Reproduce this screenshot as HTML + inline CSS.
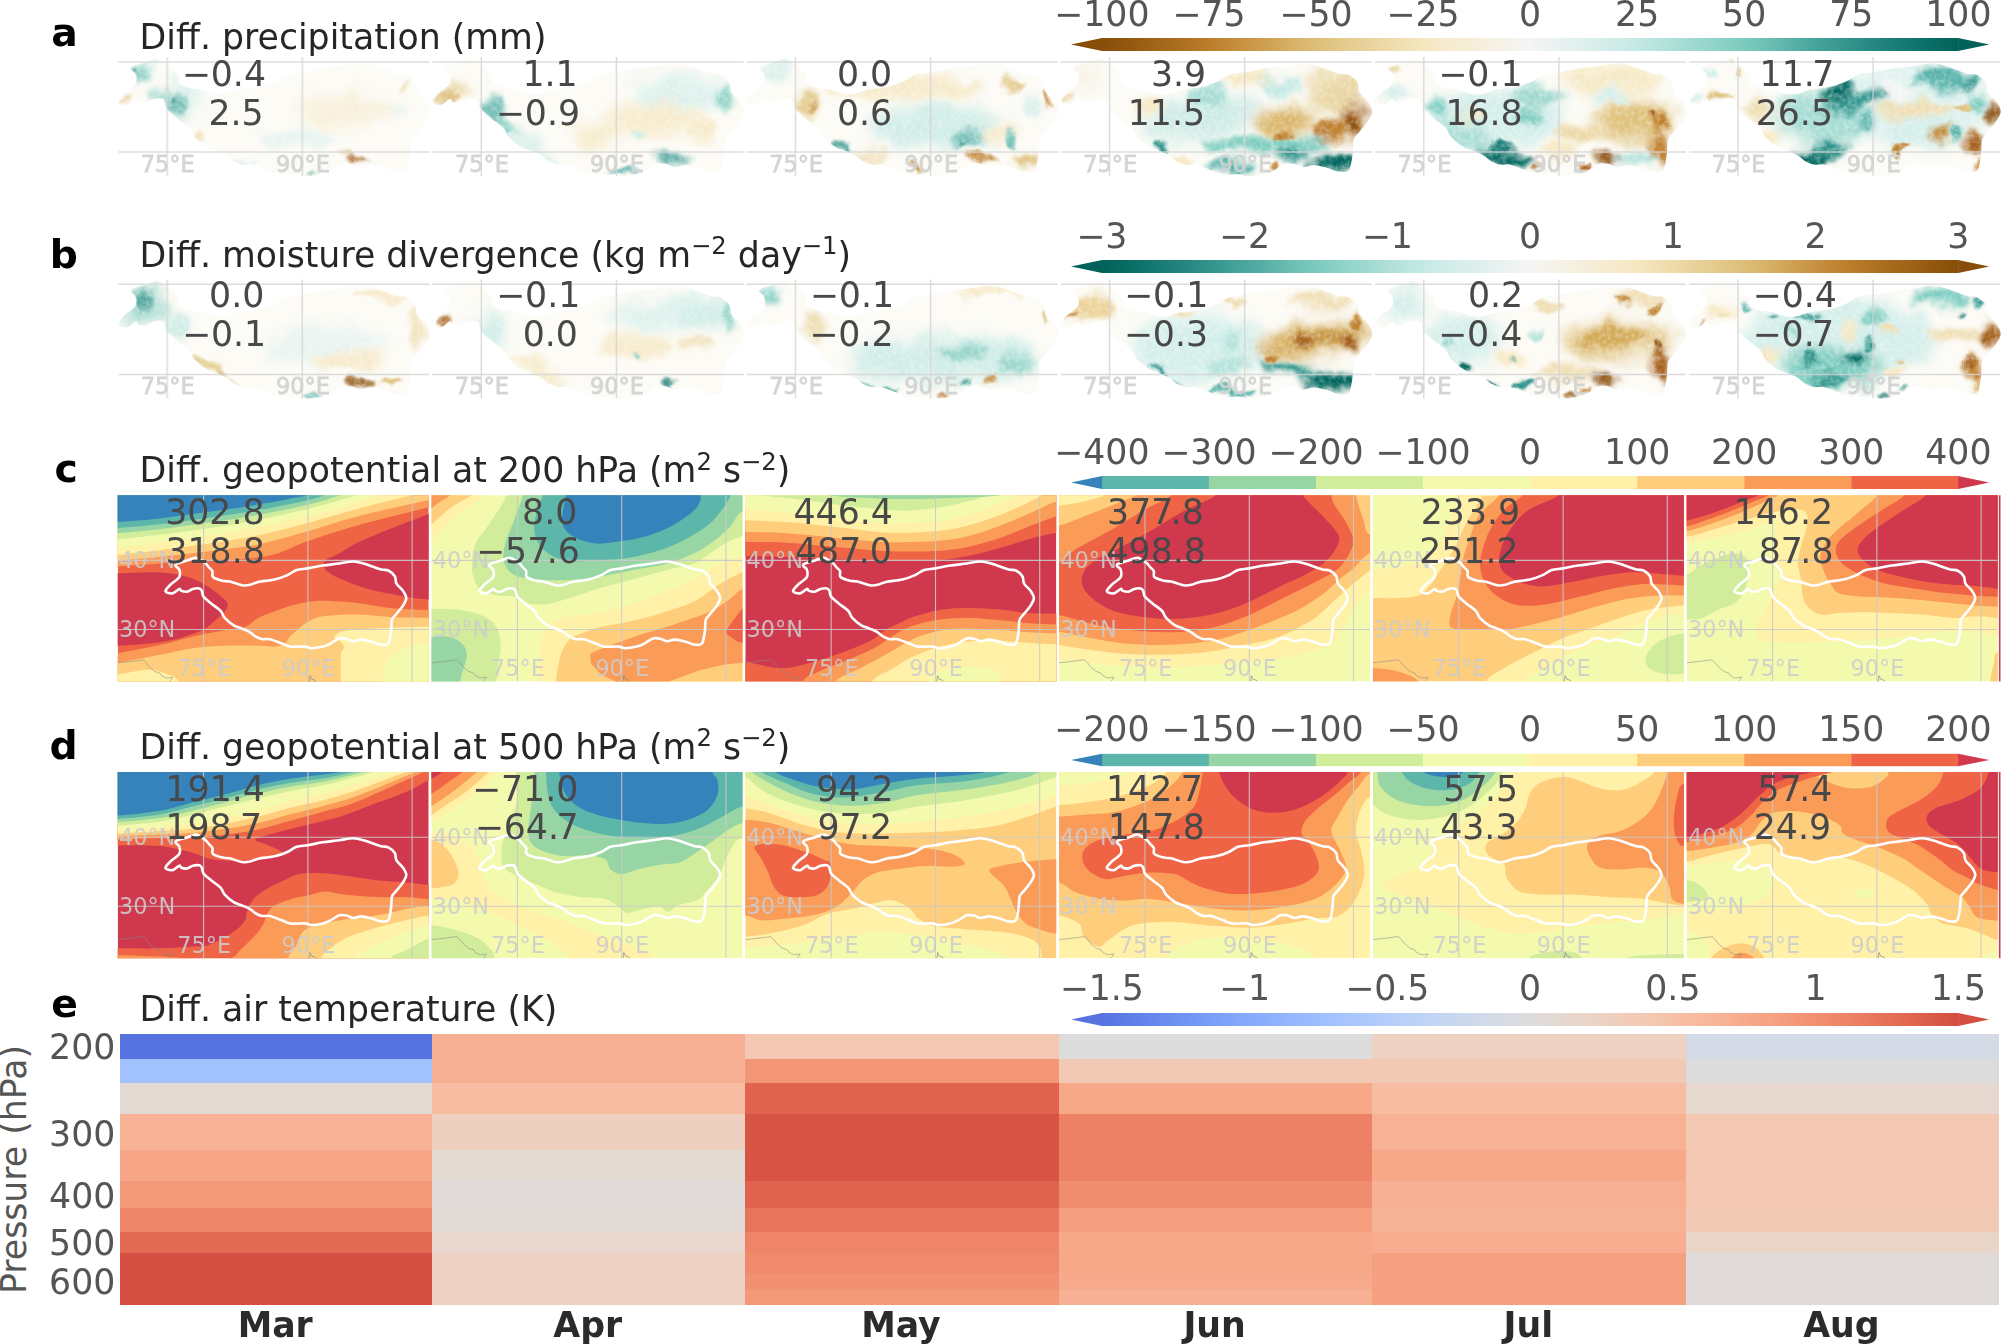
<!DOCTYPE html>
<html lang="en"><head><meta charset="utf-8"><title>Figure</title>
<style>html,body{margin:0;padding:0;background:#fff}svg{display:block}text{font-family:'DejaVu Sans','Liberation Sans',sans-serif}</style>
</head><body>
<svg width="2002" height="1344" viewBox="0 0 2002 1344">
<defs>
<path id="tpab" d="M12.5 10.5C14.2 8.6 23.0 6.7 27.4 5.2C31.8 3.7 35.4 1.1 39.1 1.5C42.8 1.9 46.9 5.2 49.7 7.4C52.5 9.5 54.3 12.3 56.1 14.3C57.8 16.2 59.5 17.1 60.3 19.1C61.1 21.2 58.7 24.5 60.9 26.5C63.0 28.6 69.4 30.4 73.0 31.4C76.7 32.3 78.4 31.4 82.6 32.4C86.9 33.4 94.0 36.5 98.5 37.2C102.9 38.0 105.5 37.4 109.1 36.7C112.6 36.0 114.4 34.1 119.7 32.9C125.0 31.8 134.8 31.2 141.0 29.8C147.2 28.4 152.1 26.5 156.8 24.5C161.5 22.4 164.8 18.9 169.4 17.4C173.9 15.9 178.6 16.3 184.3 15.3C189.9 14.4 196.6 12.6 203.3 11.5C210.1 10.5 218.0 9.8 224.6 8.9C231.1 8.1 237.3 6.3 242.6 6.3C247.9 6.3 250.5 7.3 256.4 8.9C262.2 10.6 272.3 14.9 277.6 16.4C282.9 17.9 285.1 16.5 288.2 18.1C291.4 19.6 294.9 22.7 296.7 25.5C298.4 28.3 297.1 32.0 298.9 35.2C300.6 38.3 305.2 41.5 307.3 44.7C309.4 47.9 311.6 51.1 311.6 54.3C311.6 57.5 309.4 60.5 307.3 63.8C305.2 67.2 301.3 71.5 298.9 74.5C296.5 77.6 294.2 78.7 293.0 82.1C291.9 85.5 292.5 90.8 292.0 94.9C291.6 99.0 291.1 103.4 290.3 106.6C289.5 109.8 289.3 112.7 287.2 114.0C285.1 115.4 281.0 115.1 277.6 114.6C274.2 114.0 271.0 112.0 267.0 110.9C262.9 109.8 257.3 108.3 253.2 108.2C249.2 108.1 245.8 110.4 242.6 110.3C239.4 110.1 237.2 107.7 234.2 107.1C231.2 106.5 228.0 105.6 224.6 106.6C221.2 107.6 217.5 111.2 214.0 113.0C210.4 114.8 207.6 116.2 203.3 117.3C199.1 118.4 192.4 119.4 188.6 119.4C184.7 119.4 184.6 117.6 180.0 117.3C175.4 116.9 166.2 118.0 161.1 117.3C156.0 116.6 153.8 114.6 149.4 113.0C145.0 111.4 138.7 108.5 134.6 107.6C130.6 106.8 128.1 108.2 125.0 107.6C122.0 107.1 119.3 106.0 116.5 104.4C113.6 102.8 111.0 99.8 108.0 98.0C105.0 96.2 101.8 95.2 98.5 93.8C95.1 92.4 91.5 91.8 87.8 89.5C84.1 87.2 79.0 83.0 76.2 79.9C73.3 76.8 74.0 74.1 71.0 70.9C68.0 67.7 61.9 63.8 58.1 60.7C54.4 57.6 50.6 54.8 48.7 52.1C46.7 49.4 47.4 46.4 46.5 44.7C45.6 42.9 45.3 42.0 43.4 41.5C41.4 41.1 37.5 41.4 34.8 42.1C32.1 42.8 29.9 45.3 27.4 45.7C24.9 46.1 21.7 45.3 20.0 44.7C18.3 44.1 19.2 41.5 17.3 42.1C15.4 42.6 11.4 47.4 8.4 47.9C5.3 48.5 -0.4 47.1 -0.7 45.2C-1.1 43.2 3.8 38.7 6.1 36.2C8.5 33.7 11.7 32.1 13.7 30.3C15.6 28.5 17.2 27.7 17.8 25.5C18.4 23.3 18.2 19.4 17.3 16.9C16.4 14.4 10.8 12.5 12.5 10.5Z"/>
<path id="tpcd" d="M57.9 69.5C59.2 68.0 66.0 66.6 69.4 65.4C72.8 64.3 75.5 62.3 78.4 62.6C81.3 62.9 84.4 65.5 86.6 67.1C88.8 68.7 90.1 70.9 91.5 72.4C92.9 73.9 94.2 74.5 94.8 76.1C95.4 77.7 93.6 80.2 95.2 81.8C96.8 83.4 101.8 84.8 104.6 85.5C107.4 86.3 108.7 85.6 112.0 86.3C115.3 87.1 120.8 89.5 124.2 90.0C127.6 90.6 129.7 90.2 132.4 89.6C135.1 89.0 136.5 87.6 140.6 86.7C144.7 85.8 152.2 85.4 157.0 84.3C161.8 83.2 165.6 81.8 169.2 80.2C172.9 78.6 175.4 76.0 178.9 74.8C182.4 73.6 186.0 74.0 190.4 73.2C194.8 72.5 199.9 71.1 205.1 70.3C210.3 69.5 216.4 69.0 221.5 68.3C226.6 67.6 231.3 66.3 235.4 66.3C239.5 66.3 241.5 67.0 246.0 68.3C250.5 69.6 258.3 72.8 262.4 74.0C266.5 75.2 268.2 74.1 270.6 75.3C273.1 76.5 275.7 78.8 277.1 81.0C278.5 83.2 277.4 86.0 278.8 88.4C280.2 90.9 283.7 93.2 285.3 95.7C286.9 98.1 288.6 100.6 288.6 103.1C288.6 105.5 286.9 107.8 285.3 110.4C283.7 113.0 280.6 116.3 278.8 118.6C277.0 120.9 275.2 121.8 274.3 124.4C273.4 127.0 273.9 131.1 273.5 134.2C273.2 137.3 272.8 140.8 272.2 143.2C271.6 145.7 271.4 147.9 269.8 148.9C268.2 149.9 265.0 149.7 262.4 149.3C259.8 148.9 257.3 147.3 254.2 146.5C251.1 145.7 246.7 144.5 243.6 144.4C240.5 144.3 237.8 146.1 235.4 146.0C233.0 145.9 231.2 144.1 228.9 143.6C226.6 143.1 224.1 142.5 221.5 143.2C218.9 144.0 216.0 146.7 213.3 148.1C210.6 149.5 208.4 150.6 205.1 151.4C201.8 152.2 196.7 153.0 193.7 153.0C190.7 153.0 190.6 151.7 187.1 151.4C183.6 151.1 176.4 152.0 172.5 151.4C168.6 150.9 166.9 149.3 163.5 148.1C160.1 146.9 155.2 144.7 152.1 144.0C149.0 143.3 147.0 144.4 144.7 144.0C142.4 143.6 140.3 142.7 138.1 141.5C135.9 140.3 133.9 137.9 131.6 136.6C129.3 135.2 126.8 134.5 124.2 133.4C121.6 132.3 118.9 131.9 116.0 130.1C113.1 128.3 109.2 125.1 107.0 122.7C104.8 120.3 105.3 118.3 103.0 115.8C100.7 113.4 96.0 110.4 93.1 108.0C90.2 105.6 87.3 103.5 85.8 101.4C84.3 99.4 84.8 97.0 84.1 95.7C83.4 94.3 83.2 93.6 81.7 93.3C80.2 93.0 77.2 93.2 75.1 93.7C73.1 94.2 71.3 96.2 69.4 96.5C67.5 96.8 65.0 96.2 63.7 95.7C62.4 95.2 63.1 93.3 61.6 93.7C60.1 94.1 57.0 97.8 54.7 98.2C52.4 98.6 48.0 97.6 47.7 96.1C47.4 94.6 51.2 91.1 53.0 89.2C54.9 87.3 57.3 86.1 58.8 84.7C60.3 83.3 61.5 82.7 62.0 81.0C62.5 79.3 62.3 76.3 61.6 74.4C60.9 72.5 56.6 71.0 57.9 69.5Z"/>
<clipPath id="cliptp"><use href="#tpab"/></clipPath>
<clipPath id="clipcd"><rect x="0" y="0" width="311.0" height="186.2"/></clipPath>
<filter id="bl0" x="-30%" y="-30%" width="160%" height="160%"><feGaussianBlur stdDeviation="1.6"/></filter>
<filter id="bl1" x="-30%" y="-30%" width="160%" height="160%"><feGaussianBlur stdDeviation="3.2"/></filter>
<filter id="bl2" x="-30%" y="-30%" width="160%" height="160%"><feGaussianBlur stdDeviation="6.5"/></filter>
<filter id="warp" x="-5%" y="-10%" width="110%" height="120%" color-interpolation-filters="sRGB"><feTurbulence type="fractalNoise" baseFrequency="0.035" numOctaves="3" seed="7" result="t"/><feDisplacementMap in="SourceGraphic" in2="t" scale="22" xChannelSelector="R" yChannelSelector="G" result="d"/><feTurbulence type="fractalNoise" baseFrequency="0.22" numOctaves="2" seed="3" result="n"/><feColorMatrix in="n" type="matrix" values="0 0 0 0 1  0 0 0 0 1  0 0 0 0 1  0.8 0 0 0 -0.33" result="w"/><feComposite in="w" in2="d" operator="in" result="wm"/><feMerge><feMergeNode in="d"/><feMergeNode in="wm"/></feMerge></filter>
</defs>
<g id="rows_ab">
<g transform="translate(118.4,57.0)"><g clip-path="url(#cliptp)"><rect x="-5" y="-5" width="325" height="135" fill="#fcfbf6"/><g filter="url(#warp)" opacity="0.8"><g filter="url(#bl2)"><ellipse cx="226.3" cy="52.9" rx="49.5" ry="16.5" fill="#f8eed6"/><ellipse cx="65.4" cy="40.7" rx="16.5" ry="19.8" fill="#d5efeb" transform="rotate(30 65.4 40.7)"/></g><g filter="url(#bl1)"><ellipse cx="16.3" cy="16.4" rx="18.1" ry="9.9" fill="#9bd7cd" transform="rotate(-15 16.3 16.4)"/><ellipse cx="46.0" cy="44.5" rx="7.4" ry="18.1" fill="#9bd7cd" transform="rotate(-35 46.0 44.5)"/><ellipse cx="182.6" cy="80.9" rx="41.2" ry="9.9" fill="#e3f3f0"/><ellipse cx="278.7" cy="52.9" rx="9.9" ry="6.6" fill="#e3f3f0"/><ellipse cx="21.8" cy="16.3" rx="7.4" ry="6.6" fill="#80cdc1"/><ellipse cx="58.5" cy="47.7" rx="10.7" ry="8.2" fill="#5ab4ac" transform="rotate(40 58.5 47.7)"/></g><g filter="url(#bl0)"><ellipse cx="121.5" cy="103.6" rx="16.5" ry="3.3" fill="#d5efeb"/><ellipse cx="16.5" cy="11.0" rx="4.1" ry="2.0" fill="#35978f" transform="rotate(-20 16.5 11.0)"/><ellipse cx="51.6" cy="42.5" rx="2.5" ry="2.5" fill="#1b7d76"/><ellipse cx="7.8" cy="43.3" rx="6.6" ry="2.5" fill="#e6cf9a" transform="rotate(-20 7.8 43.3)"/><ellipse cx="240.3" cy="103.6" rx="8.2" ry="3.0" fill="#a6611a"/><ellipse cx="231.6" cy="99.3" rx="4.9" ry="1.6" fill="#d8b365"/><ellipse cx="287.5" cy="30.3" rx="4.9" ry="3.3" fill="#f0dfb5"/><ellipse cx="191.4" cy="117.3" rx="6.6" ry="1.3" fill="#35978f"/><ellipse cx="291.9" cy="100.2" rx="1.0" ry="3.3" fill="#5ab4ac"/><ellipse cx="81.3" cy="77.4" rx="4.9" ry="6.6" fill="#f0dfb5"/></g></g></g><line x1="48.8" y1="0" x2="48.8" y2="119" stroke="#d4d4d4" stroke-width="1.5" opacity="0.8"/><line x1="183.9" y1="0" x2="183.9" y2="119" stroke="#d4d4d4" stroke-width="1.5" opacity="0.8"/><line x1="0" y1="4.9" x2="311" y2="4.9" stroke="#d4d4d4" stroke-width="1.5" opacity="0.8"/><line x1="0" y1="95.0" x2="311" y2="95.0" stroke="#d4d4d4" stroke-width="1.5" opacity="0.8"/><text x="49.4" y="115" font-size="22.4" fill="#d2d2d2" stroke="#d2d2d2" stroke-width="0.8" fill-opacity="0.9" stroke-opacity="0.9" text-anchor="middle">75°E</text><text x="184.5" y="115" font-size="22.4" fill="#d2d2d2" stroke="#d2d2d2" stroke-width="0.8" fill-opacity="0.9" stroke-opacity="0.9" text-anchor="middle">90°E</text></g>
<g transform="translate(432.5,57.0)"><g clip-path="url(#cliptp)"><rect x="-5" y="-5" width="325" height="135" fill="#fcfbf6"/><g filter="url(#warp)" opacity="0.8"><g filter="url(#bl2)"><ellipse cx="247.3" cy="36.5" rx="47.8" ry="16.0" fill="#d5efeb"/><ellipse cx="221.7" cy="62.1" rx="47.8" ry="16.0" fill="#f6e8c3"/><ellipse cx="164.0" cy="78.1" rx="19.1" ry="16.0" fill="#f6e8c3"/></g><g filter="url(#bl1)"><ellipse cx="16.2" cy="38.7" rx="14.0" ry="6.6" fill="#d8b365" transform="rotate(-15 16.2 38.7)"/><ellipse cx="29.4" cy="32.9" rx="9.9" ry="8.2" fill="#ecd9a8"/><ellipse cx="80.5" cy="74.1" rx="26.4" ry="5.8" fill="#80cdc1" transform="rotate(40 80.5 74.1)"/><ellipse cx="269.5" cy="74.9" rx="16.0" ry="9.6" fill="#f6e8c3"/><ellipse cx="96.9" cy="90.9" rx="32.0" ry="9.9" fill="#d5efeb" transform="rotate(30 96.9 90.9)"/><ellipse cx="60.2" cy="52.5" rx="12.9" ry="12.9" fill="#5ab4ac" transform="rotate(40 60.2 52.5)"/><ellipse cx="295.2" cy="43.0" rx="11.5" ry="9.6" fill="#80cdc1"/><ellipse cx="240.8" cy="102.1" rx="12.9" ry="6.4" fill="#35978f"/><ellipse cx="16.2" cy="28.0" rx="6.6" ry="6.6" fill="#f0dfb5"/></g><g filter="url(#bl0)"><ellipse cx="70.6" cy="67.5" rx="9.9" ry="4.9" fill="#80cdc1" transform="rotate(40 70.6 67.5)"/><ellipse cx="189.7" cy="113.4" rx="16.0" ry="3.8" fill="#5ab4ac"/><ellipse cx="208.9" cy="73.3" rx="9.6" ry="4.8" fill="#c7eae5"/><ellipse cx="23.4" cy="41.3" rx="9.6" ry="4.8" fill="#d8b365"/></g></g></g><line x1="48.8" y1="0" x2="48.8" y2="119" stroke="#d4d4d4" stroke-width="1.5" opacity="0.8"/><line x1="183.9" y1="0" x2="183.9" y2="119" stroke="#d4d4d4" stroke-width="1.5" opacity="0.8"/><line x1="0" y1="4.9" x2="311" y2="4.9" stroke="#d4d4d4" stroke-width="1.5" opacity="0.8"/><line x1="0" y1="95.0" x2="311" y2="95.0" stroke="#d4d4d4" stroke-width="1.5" opacity="0.8"/><text x="49.4" y="115" font-size="22.4" fill="#d2d2d2" stroke="#d2d2d2" stroke-width="0.8" fill-opacity="0.9" stroke-opacity="0.9" text-anchor="middle">75°E</text><text x="184.5" y="115" font-size="22.4" fill="#d2d2d2" stroke="#d2d2d2" stroke-width="0.8" fill-opacity="0.9" stroke-opacity="0.9" text-anchor="middle">90°E</text></g>
<g transform="translate(746.7,57.0)"><g clip-path="url(#cliptp)"><rect x="-5" y="-5" width="325" height="135" fill="#fcfbf6"/><g filter="url(#warp)" opacity="0.8"><g filter="url(#bl2)"><ellipse cx="188.8" cy="68.5" rx="64.3" ry="22.4" fill="#c7eae5"/></g><g filter="url(#bl1)"><ellipse cx="156.8" cy="30.1" rx="79.9" ry="12.9" fill="#f6e8c3"/><ellipse cx="60.9" cy="46.1" rx="12.9" ry="12.9" fill="#dfc27d" transform="rotate(45 60.9 46.1)"/><ellipse cx="275.2" cy="103.6" rx="12.9" ry="6.4" fill="#d8b365"/><ellipse cx="124.8" cy="97.4" rx="16.0" ry="6.4" fill="#f0dfb5"/><ellipse cx="252.8" cy="78.1" rx="19.1" ry="6.4" fill="#f6e8c3"/><ellipse cx="220.8" cy="81.4" rx="12.9" ry="11.2" fill="#5ab4ac"/><ellipse cx="284.7" cy="49.4" rx="12.9" ry="12.9" fill="#d5efeb"/><ellipse cx="28.9" cy="14.1" rx="16.0" ry="9.6" fill="#d5efeb"/></g><g filter="url(#bl0)"><ellipse cx="65.7" cy="50.9" rx="4.8" ry="4.8" fill="#c99a4a"/><ellipse cx="265.6" cy="27.0" rx="9.6" ry="4.8" fill="#dfc27d"/><ellipse cx="236.8" cy="102.1" rx="12.9" ry="4.8" fill="#bf812d"/><ellipse cx="169.7" cy="111.7" rx="3.3" ry="3.3" fill="#bf812d"/><ellipse cx="305.5" cy="46.1" rx="2.6" ry="7.9" fill="#bf812d"/><ellipse cx="219.3" cy="89.3" rx="3.3" ry="3.3" fill="#1b7d76"/><ellipse cx="265.6" cy="84.5" rx="4.8" ry="6.4" fill="#5ab4ac"/><ellipse cx="96.2" cy="90.9" rx="12.9" ry="3.8" fill="#35978f" transform="rotate(30 96.2 90.9)"/></g></g></g><line x1="48.8" y1="0" x2="48.8" y2="119" stroke="#d4d4d4" stroke-width="1.5" opacity="0.8"/><line x1="183.9" y1="0" x2="183.9" y2="119" stroke="#d4d4d4" stroke-width="1.5" opacity="0.8"/><line x1="0" y1="4.9" x2="311" y2="4.9" stroke="#d4d4d4" stroke-width="1.5" opacity="0.8"/><line x1="0" y1="95.0" x2="311" y2="95.0" stroke="#d4d4d4" stroke-width="1.5" opacity="0.8"/><text x="49.4" y="115" font-size="22.4" fill="#d2d2d2" stroke="#d2d2d2" stroke-width="0.8" fill-opacity="0.9" stroke-opacity="0.9" text-anchor="middle">75°E</text><text x="184.5" y="115" font-size="22.4" fill="#d2d2d2" stroke="#d2d2d2" stroke-width="0.8" fill-opacity="0.9" stroke-opacity="0.9" text-anchor="middle">90°E</text></g>
<g transform="translate(1060.8,57.0)"><g clip-path="url(#cliptp)"><rect x="-5" y="-5" width="325" height="135" fill="#fcfbf6"/><g filter="url(#warp)"><g filter="url(#bl2)"><ellipse cx="138.5" cy="60.9" rx="57.7" ry="21.4" fill="#d0ece7" transform="rotate(-10 138.5 60.9)"/><ellipse cx="278.6" cy="36.2" rx="29.7" ry="24.7" fill="#ead7a6"/><ellipse cx="224.2" cy="64.2" rx="29.7" ry="13.2" fill="#d8b365"/><ellipse cx="293.4" cy="64.2" rx="14.8" ry="16.5" fill="#a6611a"/><ellipse cx="23.1" cy="19.7" rx="16.5" ry="13.2" fill="#f8f3e6"/></g><g filter="url(#bl1)"><ellipse cx="188.0" cy="21.4" rx="33.0" ry="6.6" fill="#f6e8c3"/><ellipse cx="89.1" cy="49.4" rx="13.2" ry="8.2" fill="#f6e8c3"/><ellipse cx="220.9" cy="29.6" rx="21.4" ry="9.9" fill="#c7eae5"/><ellipse cx="146.7" cy="39.5" rx="19.8" ry="9.9" fill="#a8ddd5"/><ellipse cx="204.4" cy="87.3" rx="65.9" ry="8.2" fill="#80cdc1"/><ellipse cx="171.5" cy="110.4" rx="24.7" ry="6.6" fill="#5ab4ac"/><ellipse cx="270.4" cy="75.8" rx="19.8" ry="8.2" fill="#bf812d"/><ellipse cx="295.1" cy="67.5" rx="8.2" ry="8.2" fill="#8c510a"/><ellipse cx="234.1" cy="100.5" rx="13.2" ry="6.6" fill="#35978f"/><ellipse cx="272.0" cy="105.4" rx="21.4" ry="9.1" fill="#01665e"/></g><g filter="url(#bl0)"><ellipse cx="102.2" cy="92.3" rx="9.9" ry="4.1" fill="#35978f" transform="rotate(30 102.2 92.3)"/><ellipse cx="224.2" cy="77.4" rx="6.6" ry="4.9" fill="#bf812d"/><ellipse cx="122.0" cy="100.5" rx="9.9" ry="4.1" fill="#f6e8c3"/><ellipse cx="214.3" cy="110.4" rx="4.1" ry="4.1" fill="#bf812d"/><ellipse cx="6.6" cy="41.2" rx="6.6" ry="3.3" fill="#f0dfb5"/></g></g></g><line x1="48.8" y1="0" x2="48.8" y2="119" stroke="#d4d4d4" stroke-width="1.5" opacity="0.8"/><line x1="183.9" y1="0" x2="183.9" y2="119" stroke="#d4d4d4" stroke-width="1.5" opacity="0.8"/><line x1="0" y1="4.9" x2="311" y2="4.9" stroke="#d4d4d4" stroke-width="1.5" opacity="0.8"/><line x1="0" y1="95.0" x2="311" y2="95.0" stroke="#d4d4d4" stroke-width="1.5" opacity="0.8"/><text x="49.4" y="115" font-size="22.4" fill="#d2d2d2" stroke="#d2d2d2" stroke-width="0.8" fill-opacity="0.9" stroke-opacity="0.9" text-anchor="middle">75°E</text><text x="184.5" y="115" font-size="22.4" fill="#d2d2d2" stroke="#d2d2d2" stroke-width="0.8" fill-opacity="0.9" stroke-opacity="0.9" text-anchor="middle">90°E</text></g>
<g transform="translate(1375.0,57.0)"><g clip-path="url(#cliptp)"><rect x="-5" y="-5" width="325" height="135" fill="#fcfbf6"/><g filter="url(#warp)"><g filter="url(#bl2)"><ellipse cx="120.9" cy="60.9" rx="65.9" ry="29.7" fill="#d5efeb"/><ellipse cx="236.3" cy="23.0" rx="49.5" ry="13.2" fill="#f6e8c3"/><ellipse cx="261.0" cy="64.2" rx="41.2" ry="21.4" fill="#dfc27d"/><ellipse cx="87.9" cy="80.7" rx="33.0" ry="13.2" fill="#a8ddd5" transform="rotate(30 87.9 80.7)"/></g><g filter="url(#bl1)"><ellipse cx="203.3" cy="74.1" rx="24.7" ry="9.9" fill="#ecd9a8"/><ellipse cx="183.5" cy="93.9" rx="19.8" ry="8.2" fill="#f6e8c3"/><ellipse cx="162.1" cy="39.5" rx="24.7" ry="8.2" fill="#9bd7cd"/><ellipse cx="153.8" cy="56.0" rx="13.2" ry="6.6" fill="#80cdc1"/><ellipse cx="61.5" cy="49.4" rx="11.5" ry="6.6" fill="#80cdc1" transform="rotate(30 61.5 49.4)"/><ellipse cx="261.0" cy="100.5" rx="19.8" ry="6.6" fill="#b5e3dc"/><ellipse cx="236.3" cy="39.5" rx="19.8" ry="6.6" fill="#d5efeb"/><ellipse cx="96.1" cy="60.9" rx="9.9" ry="6.6" fill="#f6e8c3"/><ellipse cx="134.1" cy="100.5" rx="28.0" ry="6.6" fill="#01665e" transform="rotate(15 134.1 100.5)"/><ellipse cx="285.7" cy="65.9" rx="11.5" ry="11.5" fill="#bf812d"/><ellipse cx="284.1" cy="93.9" rx="9.9" ry="14.8" fill="#bf812d"/><ellipse cx="234.6" cy="103.8" rx="11.5" ry="5.8" fill="#8c510a"/><ellipse cx="22.0" cy="36.2" rx="16.5" ry="6.6" fill="#d5efeb"/></g><g filter="url(#bl0)"><ellipse cx="125.8" cy="89.0" rx="9.9" ry="4.9" fill="#1b7d76"/><ellipse cx="274.2" cy="56.0" rx="4.9" ry="4.9" fill="#a6611a"/><ellipse cx="209.9" cy="111.2" rx="6.6" ry="3.3" fill="#a6611a"/><ellipse cx="163.7" cy="114.5" rx="4.9" ry="2.0" fill="#a6611a"/><ellipse cx="20.3" cy="9.0" rx="6.6" ry="1.6" fill="#dfc27d"/></g></g></g><line x1="48.8" y1="0" x2="48.8" y2="119" stroke="#d4d4d4" stroke-width="1.5" opacity="0.8"/><line x1="183.9" y1="0" x2="183.9" y2="119" stroke="#d4d4d4" stroke-width="1.5" opacity="0.8"/><line x1="0" y1="4.9" x2="311" y2="4.9" stroke="#d4d4d4" stroke-width="1.5" opacity="0.8"/><line x1="0" y1="95.0" x2="311" y2="95.0" stroke="#d4d4d4" stroke-width="1.5" opacity="0.8"/><text x="49.4" y="115" font-size="22.4" fill="#d2d2d2" stroke="#d2d2d2" stroke-width="0.8" fill-opacity="0.9" stroke-opacity="0.9" text-anchor="middle">75°E</text><text x="184.5" y="115" font-size="22.4" fill="#d2d2d2" stroke="#d2d2d2" stroke-width="0.8" fill-opacity="0.9" stroke-opacity="0.9" text-anchor="middle">90°E</text></g>
<g transform="translate(1689.2,57.0)"><g clip-path="url(#cliptp)"><rect x="-5" y="-5" width="325" height="135" fill="#fcfbf6"/><g filter="url(#warp)"><g filter="url(#bl2)"><ellipse cx="223.5" cy="48.4" rx="84.2" ry="42.1" fill="#dff2ef"/><ellipse cx="134.5" cy="59.7" rx="48.6" ry="27.5" fill="#a8ddd5"/><ellipse cx="231.6" cy="72.7" rx="32.4" ry="19.4" fill="#d5efeb"/></g><g filter="url(#bl1)"><ellipse cx="163.6" cy="43.6" rx="32.4" ry="7.3" fill="#35978f" transform="rotate(-15 163.6 43.6)"/><ellipse cx="207.3" cy="32.2" rx="16.2" ry="9.7" fill="#f5f5f5"/><ellipse cx="223.5" cy="51.6" rx="40.5" ry="8.1" fill="#f0dfb5"/><ellipse cx="69.8" cy="51.6" rx="14.6" ry="9.7" fill="#f0dfb5"/><ellipse cx="81.1" cy="79.2" rx="9.7" ry="8.1" fill="#f6e8c3"/><ellipse cx="251.0" cy="22.5" rx="24.3" ry="9.7" fill="#5ab4ac"/><ellipse cx="280.2" cy="25.7" rx="9.7" ry="6.5" fill="#35978f"/><ellipse cx="288.3" cy="46.8" rx="11.3" ry="8.1" fill="#80cdc1"/><ellipse cx="175.0" cy="64.6" rx="8.1" ry="6.5" fill="#5ab4ac"/><ellipse cx="142.6" cy="92.1" rx="16.2" ry="9.7" fill="#35978f"/><ellipse cx="147.5" cy="35.5" rx="14.6" ry="6.5" fill="#01665e" transform="rotate(-15 147.5 35.5)"/><ellipse cx="123.2" cy="100.2" rx="17.8" ry="6.5" fill="#01665e"/><ellipse cx="251.0" cy="77.5" rx="12.9" ry="5.7" fill="#bf812d"/><ellipse cx="285.0" cy="87.2" rx="9.7" ry="9.7" fill="#a6611a"/><ellipse cx="306.1" cy="58.1" rx="6.5" ry="8.1" fill="#8c510a"/></g><g filter="url(#bl0)"><ellipse cx="268.8" cy="79.2" rx="4.0" ry="4.0" fill="#5ab4ac"/><ellipse cx="272.1" cy="50.0" rx="9.7" ry="4.9" fill="#dfc27d"/><ellipse cx="213.8" cy="90.5" rx="11.3" ry="4.9" fill="#bf812d"/><ellipse cx="213.8" cy="97.0" rx="3.2" ry="3.2" fill="#a6611a"/><ellipse cx="286.6" cy="108.3" rx="4.9" ry="4.9" fill="#bf812d"/><ellipse cx="30.9" cy="38.7" rx="12.9" ry="4.0" fill="#dfc27d"/><ellipse cx="42.3" cy="4.7" rx="4.9" ry="3.2" fill="#dfc27d"/><ellipse cx="53.6" cy="19.3" rx="3.2" ry="3.2" fill="#dfc27d"/><ellipse cx="18.0" cy="14.4" rx="9.7" ry="4.9" fill="#d5efeb"/><ellipse cx="8.3" cy="41.9" rx="6.5" ry="2.4" fill="#d5efeb"/></g></g></g><line x1="48.8" y1="0" x2="48.8" y2="119" stroke="#d4d4d4" stroke-width="1.5" opacity="0.8"/><line x1="183.9" y1="0" x2="183.9" y2="119" stroke="#d4d4d4" stroke-width="1.5" opacity="0.8"/><line x1="0" y1="4.9" x2="311" y2="4.9" stroke="#d4d4d4" stroke-width="1.5" opacity="0.8"/><line x1="0" y1="95.0" x2="311" y2="95.0" stroke="#d4d4d4" stroke-width="1.5" opacity="0.8"/><text x="49.4" y="115" font-size="22.4" fill="#d2d2d2" stroke="#d2d2d2" stroke-width="0.8" fill-opacity="0.9" stroke-opacity="0.9" text-anchor="middle">75°E</text><text x="184.5" y="115" font-size="22.4" fill="#d2d2d2" stroke="#d2d2d2" stroke-width="0.8" fill-opacity="0.9" stroke-opacity="0.9" text-anchor="middle">90°E</text></g>
<g transform="translate(118.4,279.4)"><g clip-path="url(#cliptp)"><rect x="-5" y="-5" width="325" height="135" fill="#fcfbf6"/><g filter="url(#warp)" opacity="0.8"><g filter="url(#bl2)"><ellipse cx="205.9" cy="66.1" rx="57.7" ry="19.1" fill="#e3f3f0"/><ellipse cx="24.9" cy="27.9" rx="23.9" ry="19.1" fill="#9bd7cd"/></g><g filter="url(#bl1)"><ellipse cx="229.8" cy="80.3" rx="37.9" ry="9.6" fill="#f6e8c3"/><ellipse cx="22.6" cy="20.5" rx="11.9" ry="11.9" fill="#35978f"/><ellipse cx="58.4" cy="46.7" rx="14.3" ry="11.9" fill="#c7eae5"/><ellipse cx="301.3" cy="51.5" rx="7.1" ry="19.1" fill="#f0dfb5"/></g><g filter="url(#bl0)"><ellipse cx="191.7" cy="117.2" rx="11.9" ry="2.8" fill="#5ab4ac"/><ellipse cx="241.8" cy="103.9" rx="11.9" ry="4.8" fill="#8c510a"/><ellipse cx="268.0" cy="101.4" rx="9.6" ry="3.8" fill="#d8b365"/><ellipse cx="96.4" cy="89.5" rx="28.5" ry="3.8" fill="#dfc27d" transform="rotate(30 96.4 89.5)"/><ellipse cx="110.8" cy="96.8" rx="7.1" ry="2.3" fill="#bf812d" transform="rotate(30 110.8 96.8)"/><ellipse cx="268.0" cy="18.2" rx="28.5" ry="4.8" fill="#f6e8c3"/></g></g></g><line x1="48.8" y1="0" x2="48.8" y2="119" stroke="#d4d4d4" stroke-width="1.5" opacity="0.8"/><line x1="183.9" y1="0" x2="183.9" y2="119" stroke="#d4d4d4" stroke-width="1.5" opacity="0.8"/><line x1="0" y1="4.9" x2="311" y2="4.9" stroke="#d4d4d4" stroke-width="1.5" opacity="0.8"/><line x1="0" y1="95.0" x2="311" y2="95.0" stroke="#d4d4d4" stroke-width="1.5" opacity="0.8"/><text x="49.4" y="115" font-size="22.4" fill="#d2d2d2" stroke="#d2d2d2" stroke-width="0.8" fill-opacity="0.9" stroke-opacity="0.9" text-anchor="middle">75°E</text><text x="184.5" y="115" font-size="22.4" fill="#d2d2d2" stroke="#d2d2d2" stroke-width="0.8" fill-opacity="0.9" stroke-opacity="0.9" text-anchor="middle">90°E</text></g>
<g transform="translate(432.5,279.4)"><g clip-path="url(#cliptp)"><rect x="-5" y="-5" width="325" height="135" fill="#fcfbf6"/><g filter="url(#warp)" opacity="0.8"><g filter="url(#bl2)"><ellipse cx="225.4" cy="37.1" rx="47.8" ry="14.3" fill="#d5efeb"/><ellipse cx="273.1" cy="32.3" rx="28.5" ry="14.3" fill="#c7eae5"/><ellipse cx="58.6" cy="51.5" rx="14.3" ry="19.1" fill="#c7eae5"/></g><g filter="url(#bl1)"><ellipse cx="301.8" cy="37.1" rx="7.1" ry="14.3" fill="#80cdc1"/><ellipse cx="201.7" cy="65.8" rx="37.9" ry="11.9" fill="#f6e8c3"/><ellipse cx="263.5" cy="65.8" rx="19.1" ry="7.1" fill="#f0dfb5"/><ellipse cx="106.3" cy="89.5" rx="28.5" ry="7.1" fill="#f6e8c3" transform="rotate(25 106.3 89.5)"/></g><g filter="url(#bl0)"><ellipse cx="239.8" cy="104.9" rx="5.8" ry="4.8" fill="#1b7d76"/><ellipse cx="206.3" cy="72.9" rx="3.8" ry="3.8" fill="#80cdc1"/><ellipse cx="13.5" cy="41.9" rx="7.1" ry="3.8" fill="#a6611a"/></g></g></g><line x1="48.8" y1="0" x2="48.8" y2="119" stroke="#d4d4d4" stroke-width="1.5" opacity="0.8"/><line x1="183.9" y1="0" x2="183.9" y2="119" stroke="#d4d4d4" stroke-width="1.5" opacity="0.8"/><line x1="0" y1="4.9" x2="311" y2="4.9" stroke="#d4d4d4" stroke-width="1.5" opacity="0.8"/><line x1="0" y1="95.0" x2="311" y2="95.0" stroke="#d4d4d4" stroke-width="1.5" opacity="0.8"/><text x="49.4" y="115" font-size="22.4" fill="#d2d2d2" stroke="#d2d2d2" stroke-width="0.8" fill-opacity="0.9" stroke-opacity="0.9" text-anchor="middle">75°E</text><text x="184.5" y="115" font-size="22.4" fill="#d2d2d2" stroke="#d2d2d2" stroke-width="0.8" fill-opacity="0.9" stroke-opacity="0.9" text-anchor="middle">90°E</text></g>
<g transform="translate(746.7,279.4)"><g clip-path="url(#cliptp)"><rect x="-5" y="-5" width="325" height="135" fill="#fcfbf6"/><g filter="url(#warp)" opacity="0.8"><g filter="url(#bl2)"><ellipse cx="197.2" cy="80.0" rx="95.3" ry="23.9" fill="#c7eae5"/></g><g filter="url(#bl1)"><ellipse cx="20.8" cy="15.7" rx="11.9" ry="9.6" fill="#80cdc1"/><ellipse cx="216.3" cy="70.4" rx="23.9" ry="7.1" fill="#80cdc1"/><ellipse cx="268.7" cy="84.8" rx="19.1" ry="5.8" fill="#80cdc1"/><ellipse cx="68.5" cy="46.7" rx="14.3" ry="11.9" fill="#ecd9a8" transform="rotate(45 68.5 46.7)"/></g><g filter="url(#bl0)"><ellipse cx="125.7" cy="106.2" rx="28.5" ry="3.8" fill="#35978f" transform="rotate(15 125.7 106.2)"/><ellipse cx="221.1" cy="106.2" rx="7.1" ry="2.8" fill="#35978f"/><ellipse cx="194.7" cy="117.2" rx="7.1" ry="2.3" fill="#a6611a"/><ellipse cx="244.8" cy="99.1" rx="3.8" ry="7.1" fill="#bf812d"/><ellipse cx="304.3" cy="41.9" rx="2.3" ry="4.8" fill="#d8b365"/><ellipse cx="292.5" cy="96.8" rx="2.3" ry="2.3" fill="#bf812d"/><ellipse cx="244.8" cy="13.4" rx="28.5" ry="4.8" fill="#f6e8c3"/></g></g></g><line x1="48.8" y1="0" x2="48.8" y2="119" stroke="#d4d4d4" stroke-width="1.5" opacity="0.8"/><line x1="183.9" y1="0" x2="183.9" y2="119" stroke="#d4d4d4" stroke-width="1.5" opacity="0.8"/><line x1="0" y1="4.9" x2="311" y2="4.9" stroke="#d4d4d4" stroke-width="1.5" opacity="0.8"/><line x1="0" y1="95.0" x2="311" y2="95.0" stroke="#d4d4d4" stroke-width="1.5" opacity="0.8"/><text x="49.4" y="115" font-size="22.4" fill="#d2d2d2" stroke="#d2d2d2" stroke-width="0.8" fill-opacity="0.9" stroke-opacity="0.9" text-anchor="middle">75°E</text><text x="184.5" y="115" font-size="22.4" fill="#d2d2d2" stroke="#d2d2d2" stroke-width="0.8" fill-opacity="0.9" stroke-opacity="0.9" text-anchor="middle">90°E</text></g>
<g transform="translate(1060.8,279.4)"><g clip-path="url(#cliptp)"><rect x="-5" y="-5" width="325" height="135" fill="#fcfbf6"/><g filter="url(#warp)"><g filter="url(#bl2)"><ellipse cx="138.5" cy="68.8" rx="65.9" ry="33.0" fill="#d5efeb"/><ellipse cx="253.9" cy="60.5" rx="57.7" ry="16.5" fill="#d6b064" transform="rotate(-8 253.9 60.5)"/></g><g filter="url(#bl1)"><ellipse cx="168.2" cy="60.5" rx="8.2" ry="9.9" fill="#b5e3dc"/><ellipse cx="168.2" cy="86.9" rx="19.8" ry="9.9" fill="#b5e3dc"/><ellipse cx="262.1" cy="22.6" rx="33.0" ry="6.6" fill="#f0dfb5"/><ellipse cx="270.4" cy="60.5" rx="24.7" ry="9.9" fill="#c99a4a"/><ellipse cx="242.3" cy="62.2" rx="9.9" ry="7.4" fill="#a6611a"/><ellipse cx="290.2" cy="63.8" rx="11.5" ry="9.9" fill="#a6611a"/><ellipse cx="28.1" cy="27.6" rx="24.7" ry="12.4" fill="#ecd39a"/><ellipse cx="234.1" cy="91.0" rx="36.3" ry="5.8" fill="#35978f" transform="rotate(12 234.1 91.0)"/><ellipse cx="270.4" cy="101.7" rx="24.7" ry="9.9" fill="#01665e"/></g><g filter="url(#bl0)"><ellipse cx="171.5" cy="22.6" rx="16.5" ry="4.1" fill="#f0dfb5"/><ellipse cx="122.0" cy="34.2" rx="13.2" ry="2.5" fill="#f0dfb5"/><ellipse cx="298.4" cy="45.7" rx="8.2" ry="4.9" fill="#bf812d"/><ellipse cx="214.3" cy="76.2" rx="8.2" ry="4.1" fill="#bf812d"/><ellipse cx="9.9" cy="36.6" rx="4.1" ry="2.0" fill="#bf812d"/><ellipse cx="105.5" cy="95.1" rx="19.8" ry="2.5" fill="#35978f" transform="rotate(30 105.5 95.1)"/><ellipse cx="171.5" cy="113.3" rx="24.7" ry="4.1" fill="#5ab4ac"/></g></g></g><line x1="48.8" y1="0" x2="48.8" y2="119" stroke="#d4d4d4" stroke-width="1.5" opacity="0.8"/><line x1="183.9" y1="0" x2="183.9" y2="119" stroke="#d4d4d4" stroke-width="1.5" opacity="0.8"/><line x1="0" y1="4.9" x2="311" y2="4.9" stroke="#d4d4d4" stroke-width="1.5" opacity="0.8"/><line x1="0" y1="95.0" x2="311" y2="95.0" stroke="#d4d4d4" stroke-width="1.5" opacity="0.8"/><text x="49.4" y="115" font-size="22.4" fill="#d2d2d2" stroke="#d2d2d2" stroke-width="0.8" fill-opacity="0.9" stroke-opacity="0.9" text-anchor="middle">75°E</text><text x="184.5" y="115" font-size="22.4" fill="#d2d2d2" stroke="#d2d2d2" stroke-width="0.8" fill-opacity="0.9" stroke-opacity="0.9" text-anchor="middle">90°E</text></g>
<g transform="translate(1375.0,279.4)"><g clip-path="url(#cliptp)"><rect x="-5" y="-5" width="325" height="135" fill="#fcfbf6"/><g filter="url(#warp)"><g filter="url(#bl2)"><ellipse cx="87.9" cy="60.5" rx="41.2" ry="24.7" fill="#d5efeb"/><ellipse cx="26.9" cy="24.3" rx="21.4" ry="16.5" fill="#d5efeb"/><ellipse cx="244.5" cy="60.5" rx="57.7" ry="19.8" fill="#e6cf9a"/></g><g filter="url(#bl1)"><ellipse cx="269.2" cy="19.3" rx="24.7" ry="6.6" fill="#f0dfb5"/><ellipse cx="137.4" cy="80.3" rx="16.5" ry="6.6" fill="#f6e8c3"/><ellipse cx="195.0" cy="93.5" rx="33.0" ry="8.2" fill="#f0dfb5"/><ellipse cx="236.3" cy="57.2" rx="29.7" ry="11.5" fill="#d4ab5a"/><ellipse cx="285.7" cy="86.9" rx="8.2" ry="18.1" fill="#a6611a"/><ellipse cx="233.0" cy="103.4" rx="11.5" ry="5.8" fill="#8c510a"/></g><g filter="url(#bl0)"><ellipse cx="170.3" cy="27.6" rx="19.8" ry="4.9" fill="#f0dfb5"/><ellipse cx="282.4" cy="67.1" rx="4.9" ry="4.9" fill="#8c510a"/><ellipse cx="279.1" cy="29.2" rx="8.2" ry="4.1" fill="#bf812d"/><ellipse cx="251.1" cy="24.3" rx="6.6" ry="2.5" fill="#bf812d"/><ellipse cx="193.4" cy="116.6" rx="8.2" ry="2.5" fill="#8c510a"/><ellipse cx="209.9" cy="111.6" rx="6.6" ry="2.0" fill="#bf812d"/><ellipse cx="91.2" cy="88.6" rx="8.2" ry="3.3" fill="#01665e" transform="rotate(35 91.2 88.6)"/><ellipse cx="117.6" cy="101.7" rx="6.6" ry="2.5" fill="#01665e" transform="rotate(30 117.6 101.7)"/><ellipse cx="150.5" cy="105.0" rx="13.2" ry="4.9" fill="#35978f"/><ellipse cx="139.0" cy="81.1" rx="2.0" ry="2.0" fill="#35978f"/><ellipse cx="162.1" cy="52.3" rx="8.2" ry="3.3" fill="#b5e3dc"/><ellipse cx="74.7" cy="60.5" rx="6.6" ry="3.3" fill="#9bd7cd"/></g></g></g><line x1="48.8" y1="0" x2="48.8" y2="119" stroke="#d4d4d4" stroke-width="1.5" opacity="0.8"/><line x1="183.9" y1="0" x2="183.9" y2="119" stroke="#d4d4d4" stroke-width="1.5" opacity="0.8"/><line x1="0" y1="4.9" x2="311" y2="4.9" stroke="#d4d4d4" stroke-width="1.5" opacity="0.8"/><line x1="0" y1="95.0" x2="311" y2="95.0" stroke="#d4d4d4" stroke-width="1.5" opacity="0.8"/><text x="49.4" y="115" font-size="22.4" fill="#d2d2d2" stroke="#d2d2d2" stroke-width="0.8" fill-opacity="0.9" stroke-opacity="0.9" text-anchor="middle">75°E</text><text x="184.5" y="115" font-size="22.4" fill="#d2d2d2" stroke="#d2d2d2" stroke-width="0.8" fill-opacity="0.9" stroke-opacity="0.9" text-anchor="middle">90°E</text></g>
<g transform="translate(1689.2,279.4)"><g clip-path="url(#cliptp)"><rect x="-5" y="-5" width="325" height="135" fill="#fcfbf6"/><g filter="url(#warp)"><g filter="url(#bl2)"><ellipse cx="150.7" cy="59.3" rx="97.1" ry="40.5" fill="#d5efeb"/><ellipse cx="142.6" cy="88.5" rx="48.6" ry="21.0" fill="#80cdc1"/></g><g filter="url(#bl1)"><ellipse cx="251.0" cy="18.9" rx="25.9" ry="8.1" fill="#80cdc1"/><ellipse cx="183.1" cy="38.3" rx="8.1" ry="9.7" fill="#80cdc1"/><ellipse cx="100.5" cy="54.5" rx="6.5" ry="6.5" fill="#9bd7cd"/><ellipse cx="272.1" cy="56.1" rx="32.4" ry="8.1" fill="#f0dfb5"/><ellipse cx="158.8" cy="48.0" rx="8.1" ry="8.1" fill="#f6e8c3"/><ellipse cx="77.9" cy="75.5" rx="12.9" ry="9.7" fill="#f6e8c3"/><ellipse cx="29.3" cy="31.8" rx="16.2" ry="6.5" fill="#f6e8c3"/><ellipse cx="166.9" cy="77.1" rx="11.3" ry="5.7" fill="#01665e" transform="rotate(20 166.9 77.1)"/><ellipse cx="142.6" cy="99.8" rx="19.4" ry="6.5" fill="#35978f"/><ellipse cx="302.8" cy="57.7" rx="9.7" ry="9.7" fill="#a6611a"/><ellipse cx="283.4" cy="91.7" rx="8.1" ry="12.9" fill="#bf812d"/></g><g filter="url(#bl0)"><ellipse cx="199.2" cy="49.6" rx="12.9" ry="4.0" fill="#f0dfb5"/><ellipse cx="207.3" cy="91.7" rx="16.2" ry="4.9" fill="#f6e8c3"/><ellipse cx="178.2" cy="65.8" rx="6.5" ry="4.9" fill="#35978f"/><ellipse cx="121.6" cy="80.4" rx="9.7" ry="4.9" fill="#35978f"/><ellipse cx="121.6" cy="36.7" rx="12.9" ry="2.4" fill="#35978f"/><ellipse cx="86.0" cy="35.9" rx="4.9" ry="1.9" fill="#35978f"/><ellipse cx="56.8" cy="30.2" rx="6.5" ry="3.2" fill="#5ab4ac"/><ellipse cx="288.3" cy="25.3" rx="9.7" ry="3.2" fill="#35978f" transform="rotate(25 288.3 25.3)"/><ellipse cx="272.1" cy="33.4" rx="4.0" ry="1.9" fill="#01665e"/><ellipse cx="192.8" cy="117.6" rx="8.1" ry="1.9" fill="#01665e"/><ellipse cx="215.4" cy="109.5" rx="4.9" ry="1.6" fill="#35978f"/><ellipse cx="281.8" cy="83.6" rx="6.5" ry="4.0" fill="#a6611a"/><ellipse cx="285.0" cy="107.9" rx="4.9" ry="4.9" fill="#d8b365"/><ellipse cx="215.4" cy="80.4" rx="4.9" ry="3.2" fill="#dfc27d"/><ellipse cx="16.4" cy="43.2" rx="1.6" ry="1.6" fill="#a6611a"/><ellipse cx="37.4" cy="34.3" rx="4.9" ry="1.6" fill="#ecd9a8"/></g></g></g><line x1="48.8" y1="0" x2="48.8" y2="119" stroke="#d4d4d4" stroke-width="1.5" opacity="0.8"/><line x1="183.9" y1="0" x2="183.9" y2="119" stroke="#d4d4d4" stroke-width="1.5" opacity="0.8"/><line x1="0" y1="4.9" x2="311" y2="4.9" stroke="#d4d4d4" stroke-width="1.5" opacity="0.8"/><line x1="0" y1="95.0" x2="311" y2="95.0" stroke="#d4d4d4" stroke-width="1.5" opacity="0.8"/><text x="49.4" y="115" font-size="22.4" fill="#d2d2d2" stroke="#d2d2d2" stroke-width="0.8" fill-opacity="0.9" stroke-opacity="0.9" text-anchor="middle">75°E</text><text x="184.5" y="115" font-size="22.4" fill="#d2d2d2" stroke="#d2d2d2" stroke-width="0.8" fill-opacity="0.9" stroke-opacity="0.9" text-anchor="middle">90°E</text></g>
</g>
<g id="rows_cd">
<g transform="translate(117.7,495.2)" clip-path="url(#clipcd)"><rect width="311.0" height="186.2" fill="#ee6445"/><path d="M-24.2 73.6C-20.2 73.2 -11.3 72.4 -0.3 71.4C10.7 70.5 26.5 69.3 41.8 68.2C57.0 67.1 77.5 65.5 91.2 64.9C104.9 64.2 113.2 65.0 124.2 64.0C135.2 63.1 146.1 62.1 157.1 59.1C168.1 56.1 176.4 50.7 190.1 45.9C203.8 41.1 219.4 35.9 239.6 30.2C259.7 24.6 294.3 16.4 310.8 12.1C327.2 7.8 333.8 5.9 338.5 4.7L371.4 -54.7L-57.2 -54.7Z" fill="#fa9b58"/><path d="M-24.2 68.2C-20.2 67.7 -11.3 66.8 -0.3 65.7C10.7 64.6 26.5 63.2 41.8 61.6C57.0 60.0 74.7 58.2 91.2 56.1C107.7 54.1 124.2 52.5 140.7 49.2C157.1 45.8 173.6 40.7 190.1 36.0C206.6 31.3 219.4 26.4 239.6 21.2C259.7 16.0 294.3 8.5 310.8 4.7C327.2 0.8 333.8 -0.8 338.5 -1.9L371.4 -54.7L-57.2 -54.7Z" fill="#fece7c"/><path d="M-24.2 62.4C-20.2 62.0 -11.3 61.1 -0.3 59.9C10.7 58.7 26.5 56.9 41.8 55.0C57.0 53.0 74.7 50.8 91.2 48.4C107.7 45.9 124.2 43.6 140.7 40.1C157.1 36.7 173.6 32.2 190.1 27.8C206.6 23.4 222.2 18.4 239.6 13.8C256.9 9.1 281.6 3.2 293.9 0.1C306.3 -3.1 310.4 -4.3 313.7 -5.2L371.4 -54.7L-57.2 -54.7Z" fill="#fff1a8"/><path d="M-24.2 55.0C-20.2 54.6 -11.3 53.8 -0.3 52.5C10.7 51.2 26.5 49.2 41.8 47.2C57.0 45.2 74.7 43.2 91.2 40.6C107.7 38.1 124.2 35.2 140.7 31.9C157.1 28.6 173.6 25.0 190.1 20.8C206.6 16.7 227.5 10.6 239.6 7.2C251.6 3.7 255.8 2.1 262.6 0.1C269.5 -2.0 277.7 -4.3 280.8 -5.2L-57.2 -54.7Z" fill="#f4faad"/><path d="M-24.2 46.7C-20.2 46.3 -11.3 45.4 -0.3 44.3C10.7 43.1 26.5 41.5 41.8 39.6C57.0 37.8 74.7 35.6 91.2 33.0C107.7 30.5 124.2 27.7 140.7 24.5C157.1 21.3 173.6 17.8 190.1 13.8C206.6 9.7 228.6 3.2 239.6 0.1C250.5 -3.1 253.3 -4.3 256.0 -5.2L-57.2 -54.7Z" fill="#d1ed9c"/><path d="M-24.2 40.5C-20.2 40.0 -11.3 39.1 -0.3 38.0C10.7 36.9 26.5 35.8 41.8 34.0C57.0 32.3 74.7 29.9 91.2 27.4C107.7 25.0 124.2 22.5 140.7 19.5C157.1 16.6 176.4 12.9 190.1 9.6C203.8 6.4 214.8 2.5 223.1 0.1C231.3 -2.4 236.8 -4.3 239.6 -5.2L-57.2 -54.7Z" fill="#97d5a4"/><path d="M-24.2 35.5C-20.2 35.1 -11.3 34.1 -0.3 33.0C10.7 32.0 26.5 30.8 41.8 29.1C57.0 27.3 74.7 24.9 91.2 22.5C107.7 20.1 124.2 17.8 140.7 14.9C157.1 12.0 179.1 7.5 190.1 5.0C201.1 2.5 201.1 1.8 206.6 0.1C212.1 -1.6 220.3 -4.3 223.1 -5.2L-57.2 -54.7Z" fill="#5cb7aa"/><path d="M-24.2 29.4C-20.2 29.0 -11.3 28.0 -0.3 26.9C10.7 25.9 26.5 24.9 41.8 23.2C57.0 21.4 74.7 18.9 91.2 16.6C107.7 14.3 124.2 12.1 140.7 9.3C157.1 6.6 179.1 2.2 190.1 0.1C201.1 -2.1 203.8 -2.9 206.6 -3.6L-57.2 -54.7Z" fill="#3682ba"/><path d="M-24.2 78.0C-20.2 78.0 -11.3 78.2 -0.3 78.0C10.7 77.9 29.8 76.5 41.8 77.2C53.7 77.9 63.2 79.7 71.4 82.2C79.7 84.6 85.2 88.2 91.2 92.1C97.2 95.9 104.6 102.1 107.7 105.2C110.8 108.4 109.9 108.9 109.7 111.0C109.4 113.1 108.0 115.3 106.0 117.6C104.1 119.9 101.4 122.1 97.8 125.0C94.2 127.9 91.2 131.8 84.6 134.9C78.0 138.1 68.1 141.6 58.2 144.0C48.3 146.3 35.0 147.8 25.3 148.9C15.5 150.0 8.0 150.2 -0.3 150.6C-8.5 151.0 -20.2 151.3 -24.2 151.4L-24.2 78.0Z" fill="#d0384e"/><path d="M338.5 6.3C333.8 8.4 321.8 14.2 310.8 18.7C299.8 23.2 284.4 28.7 272.5 33.5C260.7 38.3 248.3 43.3 239.6 47.5C230.8 51.8 225.0 56.2 219.8 59.1C214.6 62.0 210.4 62.7 208.2 64.9C206.0 67.1 205.8 69.9 206.6 72.3C207.4 74.6 210.4 76.9 213.2 78.9C215.9 80.8 218.7 81.9 223.1 83.8C227.5 85.7 234.1 88.5 239.6 90.4C245.0 92.3 250.5 94.0 256.0 95.3C261.5 96.7 267.0 97.5 272.5 98.6C278.0 99.7 282.6 101.0 289.0 101.9C295.4 102.9 302.5 103.9 310.8 104.4C319.0 105.0 333.8 105.1 338.5 105.2L338.5 6.3Z" fill="#d0384e"/><path d="M-24.2 162.1C-20.2 161.4 -11.3 160.0 -0.3 158.0C10.7 155.9 29.3 152.5 41.8 149.7C54.3 147.0 63.7 144.0 74.7 141.5C85.7 139.0 98.9 136.6 107.7 134.9C116.5 133.3 122.0 133.7 127.5 131.6C133.0 129.6 135.7 125.2 140.7 122.5C145.6 119.9 151.6 118.0 157.1 116.0C162.6 113.9 168.1 111.7 173.6 110.2C179.1 108.7 184.6 107.7 190.1 106.9C195.6 106.1 198.3 105.4 206.6 105.6C214.8 105.7 228.6 106.5 239.6 107.7C250.5 108.9 260.7 111.5 272.5 112.7C284.4 113.8 299.8 114.4 310.8 114.8C321.8 115.2 333.8 115.1 338.5 115.1L371.4 242.1L-57.2 242.1Z" fill="#fa9b58"/><path d="M-24.2 172.8C-20.2 172.0 -11.3 170.1 -0.3 167.9C10.7 165.7 29.3 162.1 41.8 159.6C54.3 157.2 63.7 154.6 74.7 153.0C85.7 151.5 96.7 151.0 107.7 150.6C118.7 150.2 132.4 150.4 140.7 150.6C148.9 150.7 152.7 151.8 157.1 151.4C161.5 151.0 164.3 150.0 167.0 148.1C169.8 146.2 169.8 143.4 173.6 139.9C177.5 136.3 184.6 129.8 190.1 126.7C195.6 123.5 198.3 122.1 206.6 120.9C214.8 119.7 228.6 119.1 239.6 119.3C250.5 119.4 260.7 121.2 272.5 121.7C284.4 122.3 299.8 122.4 310.8 122.5C321.8 122.7 333.8 122.7 338.5 122.7L371.4 242.1L-57.2 242.1Z" fill="#fece7c"/><path d="M223.1 209.1C223.1 205.3 223.1 194.6 223.1 186.3C223.1 178.1 222.5 165.2 223.1 159.6C223.6 154.1 226.4 155.2 226.4 153.0C226.4 150.8 224.7 148.2 223.1 146.4C221.4 144.7 216.5 144.0 216.5 142.3C216.5 140.7 219.2 137.9 223.1 136.6C226.9 135.2 234.1 134.6 239.6 134.1C245.0 133.6 247.8 133.9 256.0 133.6C264.3 133.2 279.9 132.3 289.0 131.9C298.1 131.6 302.5 131.7 310.8 131.6C319.0 131.6 333.8 131.6 338.5 131.6L371.4 242.1Z" fill="#fff1a8"/><path d="M-24.2 181.1C-20.2 180.7 -9.3 180.2 -0.3 179.1C8.8 178.0 22.4 174.7 30.2 174.5C38.0 174.3 41.5 175.8 46.7 177.8C51.9 179.7 58.2 181.1 61.5 186.3C64.8 191.6 65.7 205.3 66.5 209.1L-57.2 242.1Z" fill="#fff1a8"/><path d="M264.3 209.1C264.3 205.3 263.5 193.2 264.3 186.3C265.1 179.5 266.5 172.9 269.2 167.9C272.0 162.9 276.1 159.4 280.8 156.3C285.4 153.3 292.2 151.3 297.2 149.7C302.2 148.2 303.9 147.8 310.8 147.3C317.6 146.7 333.8 146.6 338.5 146.4L371.4 242.1Z" fill="#f4faad"/><line x1="85.9" y1="0" x2="85.9" y2="186.2" stroke="#c9c9c9" stroke-width="1.1" opacity="0.9"/><line x1="190.2" y1="0" x2="190.2" y2="186.2" stroke="#c9c9c9" stroke-width="1.1" opacity="0.9"/><line x1="294.4" y1="0" x2="294.4" y2="186.2" stroke="#c9c9c9" stroke-width="1.1" opacity="0.9"/><line x1="0" y1="65.2" x2="311.0" y2="65.2" stroke="#c9c9c9" stroke-width="1.1" opacity="0.9"/><line x1="0" y1="134.3" x2="311.0" y2="134.3" stroke="#c9c9c9" stroke-width="1.1" opacity="0.9"/><use href="#tpcd" fill="none" stroke="#fff" stroke-width="2.6" stroke-linejoin="round"/><path d="M0 167.6L12 166.3L25.4 164.6L28 167L32 172L37 176.2L42 177.8L43.5 180.3L48.5 182.8L55 182L52 186.2" fill="none" stroke="#8a8a8a" stroke-width="0.7" opacity="0.8"/><path d="M191.5 186.2L192.3 180.5L194 184L197 185L198.5 186.2" fill="none" stroke="#8a8a8a" stroke-width="0.9" opacity="0.8"/><text x="86.5" y="181.2" font-size="22.4" fill="#cccccc" fill-opacity="0.88" text-anchor="middle">75°E</text><text x="190.8" y="181.2" font-size="22.4" fill="#cccccc" fill-opacity="0.88" text-anchor="middle">90°E</text><text x="1.2" y="72.8" font-size="22.4" fill="#cccccc" fill-opacity="0.88">40°N</text><text x="1.2" y="141.9" font-size="22.4" fill="#cccccc" fill-opacity="0.88">30°N</text></g>
<g transform="translate(431.5,495.2)" clip-path="url(#clipcd)"><rect width="311.0" height="186.2" fill="#f4faad"/><path d="M-24.0 69.0C-19.9 65.1 -6.6 52.8 0.2 45.9C7.1 39.0 10.8 33.5 17.2 27.8C23.6 22.0 32.3 15.9 38.7 11.3C45.0 6.7 51.0 3.1 55.1 0.1C59.3 -2.9 62.0 -5.7 63.4 -6.8L-57.0 -54.7Z" fill="#fff1a8"/><path d="M-24.0 49.2C-19.9 45.9 -6.9 35.5 0.2 29.4C7.4 23.4 12.2 17.8 18.9 12.9C25.5 8.0 35.4 3.4 40.3 0.1C45.2 -3.2 47.2 -5.7 48.5 -6.8L-57.0 -54.7Z" fill="#fece7c"/><path d="M-24.0 31.1C-19.9 28.0 -5.2 17.1 0.2 12.9C5.7 8.8 5.9 8.5 9.0 6.3C12.1 4.2 16.1 2.3 18.9 0.1C21.6 -2.1 24.4 -5.7 25.5 -6.8L-57.0 -54.7Z" fill="#fa9b58"/><path d="M71.6 -13.4C72.2 -11.2 77.1 -6.8 74.9 0.1C72.7 6.9 63.7 19.6 58.4 27.8C53.2 36.0 46.6 42.3 43.6 49.2C40.6 56.1 40.6 63.5 40.3 69.0C40.0 74.5 40.6 78.0 42.0 82.2C43.3 86.3 44.4 90.7 48.5 93.7C52.7 96.7 60.6 98.9 66.7 100.3C72.7 101.7 79.6 100.6 84.8 101.9C90.0 103.3 92.5 107.4 98.0 108.5C103.5 109.6 110.6 109.6 117.8 108.5C124.9 107.4 132.9 104.4 140.9 101.9C148.8 99.5 157.3 96.2 165.6 93.7C173.8 91.2 182.1 89.3 190.3 87.1C198.5 84.9 206.8 82.7 215.0 80.5C223.3 78.3 231.5 76.1 239.8 73.9C248.0 71.7 256.2 71.2 264.5 67.3C272.7 63.5 281.5 55.2 289.2 50.8C296.9 46.4 302.4 43.4 310.6 41.0C318.9 38.5 334.0 36.8 338.7 36.0L371.6 -54.7Z" fill="#d1ed9c"/><path d="M91.4 -13.4C91.4 -11.2 93.0 -6.8 91.4 0.1C89.8 6.9 84.3 20.4 81.5 27.8C78.8 35.1 76.6 38.8 74.9 44.3C73.3 49.7 71.6 56.1 71.6 60.7C71.6 65.4 72.7 69.0 74.9 72.3C77.1 75.6 79.3 78.5 84.8 80.5C90.3 82.6 98.5 83.9 107.9 84.6C117.2 85.3 129.9 85.3 140.9 84.6C151.8 83.9 162.8 82.3 173.8 80.5C184.8 78.7 195.8 76.1 206.8 73.9C217.8 71.7 228.8 70.9 239.8 67.3C250.7 63.8 263.1 58.3 272.7 52.5C282.3 46.7 291.1 38.8 297.4 32.7C303.8 26.7 303.8 20.3 310.6 16.2C317.5 12.1 334.0 9.4 338.7 8.0L371.6 -54.7Z" fill="#97d5a4"/><path d="M111.2 -13.4C111.2 -11.2 112.3 -5.4 111.2 0.1C110.1 5.6 106.0 13.5 104.6 19.5C103.2 25.5 102.4 31.1 102.9 36.0C103.5 41.0 104.9 45.1 107.9 49.2C110.9 53.3 115.6 58.0 121.1 60.7C126.6 63.5 132.1 65.0 140.9 65.7C149.6 66.4 162.8 65.7 173.8 64.9C184.8 64.0 195.8 63.1 206.8 60.7C217.8 58.4 228.8 55.5 239.8 50.8C250.7 46.2 264.5 38.5 272.7 32.7C281.0 26.9 284.8 21.7 289.2 16.2C293.6 10.8 297.2 5.0 299.1 0.1C301.0 -4.9 300.5 -11.2 300.7 -13.4Z" fill="#5cb7aa"/><path d="M134.3 -13.4C134.3 -11.2 134.8 -5.4 134.3 0.1C133.7 5.6 131.2 14.1 131.0 19.5C130.7 25.0 130.1 28.7 132.6 32.7C135.1 36.7 140.3 40.8 145.8 43.4C151.3 46.0 158.2 48.0 165.6 48.4C173.0 48.8 182.1 47.1 190.3 45.9C198.5 44.7 206.8 43.4 215.0 41.0C223.3 38.5 232.3 34.9 239.8 31.1C247.2 27.2 254.9 21.7 259.5 17.9C264.2 14.0 266.1 11.0 267.8 8.0C269.4 5.0 269.1 3.6 269.4 0.1C269.7 -3.5 269.4 -11.2 269.4 -13.4Z" fill="#3682ba"/><path d="M-24.0 113.5C-19.9 113.5 -8.0 113.3 0.2 113.5C8.5 113.6 17.1 113.2 25.5 114.3C33.8 115.4 43.6 117.2 50.2 120.1C56.8 123.0 61.9 126.4 65.0 131.6C68.2 136.8 68.9 145.1 69.1 151.4C69.4 157.7 67.4 163.7 66.7 169.5C66.0 175.3 65.3 179.7 65.0 186.3C64.8 192.9 65.0 205.3 65.0 209.1L-57.0 242.1Z" fill="#d1ed9c"/><path d="M-24.0 141.5C-19.9 141.5 -6.6 141.5 0.2 141.5C7.1 141.5 12.2 140.4 17.2 141.5C22.3 142.6 27.4 145.1 30.4 148.1C33.4 151.1 35.1 155.5 35.4 159.6C35.6 163.8 33.2 168.4 32.1 172.8C31.0 177.3 29.3 180.3 28.8 186.3C28.2 192.4 28.8 205.3 28.8 209.1L-57.0 242.1Z" fill="#97d5a4"/><path d="M106.2 209.1C106.2 205.3 106.0 194.6 106.2 186.3C106.5 178.1 107.1 167.4 107.9 159.6C108.7 151.9 108.4 145.6 111.2 139.9C113.9 134.1 118.2 128.3 124.4 125.0C130.6 121.7 140.2 121.6 148.4 120.1C156.7 118.5 165.5 117.6 174.0 115.8C182.5 113.9 191.3 111.6 199.5 109.0C207.7 106.4 213.8 103.9 223.3 100.3C232.7 96.6 246.6 91.8 256.2 87.1C265.9 82.4 271.9 76.7 281.0 72.3C290.0 67.9 301.0 63.2 310.6 60.7C320.2 58.3 334.0 58.0 338.7 57.4L371.6 242.1Z" fill="#fff1a8"/><path d="M124.4 209.1C124.4 205.3 123.5 194.6 124.4 186.3C125.2 178.1 127.1 166.6 129.3 159.6C131.5 152.7 134.4 148.3 137.6 144.8C140.7 141.3 143.2 141.0 148.4 138.9C153.7 136.7 161.8 133.8 168.9 131.9C176.0 130.1 183.0 129.4 191.0 127.7C198.9 126.0 207.9 124.0 216.3 121.7C224.8 119.5 233.7 117.0 241.9 114.1C250.1 111.3 258.3 108.7 265.6 104.7C273.0 100.8 278.4 95.0 285.9 90.4C293.4 85.8 301.8 80.5 310.6 77.2C319.4 73.9 334.0 71.7 338.7 70.6L371.6 242.1Z" fill="#fece7c"/><path d="M158.7 160.0C159.1 159.5 157.2 159.2 161.1 157.3C165.1 155.5 174.6 151.9 182.4 148.9C190.2 146.0 198.0 142.9 207.9 139.7C217.9 136.4 230.6 133.2 241.9 129.5C253.2 125.8 266.6 121.7 275.9 117.6C285.1 113.5 291.3 108.7 297.1 104.7C302.9 100.8 303.7 97.7 310.6 93.7C317.6 89.7 334.0 82.7 338.7 80.5L338.7 166.2L310.6 167.5L292.8 169.4L267.4 175.3L237.6 186.3L237.6 209.1L184.2 209.1L184.2 186.3L169.7 179.4L159.5 168.5Z" fill="#fa9b58"/><path d="M310.6 113.5C308.2 116.7 299.0 128.7 296.3 132.8C293.6 136.8 293.8 136.2 294.6 137.9C295.5 139.6 298.7 141.4 301.4 143.0C304.1 144.6 304.4 146.6 310.6 147.3C316.8 148.0 334.0 147.3 338.7 147.3L338.7 113.5Z" fill="#ee6445"/><line x1="85.9" y1="0" x2="85.9" y2="186.2" stroke="#c9c9c9" stroke-width="1.1" opacity="0.9"/><line x1="190.2" y1="0" x2="190.2" y2="186.2" stroke="#c9c9c9" stroke-width="1.1" opacity="0.9"/><line x1="294.4" y1="0" x2="294.4" y2="186.2" stroke="#c9c9c9" stroke-width="1.1" opacity="0.9"/><line x1="0" y1="65.2" x2="311.0" y2="65.2" stroke="#c9c9c9" stroke-width="1.1" opacity="0.9"/><line x1="0" y1="134.3" x2="311.0" y2="134.3" stroke="#c9c9c9" stroke-width="1.1" opacity="0.9"/><use href="#tpcd" fill="none" stroke="#fff" stroke-width="2.6" stroke-linejoin="round"/><path d="M0 167.6L12 166.3L25.4 164.6L28 167L32 172L37 176.2L42 177.8L43.5 180.3L48.5 182.8L55 182L52 186.2" fill="none" stroke="#8a8a8a" stroke-width="0.7" opacity="0.8"/><path d="M191.5 186.2L192.3 180.5L194 184L197 185L198.5 186.2" fill="none" stroke="#8a8a8a" stroke-width="0.9" opacity="0.8"/><text x="86.5" y="181.2" font-size="22.4" fill="#cccccc" fill-opacity="0.88" text-anchor="middle">75°E</text><text x="190.8" y="181.2" font-size="22.4" fill="#cccccc" fill-opacity="0.88" text-anchor="middle">90°E</text><text x="1.2" y="72.8" font-size="22.4" fill="#cccccc" fill-opacity="0.88">40°N</text><text x="1.2" y="141.9" font-size="22.4" fill="#cccccc" fill-opacity="0.88">30°N</text></g>
<g transform="translate(745.3,495.2)" clip-path="url(#clipcd)"><rect width="311.0" height="186.2" fill="#d0384e"/><path d="M-24.8 60.7C-20.7 60.7 -11.0 60.6 -0.1 60.7C10.9 60.9 26.0 61.0 41.2 61.6C56.3 62.1 74.1 63.5 90.6 64.0C107.1 64.6 123.6 64.7 140.1 64.9C156.5 65.0 175.8 65.5 189.5 64.9C203.2 64.2 211.5 62.8 222.5 60.7C233.5 58.7 244.4 55.5 255.4 52.5C266.4 49.5 279.2 45.1 288.4 42.6C297.6 40.1 302.4 39.3 310.7 37.7C318.9 36.0 333.3 33.5 337.9 32.7L370.8 -54.7L-57.8 -54.7Z" fill="#ee6445"/><path d="M-24.8 46.7C-20.7 46.7 -11.0 46.6 -0.1 46.7C10.9 46.9 26.0 46.7 41.2 47.5C56.3 48.4 74.1 50.3 90.6 51.7C107.1 53.0 123.6 55.1 140.1 55.8C156.5 56.5 175.8 56.5 189.5 55.8C203.2 55.1 211.5 53.9 222.5 51.7C233.5 49.5 244.4 46.3 255.4 42.6C266.4 38.9 279.2 33.0 288.4 29.4C297.6 25.8 302.4 23.9 310.7 21.2C318.9 18.4 333.3 14.3 337.9 12.9L370.8 -54.7L-57.8 -54.7Z" fill="#fa9b58"/><path d="M-24.8 36.8C-20.7 36.8 -11.0 36.6 -0.1 36.8C10.9 37.0 26.0 37.0 41.2 38.0C56.3 38.9 74.1 41.1 90.6 42.6C107.1 44.1 123.6 46.2 140.1 46.7C156.5 47.3 175.8 46.9 189.5 45.9C203.2 44.9 211.5 43.6 222.5 41.0C233.5 38.3 244.4 34.4 255.4 30.2C266.4 26.1 279.2 20.2 288.4 16.2C297.6 12.2 302.4 9.6 310.7 6.3C318.9 3.0 333.3 -1.9 337.9 -3.6L370.8 -54.7L-57.8 -54.7Z" fill="#fece7c"/><path d="M-24.8 25.3C-20.7 25.3 -11.0 25.0 -0.1 25.3C10.9 25.6 26.0 25.8 41.2 26.9C56.3 28.0 74.1 30.2 90.6 31.9C107.1 33.6 123.6 36.6 140.1 37.3C156.5 38.0 175.8 37.2 189.5 36.0C203.2 34.8 211.5 33.0 222.5 30.2C233.5 27.5 244.4 23.8 255.4 19.5C266.4 15.3 281.5 7.9 288.4 4.7C295.3 1.4 293.3 2.3 296.6 0.1C299.9 -2.1 306.3 -7.1 308.2 -8.5L-57.8 -54.7Z" fill="#fff1a8"/><path d="M-24.8 14.6C-20.7 14.6 -11.0 14.2 -0.1 14.6C10.9 15.0 26.0 15.8 41.2 17.1C56.3 18.3 74.1 20.2 90.6 22.0C107.1 23.8 123.6 27.1 140.1 27.8C156.5 28.5 175.8 27.5 189.5 26.1C203.2 24.7 211.5 22.5 222.5 19.5C233.5 16.5 247.2 11.2 255.4 8.0C263.7 4.7 267.0 2.8 271.9 0.1C276.9 -2.7 282.9 -7.1 285.1 -8.5L-57.8 -54.7Z" fill="#f4faad"/><path d="M1.6 -8.5C4.1 -7.1 7.1 -2.1 16.4 0.1C25.8 2.3 42.5 2.8 57.6 4.7C72.7 6.6 90.6 9.5 107.1 11.3C123.6 13.1 142.8 15.1 156.5 15.4C170.3 15.7 178.5 14.4 189.5 12.9C200.5 11.4 213.7 8.5 222.5 6.3C231.3 4.2 236.8 2.5 242.2 0.1C247.7 -2.4 253.2 -7.1 255.4 -8.5Z" fill="#d1ed9c"/><path d="M67.5 -8.5C70.3 -7.1 74.7 -1.8 84.0 0.1C93.3 1.9 111.5 2.1 123.6 2.7C135.7 3.3 142.8 3.9 156.5 3.9C170.3 3.9 189.5 3.3 206.0 2.7C222.5 2.1 244.4 1.9 255.4 0.1C266.4 -1.8 269.2 -7.1 271.9 -8.5Z" fill="#97d5a4"/><path d="M-24.8 162.9C-20.7 163.5 -9.7 164.6 -0.1 166.2C9.6 167.9 23.3 172.3 32.9 172.8C42.5 173.4 48.0 171.7 57.6 169.5C67.2 167.3 79.6 163.5 90.6 159.6C101.6 155.8 115.3 150.6 123.6 146.4C131.8 142.3 134.6 138.2 140.1 134.9C145.5 131.6 151.0 129.1 156.5 126.7C162.0 124.2 166.2 122.1 173.0 120.1C179.9 118.0 189.5 115.5 197.7 114.3C206.0 113.1 212.9 112.7 222.5 112.7C232.1 112.7 245.8 113.5 255.4 114.3C265.1 115.1 271.0 116.9 280.2 117.6C289.4 118.3 301.0 118.3 310.7 118.4C320.3 118.6 333.3 118.4 337.9 118.4L370.8 242.1L-57.8 242.1Z" fill="#ee6445"/><path d="M57.6 209.1C57.6 205.3 54.9 191.8 57.6 186.3C60.4 180.8 65.9 180.0 74.1 176.1C82.4 172.2 97.5 167.1 107.1 162.9C116.7 158.8 124.9 155.2 131.8 151.4C138.7 147.5 142.8 143.2 148.3 139.9C153.8 136.6 157.9 134.1 164.8 131.6C171.6 129.1 179.9 126.5 189.5 125.0C199.1 123.5 211.5 122.5 222.5 122.5C233.5 122.5 244.4 124.1 255.4 125.0C266.4 126.0 279.2 127.6 288.4 128.3C297.6 129.0 302.4 129.0 310.7 129.1C318.9 129.3 333.3 129.1 337.9 129.1L370.8 242.1Z" fill="#fa9b58"/><path d="M90.6 209.1C90.6 205.3 86.5 192.4 90.6 186.3C94.7 180.3 107.1 177.3 115.3 172.8C123.6 168.4 133.2 163.5 140.1 159.6C146.9 155.8 151.0 152.8 156.5 149.7C162.0 146.7 166.2 144.0 173.0 141.5C179.9 139.0 189.5 136.3 197.7 134.9C206.0 133.5 212.9 133.3 222.5 133.3C232.1 133.3 244.4 134.2 255.4 134.9C266.4 135.6 279.2 136.8 288.4 137.4C297.6 137.9 302.4 138.1 310.7 138.2C318.9 138.3 333.3 138.2 337.9 138.2L370.8 242.1Z" fill="#fece7c"/><path d="M126.9 209.1C126.9 205.3 123.3 192.4 126.9 186.3C130.4 180.3 142.0 176.7 148.3 172.8C154.6 168.9 157.9 166.2 164.8 162.9C171.6 159.6 179.9 155.8 189.5 153.0C199.1 150.3 211.5 147.7 222.5 146.4C233.5 145.2 244.4 145.3 255.4 145.6C266.4 145.9 279.2 147.5 288.4 148.1C297.6 148.6 302.4 148.8 310.7 148.9C318.9 149.1 333.3 148.9 337.9 148.9L370.8 242.1Z" fill="#fff1a8"/><path d="M181.3 209.1C181.3 205.3 178.5 192.1 181.3 186.3C184.0 180.6 190.9 177.0 197.7 174.5C204.6 171.9 214.2 171.2 222.5 171.2C230.7 171.2 241.7 171.9 247.2 174.5C252.7 177.0 253.5 180.6 255.4 186.3C257.4 192.1 258.2 205.3 258.7 209.1Z" fill="#f4faad"/><line x1="85.9" y1="0" x2="85.9" y2="186.2" stroke="#c9c9c9" stroke-width="1.1" opacity="0.9"/><line x1="190.2" y1="0" x2="190.2" y2="186.2" stroke="#c9c9c9" stroke-width="1.1" opacity="0.9"/><line x1="294.4" y1="0" x2="294.4" y2="186.2" stroke="#c9c9c9" stroke-width="1.1" opacity="0.9"/><line x1="0" y1="65.2" x2="311.0" y2="65.2" stroke="#c9c9c9" stroke-width="1.1" opacity="0.9"/><line x1="0" y1="134.3" x2="311.0" y2="134.3" stroke="#c9c9c9" stroke-width="1.1" opacity="0.9"/><use href="#tpcd" fill="none" stroke="#fff" stroke-width="2.6" stroke-linejoin="round"/><path d="M0 167.6L12 166.3L25.4 164.6L28 167L32 172L37 176.2L42 177.8L43.5 180.3L48.5 182.8L55 182L52 186.2" fill="none" stroke="#8a8a8a" stroke-width="0.7" opacity="0.8"/><path d="M191.5 186.2L192.3 180.5L194 184L197 185L198.5 186.2" fill="none" stroke="#8a8a8a" stroke-width="0.9" opacity="0.8"/><text x="86.5" y="181.2" font-size="22.4" fill="#cccccc" fill-opacity="0.88" text-anchor="middle">75°E</text><text x="190.8" y="181.2" font-size="22.4" fill="#cccccc" fill-opacity="0.88" text-anchor="middle">90°E</text><text x="1.2" y="72.8" font-size="22.4" fill="#cccccc" fill-opacity="0.88">40°N</text><text x="1.2" y="141.9" font-size="22.4" fill="#cccccc" fill-opacity="0.88">30°N</text></g>
<g transform="translate(1059.1,495.2)" clip-path="url(#clipcd)"><rect width="311.0" height="186.2" fill="#f4faad"/><path d="M-24.6 162.9C-20.5 163.2 -8.1 163.9 0.1 164.6C8.4 165.3 15.3 166.1 24.9 167.1C34.5 168.0 46.8 169.5 57.8 170.3C68.8 171.2 79.8 171.7 90.8 172.0C101.8 172.3 112.8 172.4 123.8 172.0C134.8 171.6 145.7 170.5 156.7 169.5C167.7 168.6 179.0 167.3 189.7 166.2C200.4 165.2 211.9 164.4 220.9 163.1C229.8 161.8 235.8 160.2 243.3 158.5C250.7 156.7 259.8 155.0 265.5 152.5C271.2 150.1 273.2 149.4 277.4 143.6C281.6 137.9 287.3 124.5 290.7 118.3C294.2 112.1 295.0 110.3 298.3 106.4C301.7 102.4 304.2 99.9 310.9 94.5C317.5 89.1 333.5 77.4 338.1 73.9L371.0 -54.7L-57.6 -54.7Z" fill="#fff1a8"/><path d="M-24.6 148.1C-20.5 148.4 -8.1 148.8 0.1 149.7C8.4 150.7 15.3 152.5 24.9 153.9C34.5 155.2 46.8 157.0 57.8 158.0C68.8 158.9 79.8 159.5 90.8 159.6C101.8 159.8 112.8 159.5 123.8 158.8C134.8 158.1 145.7 157.2 156.7 155.5C167.7 153.9 179.0 151.3 189.7 148.9C200.4 146.6 211.9 144.5 220.9 141.3C229.8 138.2 237.1 133.5 243.3 130.1C249.5 126.8 252.4 125.7 258.1 121.2C263.8 116.8 271.7 108.6 277.4 103.4C283.1 98.2 286.7 94.8 292.2 90.1C297.8 85.4 303.2 80.7 310.9 75.2C318.5 69.8 333.5 60.4 338.1 57.4L371.0 -54.7L-57.6 -54.7Z" fill="#fece7c"/><path d="M-24.6 134.9C-20.5 135.2 -8.1 135.5 0.1 136.6C8.4 137.7 15.3 139.7 24.9 141.5C34.5 143.3 46.8 145.9 57.8 147.3C68.8 148.6 79.8 149.5 90.8 149.7C101.8 150.0 112.8 149.7 123.8 148.9C134.8 148.1 145.7 147.1 156.7 144.8C167.7 142.5 179.0 138.6 189.7 134.9C200.4 131.3 211.9 126.6 220.9 122.9C229.8 119.1 235.8 116.6 243.3 112.3C250.7 108.1 259.3 102.2 265.5 97.5C271.7 92.8 275.4 88.3 280.4 84.1C285.3 79.9 290.3 76.6 295.4 72.3C300.4 67.9 303.7 61.8 310.9 57.9C318.0 54.1 333.5 50.7 338.1 49.2L338.1 39.5C333.5 39.5 316.5 41.9 310.9 39.5C305.2 37.0 306.6 31.2 304.3 24.6C301.9 18.1 298.4 6.4 296.8 0.1C295.3 -6.3 295.5 -11.2 295.2 -13.4L-57.6 -54.7Z" fill="#fa9b58"/><path d="M-24.6 34.4C-20.5 33.7 -6.7 31.9 0.1 30.2C7.0 28.6 8.9 27.4 16.6 24.5C24.3 21.6 36.1 17.0 46.3 12.9C56.5 8.9 70.2 3.4 77.6 0.1C85.0 -3.2 88.6 -5.7 90.8 -6.8L-57.6 -54.7Z" fill="#fece7c"/><path d="M-24.6 12.9C-20.5 12.5 -8.1 11.6 0.1 10.5C8.4 9.4 17.2 8.1 24.9 6.3C32.6 4.6 40.3 2.3 46.3 0.1C52.3 -2.1 58.7 -5.7 61.1 -6.8L-57.6 -54.7Z" fill="#fff1a8"/><path d="M120.5 -13.4C94.1 -11.2 118.5 -4.9 112.2 0.1C105.9 5.0 93.0 10.2 82.6 16.2C72.1 22.2 60.6 29.7 49.6 36.0C38.6 42.3 24.9 48.9 16.6 54.1C8.4 59.4 7.0 63.5 0.1 67.3C-6.7 71.2 -20.5 68.4 -24.6 77.2C-28.7 86.0 -28.7 112.9 -24.6 120.1C-20.5 127.2 -8.1 119.0 0.1 120.1C8.4 121.2 15.3 124.5 24.9 126.7C34.5 128.9 46.8 131.6 57.8 133.3C68.8 134.9 79.8 136.0 90.8 136.6C101.8 137.1 112.8 137.4 123.8 136.6C134.8 135.7 145.7 134.4 156.7 131.6C167.7 128.9 178.7 124.7 189.7 120.1C200.7 115.4 211.7 109.1 222.7 103.6C233.7 98.1 246.0 92.3 255.6 87.1C265.3 81.9 274.1 78.2 280.4 72.3C286.7 66.3 291.2 56.6 293.4 51.3C295.6 46.1 294.9 45.4 293.5 41.0C292.2 36.5 288.3 29.7 285.3 24.5C282.3 19.3 277.6 13.7 275.4 9.6C273.2 5.6 272.9 3.9 272.1 0.1C271.3 -3.8 295.7 -11.2 270.5 -13.4C245.2 -15.7 146.8 -15.7 120.5 -13.4Z" fill="#ee6445"/><path d="M156.7 -13.4C142.4 -11.2 162.2 -4.9 156.7 0.1C151.2 5.0 134.8 10.2 123.8 16.2C112.8 22.2 101.8 29.7 90.8 36.0C79.8 42.3 67.4 48.9 57.8 54.1C48.2 59.4 38.9 62.9 33.1 67.3C27.3 71.7 24.6 76.1 23.2 80.5C21.8 84.9 22.4 89.3 24.9 93.7C27.3 98.1 32.6 103.0 38.1 106.9C43.5 110.7 49.0 114.2 57.8 116.8C66.6 119.4 79.8 121.4 90.8 122.5C101.8 123.6 112.8 124.1 123.8 123.4C134.8 122.7 145.7 121.2 156.7 118.4C167.7 115.7 178.7 111.6 189.7 106.9C200.7 102.2 213.1 95.1 222.7 90.4C232.3 85.7 239.7 83.3 247.4 78.9C255.1 74.5 263.4 69.4 268.8 64.0C274.2 58.7 278.3 51.4 279.7 46.7C281.1 42.1 279.7 40.3 277.1 36.0C274.4 31.8 268.3 25.8 263.9 21.2C259.5 16.5 254.0 11.5 250.7 8.0C247.4 4.5 245.5 3.6 244.1 0.1C242.7 -3.5 257.0 -11.2 242.4 -13.4C227.9 -15.7 171.0 -15.7 156.7 -13.4Z" fill="#d0384e"/><line x1="85.9" y1="0" x2="85.9" y2="186.2" stroke="#c9c9c9" stroke-width="1.1" opacity="0.9"/><line x1="190.2" y1="0" x2="190.2" y2="186.2" stroke="#c9c9c9" stroke-width="1.1" opacity="0.9"/><line x1="294.4" y1="0" x2="294.4" y2="186.2" stroke="#c9c9c9" stroke-width="1.1" opacity="0.9"/><line x1="0" y1="65.2" x2="311.0" y2="65.2" stroke="#c9c9c9" stroke-width="1.1" opacity="0.9"/><line x1="0" y1="134.3" x2="311.0" y2="134.3" stroke="#c9c9c9" stroke-width="1.1" opacity="0.9"/><use href="#tpcd" fill="none" stroke="#fff" stroke-width="2.6" stroke-linejoin="round"/><path d="M0 167.6L12 166.3L25.4 164.6L28 167L32 172L37 176.2L42 177.8L43.5 180.3L48.5 182.8L55 182L52 186.2" fill="none" stroke="#8a8a8a" stroke-width="0.7" opacity="0.8"/><path d="M191.5 186.2L192.3 180.5L194 184L197 185L198.5 186.2" fill="none" stroke="#8a8a8a" stroke-width="0.9" opacity="0.8"/><text x="86.5" y="181.2" font-size="22.4" fill="#cccccc" fill-opacity="0.88" text-anchor="middle">75°E</text><text x="190.8" y="181.2" font-size="22.4" fill="#cccccc" fill-opacity="0.88" text-anchor="middle">90°E</text><text x="1.2" y="72.8" font-size="22.4" fill="#cccccc" fill-opacity="0.88">40°N</text><text x="1.2" y="141.9" font-size="22.4" fill="#cccccc" fill-opacity="0.88">30°N</text></g>
<g transform="translate(1372.9,495.2)" clip-path="url(#clipcd)"><rect width="311.0" height="186.2" fill="#fece7c"/><path d="M109.8 -13.4C109.8 -11.2 112.5 -6.8 109.8 0.1C107.0 6.9 97.7 19.6 93.3 27.8C88.9 36.0 86.7 42.9 83.4 49.2C80.1 55.5 76.8 60.5 73.5 65.7C70.2 70.9 66.4 76.4 63.6 80.5C60.9 84.6 60.1 87.1 57.0 90.4C54.0 93.7 51.0 98.2 45.5 100.3C40.0 102.4 31.7 102.4 24.1 102.8C16.4 103.2 7.9 102.8 -0.3 102.8C-8.6 102.8 -21.2 102.8 -25.4 102.8L-58.4 -54.7Z" fill="#fff1a8"/><path d="M83.4 -13.4C83.4 -11.2 84.2 -5.4 83.4 0.1C82.6 5.6 80.7 12.7 78.5 19.5C76.3 26.3 73.2 34.6 70.2 41.0C67.2 47.3 64.5 53.0 60.3 57.4C56.2 61.8 51.5 64.9 45.5 67.3C39.5 69.8 31.7 71.2 24.1 72.3C16.4 73.4 7.9 73.5 -0.3 73.9C-8.6 74.3 -21.2 74.6 -25.4 74.7L-58.4 -54.7Z" fill="#f4faad"/><path d="M113.1 209.1C113.1 205.3 110.1 192.4 113.1 186.3C116.1 180.3 124.1 177.3 131.2 172.8C138.4 168.4 149.3 163.1 155.9 159.6C162.5 156.2 165.3 155.0 170.8 152.2C176.3 149.5 180.4 146.6 188.9 143.2C197.4 139.7 210.9 135.5 221.9 131.6C232.9 127.8 245.2 123.1 254.8 120.1C264.5 117.1 270.2 115.1 279.6 113.5C288.9 111.8 301.3 110.9 310.9 110.2C320.5 109.5 332.9 109.5 337.3 109.4L370.2 242.1Z" fill="#fff1a8"/><path d="M152.6 209.1C152.6 205.3 149.3 192.7 152.6 186.3C155.9 180.0 165.0 175.9 172.4 171.2C179.8 166.4 188.9 161.8 197.1 158.0C205.4 154.1 213.6 151.1 221.9 148.1C230.1 145.1 238.4 143.2 246.6 139.9C254.8 136.6 264.5 131.3 271.3 128.3C278.2 125.3 281.2 123.4 287.8 121.7C294.4 120.1 302.6 119.1 310.9 118.4C319.1 117.7 332.9 117.7 337.3 117.6L370.2 242.1Z" fill="#f4faad"/><path d="M337.3 138.2C332.9 131.5 317.7 137.7 310.9 138.2C304.0 138.8 301.0 139.6 296.0 141.5C291.1 143.4 285.1 146.4 281.2 149.7C277.4 153.0 274.1 157.7 273.0 161.3C271.9 164.9 272.4 168.4 274.6 171.2C276.8 173.9 281.8 176.4 286.2 177.8C290.6 179.1 296.9 179.3 301.0 179.4C305.1 179.6 304.8 178.7 310.9 178.6C316.9 178.5 332.9 185.3 337.3 178.6C341.6 171.9 341.6 144.9 337.3 138.2Z" fill="#d1ed9c"/><path d="M126.3 -13.4C126.3 -11.2 129.6 -5.4 126.3 0.1C123.0 5.6 111.4 12.2 106.5 19.5C101.5 26.9 99.3 36.8 96.6 44.3C93.8 51.7 91.6 56.9 90.0 64.0C88.4 71.2 87.8 80.8 86.7 87.1C85.6 93.4 85.1 95.9 83.4 101.9C81.8 108.0 77.4 118.2 76.8 123.4C76.3 128.6 75.2 131.5 80.1 133.3C85.1 135.0 97.1 133.9 106.5 134.1C115.8 134.2 127.9 134.8 136.2 134.1C144.4 133.4 147.1 132.0 155.9 130.0C164.7 127.9 177.9 124.7 188.9 121.7C199.9 118.7 210.9 114.9 221.9 111.8C232.9 108.8 243.8 105.5 254.8 103.6C265.8 101.7 278.5 100.8 287.8 100.3C297.1 99.7 302.6 100.3 310.9 100.3C319.1 100.3 332.9 100.3 337.3 100.3L370.2 -54.7Z" fill="#fa9b58"/><path d="M149.3 -13.4C149.3 -11.2 152.4 -4.6 149.3 0.1C146.3 4.7 136.7 8.6 131.2 14.6C125.7 20.6 120.2 28.3 116.4 36.0C112.5 43.7 109.5 53.9 108.1 60.7C106.8 67.6 106.8 71.7 108.1 77.2C109.5 82.7 112.5 89.0 116.4 93.7C120.2 98.4 126.0 102.5 131.2 105.2C136.4 108.0 140.8 109.5 147.7 110.2C154.6 110.9 162.8 110.7 172.4 109.4C182.0 108.0 194.4 104.6 205.4 101.9C216.4 99.3 227.4 95.9 238.4 93.7C249.3 91.5 261.7 89.4 271.3 88.8C280.9 88.1 289.5 89.3 296.0 89.6C302.6 89.9 304.0 90.3 310.9 90.4C317.7 90.5 332.9 90.4 337.3 90.4L370.2 -54.7Z" fill="#ee6445"/><path d="M185.6 -13.4C185.6 -11.2 190.6 -4.6 185.6 0.1C180.7 4.7 163.6 9.4 155.9 14.6C148.2 19.7 143.8 25.3 139.5 31.1C135.1 36.8 131.8 43.4 129.6 49.2C127.4 55.0 126.0 61.0 126.3 65.7C126.5 70.3 127.6 73.6 131.2 77.2C134.8 80.8 141.4 84.8 147.7 87.1C154.0 89.4 160.9 91.2 169.1 91.2C177.4 91.2 187.0 88.9 197.1 87.1C207.3 85.3 220.5 82.2 230.1 80.5C239.7 78.9 246.6 77.6 254.8 77.2C263.1 76.8 270.2 77.5 279.6 78.0C288.9 78.6 301.3 80.1 310.9 80.5C320.5 80.9 332.9 80.5 337.3 80.5L370.2 -54.7Z" fill="#d0384e"/><path d="M-25.4 171.2C-21.2 171.4 -8.6 172.0 -0.3 172.8C7.9 173.6 16.4 173.9 24.1 176.1C31.7 178.4 41.1 180.8 45.5 186.3C49.9 191.8 49.6 205.3 50.4 209.1L-58.4 242.1Z" fill="#fa9b58"/><line x1="85.9" y1="0" x2="85.9" y2="186.2" stroke="#c9c9c9" stroke-width="1.1" opacity="0.9"/><line x1="190.2" y1="0" x2="190.2" y2="186.2" stroke="#c9c9c9" stroke-width="1.1" opacity="0.9"/><line x1="294.4" y1="0" x2="294.4" y2="186.2" stroke="#c9c9c9" stroke-width="1.1" opacity="0.9"/><line x1="0" y1="65.2" x2="311.0" y2="65.2" stroke="#c9c9c9" stroke-width="1.1" opacity="0.9"/><line x1="0" y1="134.3" x2="311.0" y2="134.3" stroke="#c9c9c9" stroke-width="1.1" opacity="0.9"/><use href="#tpcd" fill="none" stroke="#fff" stroke-width="2.6" stroke-linejoin="round"/><path d="M0 167.6L12 166.3L25.4 164.6L28 167L32 172L37 176.2L42 177.8L43.5 180.3L48.5 182.8L55 182L52 186.2" fill="none" stroke="#8a8a8a" stroke-width="0.7" opacity="0.8"/><path d="M191.5 186.2L192.3 180.5L194 184L197 185L198.5 186.2" fill="none" stroke="#8a8a8a" stroke-width="0.9" opacity="0.8"/><text x="86.5" y="181.2" font-size="22.4" fill="#cccccc" fill-opacity="0.88" text-anchor="middle">75°E</text><text x="190.8" y="181.2" font-size="22.4" fill="#cccccc" fill-opacity="0.88" text-anchor="middle">90°E</text><text x="1.2" y="72.8" font-size="22.4" fill="#cccccc" fill-opacity="0.88">40°N</text><text x="1.2" y="141.9" font-size="22.4" fill="#cccccc" fill-opacity="0.88">30°N</text></g>
<g transform="translate(1686.7,495.2)" clip-path="url(#clipcd)"><rect width="311.0" height="186.2" fill="#f4faad"/><path d="M-24.9 50.6C-20.8 50.2 -9.7 49.7 -0.3 48.2C9.2 46.7 22.4 43.8 31.8 41.7C41.1 39.7 48.8 38.1 56.0 36.1C63.3 34.0 70.1 31.1 75.5 29.6C80.9 28.1 86.5 24.9 88.4 27.2C90.3 29.5 87.1 37.4 86.8 43.4C86.5 49.3 86.5 58.7 86.8 62.8C87.1 66.8 87.1 64.7 88.4 67.6C89.8 70.6 94.9 76.5 94.9 80.6C94.9 84.6 90.6 87.3 88.4 91.9C86.2 96.5 84.6 102.7 81.9 108.1C79.2 113.5 74.4 119.4 72.2 124.3C70.1 129.1 68.4 133.7 69.0 137.2C69.5 140.7 69.5 143.6 75.5 145.3C81.4 147.1 94.3 147.5 104.6 147.7C114.8 148.0 126.2 147.3 137.0 146.9C147.7 146.5 158.5 146.0 169.3 145.3C180.1 144.6 190.9 144.0 201.7 142.9C212.5 141.8 223.3 140.0 234.1 138.8C244.8 137.6 257.0 135.9 266.4 135.6C275.9 135.3 283.3 136.4 290.7 137.2C298.1 138.0 304.2 139.6 310.9 140.5C317.7 141.3 327.8 141.8 331.2 142.1L363.5 -53.8L-57.3 -53.8Z" fill="#fff1a8"/><path d="M-24.9 44.2C-20.8 43.8 -8.4 43.2 -0.3 41.7C7.8 40.2 14.3 38.0 23.7 35.3C33.1 32.6 45.2 28.7 56.0 25.5C66.8 22.4 79.0 18.5 88.4 16.6C97.8 14.8 107.3 13.5 112.7 14.2C118.1 14.9 119.7 17.2 120.8 20.7C121.8 24.2 120.2 30.1 119.2 35.3C118.1 40.4 115.6 46.0 114.3 51.4C112.9 56.8 111.1 62.2 111.1 67.6C111.1 73.0 113.5 78.4 114.3 83.8C115.1 89.2 114.8 95.4 115.9 100.0C117.0 104.6 117.8 108.1 120.8 111.3C123.7 114.6 128.3 118.3 133.7 119.4C139.1 120.5 145.9 118.2 153.1 117.8C160.4 117.4 169.3 117.0 177.4 117.0C185.5 117.0 192.2 117.4 201.7 117.8C211.1 118.2 223.3 118.6 234.1 119.4C244.8 120.2 257.0 122.4 266.4 122.7C275.9 122.9 283.3 121.0 290.7 121.0C298.1 121.0 304.2 122.1 310.9 122.7C317.7 123.2 327.8 124.0 331.2 124.3L363.5 -53.8L-57.3 -53.8Z" fill="#fece7c"/><path d="M190.4 -13.3C190.4 -11.1 193.9 -5.4 190.4 -0.0C186.9 5.4 176.9 12.4 169.3 19.1C161.8 25.8 151.0 33.4 145.0 40.1C139.1 46.9 135.1 53.6 133.7 59.5C132.4 65.5 135.1 70.6 137.0 75.7C138.8 80.8 142.3 86.5 145.0 90.3C147.7 94.1 147.7 96.5 153.1 98.4C158.5 100.3 169.3 100.9 177.4 101.6C185.5 102.3 192.2 101.9 201.7 102.4C211.1 103.0 223.3 103.9 234.1 104.8C244.8 105.8 257.0 107.1 266.4 108.1C275.9 109.0 283.3 110.0 290.7 110.5C298.1 111.1 304.2 111.1 310.9 111.3C317.7 111.6 327.8 112.0 331.2 112.1L363.5 -53.8Z" fill="#fa9b58"/><path d="M217.9 -13.3C217.9 -11.1 221.9 -4.9 217.9 -0.0C213.8 4.8 201.7 10.5 193.6 15.8C185.5 21.2 176.1 27.2 169.3 32.0C162.6 36.9 156.5 40.9 153.1 45.0C149.8 49.0 148.8 52.5 149.1 56.3C149.4 60.1 151.4 64.1 154.8 67.6C158.1 71.1 162.8 74.1 169.3 77.3C175.8 80.6 185.5 84.6 193.6 87.0C201.7 89.5 208.4 90.3 217.9 91.9C227.3 93.5 239.5 95.4 250.2 96.8C261.0 98.1 272.5 99.2 282.6 100.0C292.7 100.8 302.8 101.2 310.9 101.6C319.0 102.0 327.8 102.3 331.2 102.4L363.5 -53.8Z" fill="#ee6445"/><path d="M238.9 -13.3C238.9 -11.1 242.4 -4.6 238.9 -0.0C235.4 4.6 225.4 9.1 217.9 14.2C210.3 19.3 200.3 25.5 193.6 30.4C186.9 35.3 181.2 39.3 177.4 43.4C173.6 47.4 170.9 50.9 170.9 54.7C170.9 58.5 173.6 62.5 177.4 66.0C181.2 69.5 186.9 73.0 193.6 75.7C200.3 78.4 209.8 80.3 217.9 82.2C226.0 84.1 234.1 85.8 242.1 87.0C250.2 88.3 259.7 88.9 266.4 89.5C273.2 90.0 277.2 89.9 282.6 90.3C288.0 90.7 294.1 91.4 298.8 91.9C303.5 92.4 305.5 93.1 310.9 93.5C316.3 93.9 327.8 94.2 331.2 94.3L363.5 -53.8Z" fill="#d0384e"/><path d="M-24.9 38.5C-20.8 38.1 -11.1 38.6 -0.3 36.1C10.5 33.5 27.8 27.6 39.9 23.1C51.9 18.7 63.6 13.2 72.2 9.4C80.9 5.5 86.8 2.4 91.6 -0.0C96.5 -2.4 99.7 -4.3 101.3 -5.2L-57.3 -53.8Z" fill="#fa9b58"/><path d="M-24.9 33.6C-20.8 33.2 -11.1 33.9 -0.3 31.2C10.5 28.5 28.6 21.6 39.9 17.5C51.1 13.3 60.4 9.0 67.4 6.1C74.4 3.2 78.2 1.9 81.9 -0.0C85.7 -1.9 88.7 -4.3 90.0 -5.2L-57.3 -53.8Z" fill="#ee6445"/><path d="M-24.9 28.0C-20.8 27.6 -9.7 27.6 -0.3 25.5C9.2 23.5 22.4 19.1 31.8 15.8C41.1 12.6 49.3 8.8 56.0 6.1C62.8 3.5 68.2 1.9 72.2 -0.0C76.3 -1.9 79.0 -4.3 80.3 -5.2L-57.3 -53.8Z" fill="#d0384e"/><path d="M-24.9 79.0C-20.8 71.4 -7.0 80.6 -0.3 79.0C6.5 77.3 8.9 72.5 15.6 69.2C22.3 66.0 33.1 61.2 39.9 59.5C46.6 57.9 52.3 57.6 56.0 59.5C59.8 61.4 61.7 66.5 62.5 70.9C63.3 75.2 62.0 80.8 60.9 85.4C59.8 90.0 58.2 94.6 56.0 98.4C53.9 102.2 52.0 105.4 47.9 108.1C43.9 110.8 37.2 112.1 31.8 114.6C26.4 117.0 20.9 121.0 15.6 122.7C10.2 124.3 6.5 124.0 -0.3 124.3C-7.0 124.5 -20.8 131.8 -24.9 124.3C-29.0 116.7 -29.0 86.5 -24.9 79.0Z" fill="#d1ed9c"/><path d="M331.2 156.6C327.8 156.6 315.0 154.5 310.9 156.6C306.9 158.8 308.1 164.7 306.9 169.6C305.7 174.4 304.2 179.8 303.6 185.8C303.1 191.7 299.1 202.0 303.6 205.2C308.2 208.4 326.6 205.2 331.2 205.2Z" fill="#fece7c"/><line x1="85.9" y1="0" x2="85.9" y2="186.2" stroke="#c9c9c9" stroke-width="1.1" opacity="0.9"/><line x1="190.2" y1="0" x2="190.2" y2="186.2" stroke="#c9c9c9" stroke-width="1.1" opacity="0.9"/><line x1="294.4" y1="0" x2="294.4" y2="186.2" stroke="#c9c9c9" stroke-width="1.1" opacity="0.9"/><line x1="0" y1="65.2" x2="311.0" y2="65.2" stroke="#c9c9c9" stroke-width="1.1" opacity="0.9"/><line x1="0" y1="134.3" x2="311.0" y2="134.3" stroke="#c9c9c9" stroke-width="1.1" opacity="0.9"/><use href="#tpcd" fill="none" stroke="#fff" stroke-width="2.6" stroke-linejoin="round"/><path d="M0 167.6L12 166.3L25.4 164.6L28 167L32 172L37 176.2L42 177.8L43.5 180.3L48.5 182.8L55 182L52 186.2" fill="none" stroke="#8a8a8a" stroke-width="0.7" opacity="0.8"/><path d="M191.5 186.2L192.3 180.5L194 184L197 185L198.5 186.2" fill="none" stroke="#8a8a8a" stroke-width="0.9" opacity="0.8"/><text x="86.5" y="181.2" font-size="22.4" fill="#cccccc" fill-opacity="0.88" text-anchor="middle">75°E</text><text x="190.8" y="181.2" font-size="22.4" fill="#cccccc" fill-opacity="0.88" text-anchor="middle">90°E</text><text x="1.2" y="72.8" font-size="22.4" fill="#cccccc" fill-opacity="0.88">40°N</text><text x="1.2" y="141.9" font-size="22.4" fill="#cccccc" fill-opacity="0.88">30°N</text></g>
<rect x="1998.9" y="495.2" width="1.6" height="186.2" fill="#d0384e"/>
<g transform="translate(117.7,772.0)" clip-path="url(#clipcd)"><rect width="311.0" height="186.2" fill="#d0384e"/><path d="M-24.2 73.3C-20.2 73.3 -11.3 73.2 -0.3 73.3C10.7 73.4 29.3 72.9 41.8 74.1C54.3 75.4 65.9 78.5 74.7 80.7C83.5 82.9 86.3 85.9 94.5 87.3C102.7 88.7 115.1 89.2 124.2 89.0C133.2 88.7 142.0 86.9 148.9 85.7C155.8 84.4 165.4 83.7 165.4 81.5C165.4 79.3 153.6 74.8 148.9 72.5C144.2 70.1 136.0 69.5 137.4 67.5C138.7 65.6 148.3 63.4 157.1 60.9C165.9 58.5 179.1 55.4 190.1 52.7C201.1 49.9 212.1 47.9 223.1 44.5C234.1 41.0 245.0 36.2 256.0 32.1C267.0 28.0 279.9 23.7 289.0 19.7C298.1 15.7 302.5 12.3 310.8 8.2C319.0 4.1 333.8 -2.8 338.5 -5.0L371.4 -54.5L-57.2 -54.5Z" fill="#ee6445"/><path d="M-24.2 68.4C-20.2 68.2 -11.3 67.9 -0.3 67.5C10.7 67.1 29.3 66.2 41.8 65.9C54.3 65.5 63.7 66.1 74.7 65.5C85.7 65.0 96.7 63.9 107.7 62.6C118.7 61.3 129.7 60.0 140.7 57.6C151.6 55.3 162.6 51.6 173.6 48.6C184.6 45.5 195.6 42.7 206.6 39.5C217.6 36.3 223.1 36.2 239.6 29.6C256.0 23.1 291.8 6.3 305.5 0.3C319.2 -5.8 319.2 -5.5 322.0 -6.6L-57.2 -54.5Z" fill="#fa9b58"/><path d="M-24.2 65.1C-20.2 64.9 -11.3 64.7 -0.3 64.2C10.7 63.8 29.3 62.8 41.8 62.3C54.3 61.7 63.7 61.8 74.7 60.9C85.7 60.0 96.7 58.5 107.7 56.8C118.7 55.2 129.7 53.5 140.7 51.0C151.6 48.6 162.6 44.9 173.6 42.0C184.6 39.1 195.6 36.8 206.6 33.7C217.6 30.7 224.4 29.4 239.6 23.8C254.7 18.3 284.9 5.4 297.2 0.3C309.6 -4.8 311.0 -5.5 313.7 -6.6L-57.2 -54.5Z" fill="#fece7c"/><path d="M-24.2 62.6C-20.2 62.4 -11.3 62.4 -0.3 61.8C10.7 61.2 29.3 59.8 41.8 59.0C54.3 58.1 63.7 58.0 74.7 56.8C85.7 55.6 96.7 53.9 107.7 51.9C118.7 49.8 129.7 47.2 140.7 44.5C151.6 41.7 162.6 38.1 173.6 35.4C184.6 32.6 195.6 30.9 206.6 28.0C217.6 25.1 226.1 22.7 239.6 18.1C253.0 13.5 276.6 4.4 287.4 0.3C298.1 -3.8 301.1 -5.5 303.8 -6.6L-57.2 -54.5Z" fill="#fff1a8"/><path d="M-24.2 59.3C-20.2 59.1 -11.3 59.1 -0.3 58.5C10.7 57.8 29.3 56.3 41.8 55.2C54.3 54.1 63.7 53.4 74.7 51.9C85.7 50.4 96.7 48.4 107.7 46.1C118.7 43.8 129.7 40.7 140.7 37.9C151.6 35.0 162.6 31.5 173.6 28.8C184.6 26.0 195.6 24.3 206.6 21.4C217.6 18.5 228.0 15.0 239.6 11.5C251.1 8.0 267.0 3.3 275.8 0.3C284.6 -2.7 289.6 -5.5 292.3 -6.6L-57.2 -54.5Z" fill="#f4faad"/><path d="M-24.2 54.0C-20.2 53.9 -11.3 54.2 -0.3 53.5C10.7 52.8 29.3 51.5 41.8 49.7C54.3 47.9 63.7 45.3 74.7 42.8C85.7 40.3 96.7 37.3 107.7 34.6C118.7 31.8 129.7 28.9 140.7 26.3C151.6 23.7 162.6 21.1 173.6 18.9C184.6 16.7 192.8 16.2 206.6 13.1C220.3 10.0 245.0 3.3 256.0 0.3C267.0 -2.7 269.8 -4.1 272.5 -5.0L-57.2 -54.5Z" fill="#d1ed9c"/><path d="M-24.2 50.7C-20.2 50.6 -11.3 51.0 -0.3 50.2C10.7 49.5 29.3 48.0 41.8 46.1C54.3 44.2 63.7 41.3 74.7 38.7C85.7 36.1 96.7 33.3 107.7 30.4C118.7 27.6 129.7 24.0 140.7 21.4C151.6 18.7 162.6 16.4 173.6 14.5C184.6 12.5 194.5 11.9 206.6 9.5C218.7 7.1 236.8 2.7 246.1 0.3C255.5 -2.1 259.9 -4.1 262.6 -5.0L-57.2 -54.5Z" fill="#97d5a4"/><path d="M-24.2 47.4C-20.2 47.3 -11.3 47.7 -0.3 46.9C10.7 46.1 29.3 44.5 41.8 42.5C54.3 40.4 63.7 37.3 74.7 34.6C85.7 31.9 96.7 29.2 107.7 26.3C118.7 23.4 129.7 19.9 140.7 17.3C151.6 14.6 162.6 12.5 173.6 10.7C184.6 8.8 196.4 7.9 206.6 6.2C216.8 4.5 227.2 2.1 234.6 0.3C242.0 -1.6 248.3 -4.1 251.1 -5.0L-57.2 -54.5Z" fill="#5cb7aa"/><path d="M-24.2 44.1C-20.2 44.0 -11.3 44.5 -0.3 43.6C10.7 42.7 29.3 40.9 41.8 38.7C54.3 36.5 63.7 33.2 74.7 30.4C85.7 27.7 96.7 25.1 107.7 22.2C118.7 19.3 129.7 15.7 140.7 13.1C151.6 10.5 162.6 8.3 173.6 6.5C184.6 4.8 198.3 3.5 206.6 2.4C214.8 1.4 217.6 1.2 223.1 0.3C228.6 -0.7 236.8 -2.7 239.6 -3.4L-57.2 -54.5Z" fill="#3682ba"/><path d="M-24.2 176.3C-20.2 176.3 -11.3 176.3 -0.3 176.3C10.7 176.3 29.8 176.6 41.8 176.3C53.7 176.0 63.2 175.2 71.4 174.7C79.7 174.1 83.8 175.5 91.2 173.0C98.6 170.5 109.9 164.0 115.9 159.8C122.0 155.7 125.3 151.6 127.5 148.3C129.7 145.0 127.7 143.6 129.1 140.1C130.5 136.5 132.4 130.7 135.7 126.9C139.0 123.0 143.9 120.0 148.9 117.0C153.8 114.0 159.9 111.2 165.4 108.7C170.9 106.3 175.0 103.4 181.9 102.1C188.7 100.9 197.0 100.8 206.6 101.3C216.2 101.9 229.9 104.2 239.6 105.4C249.2 106.7 256.0 107.9 264.3 108.7C272.5 109.6 281.3 109.7 289.0 110.4C296.8 111.1 302.5 112.3 310.8 112.9C319.0 113.4 333.8 113.5 338.5 113.7L371.4 242.3L-57.2 242.3Z" fill="#ee6445"/><path d="M-24.2 182.9C-20.2 182.9 -11.3 182.6 -0.3 182.9C10.7 183.2 29.3 184.0 41.8 184.6C54.3 185.2 63.2 186.2 74.7 186.5C86.3 186.9 102.7 188.2 111.0 186.5C119.2 184.8 119.2 180.8 124.2 176.3C129.1 171.9 136.8 164.5 140.7 159.8C144.5 155.2 145.6 151.6 147.2 148.3C148.9 145.0 148.9 142.5 150.5 140.1C152.2 137.6 153.3 135.7 157.1 133.5C161.0 131.3 168.1 128.5 173.6 126.9C179.1 125.2 184.6 124.8 190.1 123.6C195.6 122.3 201.1 119.7 206.6 119.5C212.1 119.2 216.2 121.1 223.1 121.9C229.9 122.7 239.6 123.8 247.8 124.4C256.0 124.9 265.7 125.1 272.5 125.2C279.4 125.4 282.6 124.9 289.0 125.2C295.4 125.5 302.5 126.5 310.8 126.9C319.0 127.3 333.8 127.6 338.5 127.7L371.4 242.3L-57.2 242.3Z" fill="#fa9b58"/><path d="M170.3 209.3C170.3 205.5 168.9 192.6 170.3 186.5C171.7 180.5 176.1 177.5 178.6 173.0C181.0 168.6 181.9 163.1 185.2 159.8C188.5 156.5 192.0 155.2 198.3 153.2C204.7 151.3 214.8 149.7 223.1 148.3C231.3 146.9 239.6 146.2 247.8 145.0C256.0 143.8 265.7 142.3 272.5 140.9C279.4 139.5 282.6 137.9 289.0 136.8C295.4 135.7 302.5 134.8 310.8 134.3C319.0 133.7 333.8 133.6 338.5 133.5L371.4 242.3Z" fill="#fece7c"/><path d="M203.3 209.3C203.3 205.5 201.4 192.3 203.3 186.5C205.2 180.8 210.2 178.3 214.8 174.7C219.5 171.0 224.4 167.8 231.3 164.8C238.2 161.8 247.8 159.0 256.0 156.5C264.3 154.1 271.6 152.1 280.8 149.9C289.9 147.7 301.1 144.7 310.8 143.4C320.4 142.0 333.8 142.0 338.5 141.7L371.4 242.3Z" fill="#fff1a8"/><path d="M236.3 209.3C236.3 205.5 234.3 191.8 236.3 186.5C238.2 181.3 243.1 180.8 247.8 178.0C252.5 175.2 257.4 172.7 264.3 169.7C271.1 166.7 281.3 162.6 289.0 159.8C296.8 157.1 302.5 154.9 310.8 153.2C319.0 151.6 333.8 150.5 338.5 149.9L371.4 242.3Z" fill="#f4faad"/><path d="M272.5 209.3C272.5 205.5 269.8 191.8 272.5 186.5C275.3 181.3 282.6 181.3 289.0 178.0C295.4 174.6 302.5 169.5 310.8 166.4C319.0 163.4 333.8 160.9 338.5 159.8L371.4 242.3Z" fill="#d1ed9c"/><line x1="85.9" y1="0" x2="85.9" y2="186.2" stroke="#c9c9c9" stroke-width="1.1" opacity="0.9"/><line x1="190.2" y1="0" x2="190.2" y2="186.2" stroke="#c9c9c9" stroke-width="1.1" opacity="0.9"/><line x1="294.4" y1="0" x2="294.4" y2="186.2" stroke="#c9c9c9" stroke-width="1.1" opacity="0.9"/><line x1="0" y1="65.2" x2="311.0" y2="65.2" stroke="#c9c9c9" stroke-width="1.1" opacity="0.9"/><line x1="0" y1="134.3" x2="311.0" y2="134.3" stroke="#c9c9c9" stroke-width="1.1" opacity="0.9"/><use href="#tpcd" fill="none" stroke="#fff" stroke-width="2.6" stroke-linejoin="round"/><path d="M0 167.6L12 166.3L25.4 164.6L28 167L32 172L37 176.2L42 177.8L43.5 180.3L48.5 182.8L55 182L52 186.2" fill="none" stroke="#8a8a8a" stroke-width="0.7" opacity="0.8"/><path d="M191.5 186.2L192.3 180.5L194 184L197 185L198.5 186.2" fill="none" stroke="#8a8a8a" stroke-width="0.9" opacity="0.8"/><text x="86.5" y="181.2" font-size="22.4" fill="#cccccc" fill-opacity="0.88" text-anchor="middle">75°E</text><text x="190.8" y="181.2" font-size="22.4" fill="#cccccc" fill-opacity="0.88" text-anchor="middle">90°E</text><text x="1.2" y="72.8" font-size="22.4" fill="#cccccc" fill-opacity="0.88">40°N</text><text x="1.2" y="141.9" font-size="22.4" fill="#cccccc" fill-opacity="0.88">30°N</text></g>
<g transform="translate(431.5,772.0)" clip-path="url(#clipcd)"><rect width="311.0" height="186.2" fill="#f4faad"/><path d="M-24.0 64.2C-19.9 61.9 -6.6 54.3 0.2 50.2C7.1 46.1 10.3 44.0 17.2 39.5C24.2 35.0 35.1 28.2 42.0 23.0C48.8 17.8 54.6 12.0 58.4 8.2C62.3 4.4 63.1 2.7 65.0 0.3C67.0 -2.2 69.1 -5.5 70.0 -6.6L-57.0 -54.5Z" fill="#fff1a8"/><path d="M-24.0 56.0C-19.9 53.8 -6.6 46.9 0.2 42.8C7.1 38.7 10.8 35.7 17.2 31.3C23.6 26.9 32.1 21.6 38.7 16.4C45.2 11.3 52.9 4.1 56.8 0.3C60.6 -3.6 60.9 -5.5 61.7 -6.6L-57.0 -54.5Z" fill="#fece7c"/><path d="M-24.0 46.1C-19.9 44.0 -8.0 38.7 0.2 33.7C8.5 28.8 18.0 22.0 25.5 16.4C33.0 10.9 40.9 4.1 45.2 0.3C49.6 -3.6 50.7 -5.5 51.8 -6.6L-57.0 -54.5Z" fill="#fa9b58"/><path d="M-24.0 32.9C-19.9 31.0 -6.6 25.2 0.2 21.4C7.1 17.5 12.2 13.4 17.2 9.8C22.3 6.3 27.1 3.0 30.4 0.3C33.7 -2.5 35.9 -5.5 37.0 -6.6L-57.0 -54.5Z" fill="#ee6445"/><path d="M-24.0 14.8C-19.9 13.4 -5.5 9.0 0.2 6.5C6.0 4.1 7.8 2.5 10.6 0.3C13.5 -1.9 16.1 -5.5 17.2 -6.6L-57.0 -54.5Z" fill="#d0384e"/><path d="M-24.0 60.9C-19.9 49.9 -6.6 60.9 0.2 60.9C7.1 60.9 11.6 59.6 17.2 60.9C22.8 62.3 28.8 65.1 33.7 69.2C38.7 73.3 44.1 80.2 46.9 85.7C49.6 91.2 48.3 96.9 50.2 102.1C52.1 107.4 54.3 112.6 58.4 117.0C62.6 121.4 68.0 124.9 74.9 128.5C81.8 132.1 91.4 135.4 99.6 138.4C107.9 141.4 116.1 143.9 124.4 146.6C132.6 149.4 140.9 151.9 149.1 154.9C157.3 157.9 165.6 161.8 173.8 164.8C182.1 167.8 191.1 170.3 198.5 173.0C206.0 175.8 214.5 179.0 218.3 181.3C222.2 183.5 221.1 183.2 221.6 186.5C222.2 189.8 235.6 198.6 221.6 201.0C207.6 203.5 151.6 203.5 137.6 201.0C123.5 198.6 139.8 191.2 137.6 186.5C135.4 181.9 130.7 177.5 124.4 173.0C118.0 168.6 107.9 164.0 99.6 159.8C91.4 155.7 83.2 152.1 74.9 148.3C66.7 144.5 58.4 140.1 50.2 136.8C42.0 133.5 33.8 130.2 25.5 128.5C17.1 126.9 8.5 127.1 0.2 126.9C-8.0 126.6 -19.9 137.9 -24.0 126.9C-28.0 115.9 -28.0 71.9 -24.0 60.9Z" fill="#fff1a8"/><path d="M-24.0 67.5C-19.9 59.4 -5.8 66.4 0.2 67.5C6.3 68.6 8.6 70.8 12.3 74.1C15.9 77.4 19.7 82.6 22.2 87.3C24.6 92.0 27.1 98.0 27.1 102.1C27.1 106.3 25.2 109.8 22.2 112.0C19.1 114.2 12.6 114.6 9.0 115.3C5.3 116.0 5.7 116.0 0.2 116.2C-5.2 116.3 -19.9 124.3 -24.0 116.2C-28.0 108.0 -28.0 75.6 -24.0 67.5Z" fill="#fece7c"/><path d="M86.5 -13.2C86.5 -11.0 86.5 -5.2 86.5 0.3C86.5 5.8 87.1 12.9 86.5 19.7C85.8 26.5 84.8 32.9 82.3 41.2C79.9 49.4 73.7 62.6 71.6 69.2C69.6 75.8 70.0 76.6 70.0 80.7C70.0 84.8 69.1 90.1 71.6 93.9C74.1 97.7 78.8 100.5 84.8 103.8C90.9 107.1 101.3 110.9 107.9 113.7C114.5 116.4 117.5 118.4 124.4 120.3C131.2 122.2 140.9 124.1 149.1 125.2C157.3 126.3 167.5 125.2 173.8 126.9C180.1 128.5 183.4 132.8 187.0 135.1C190.6 137.4 192.0 140.3 195.2 140.9C198.5 141.4 201.6 139.5 206.8 138.4C212.0 137.3 221.6 134.0 226.6 134.3C231.5 134.6 233.2 140.2 236.5 140.1C239.8 139.9 241.7 135.4 246.3 133.5C251.0 131.5 260.1 130.4 264.5 128.5C268.9 126.6 268.9 126.0 272.7 121.9C276.6 117.8 284.0 109.6 287.6 103.8C291.1 98.0 291.7 92.5 294.1 87.3C296.6 82.1 299.6 76.0 302.4 72.5C305.1 68.9 304.6 67.8 310.6 65.9C316.7 64.0 334.0 61.8 338.7 60.9L371.6 -54.5Z" fill="#d1ed9c"/><path d="M103.3 -13.2C103.3 -11.0 103.7 -6.6 103.3 0.3C102.8 7.1 101.5 19.2 100.5 28.0C99.5 36.7 97.6 46.1 97.2 52.7C96.8 59.3 96.2 63.4 98.0 67.5C99.8 71.6 102.1 74.7 107.9 77.4C113.7 80.2 124.4 83.0 132.6 84.0C140.9 85.0 150.5 82.6 157.3 83.2C164.2 83.7 170.2 85.0 173.8 87.3C177.4 89.6 176.0 94.7 178.8 97.2C181.5 99.7 185.6 102.1 190.3 102.1C195.0 102.1 199.9 98.8 206.8 97.2C213.7 95.5 224.6 93.4 231.5 92.3C238.4 91.2 242.5 92.5 248.0 90.6C253.5 88.7 259.0 84.3 264.5 80.7C270.0 77.1 275.5 73.0 281.0 69.2C286.5 65.3 292.5 60.7 297.4 57.6C302.4 54.6 303.8 53.2 310.6 51.0C317.5 48.8 334.0 45.5 338.7 44.5L371.6 -54.5Z" fill="#97d5a4"/><path d="M114.5 -13.2C114.5 -11.0 113.9 -6.6 114.5 0.3C115.0 7.1 115.3 20.6 117.8 28.0C120.2 35.3 124.1 39.8 129.3 44.5C134.5 49.1 140.3 52.7 149.1 56.0C157.9 59.3 169.7 62.6 182.1 64.2C194.4 65.9 212.3 66.2 223.3 65.9C234.3 65.6 239.8 64.5 248.0 62.6C256.2 60.7 265.0 57.6 272.7 54.3C280.4 51.0 287.8 46.1 294.1 42.8C300.5 39.5 303.2 37.0 310.6 34.6C318.0 32.1 334.0 29.1 338.7 28.0L371.6 -54.5Z" fill="#5cb7aa"/><path d="M127.7 -13.2C127.7 -11.0 126.8 -5.2 127.7 0.3C128.5 5.8 129.9 14.3 132.6 19.7C135.4 25.2 138.7 29.1 144.1 32.9C149.6 36.8 156.5 40.1 165.6 42.8C174.6 45.5 187.6 47.9 198.5 49.4C209.5 50.9 221.9 52.1 231.5 51.9C241.1 51.6 248.8 50.1 256.2 47.7C263.7 45.4 271.1 42.0 276.0 37.9C281.0 33.7 284.3 28.0 285.9 23.0C287.6 18.1 286.7 12.0 285.9 8.2C285.1 4.4 282.1 3.8 281.0 0.3C279.9 -3.3 279.6 -11.0 279.3 -13.2Z" fill="#3682ba"/><path d="M-24.0 153.2C-19.9 153.2 -8.0 152.4 0.2 153.2C8.5 154.1 17.7 156.0 25.5 158.2C33.2 160.4 41.4 163.4 46.9 166.4C52.4 169.5 55.7 173.0 58.4 176.3C61.2 179.7 62.3 181.0 63.4 186.5C64.5 192.0 64.8 205.5 65.0 209.3L-57.0 242.3Z" fill="#d1ed9c"/><line x1="85.9" y1="0" x2="85.9" y2="186.2" stroke="#c9c9c9" stroke-width="1.1" opacity="0.9"/><line x1="190.2" y1="0" x2="190.2" y2="186.2" stroke="#c9c9c9" stroke-width="1.1" opacity="0.9"/><line x1="294.4" y1="0" x2="294.4" y2="186.2" stroke="#c9c9c9" stroke-width="1.1" opacity="0.9"/><line x1="0" y1="65.2" x2="311.0" y2="65.2" stroke="#c9c9c9" stroke-width="1.1" opacity="0.9"/><line x1="0" y1="134.3" x2="311.0" y2="134.3" stroke="#c9c9c9" stroke-width="1.1" opacity="0.9"/><use href="#tpcd" fill="none" stroke="#fff" stroke-width="2.6" stroke-linejoin="round"/><path d="M0 167.6L12 166.3L25.4 164.6L28 167L32 172L37 176.2L42 177.8L43.5 180.3L48.5 182.8L55 182L52 186.2" fill="none" stroke="#8a8a8a" stroke-width="0.7" opacity="0.8"/><path d="M191.5 186.2L192.3 180.5L194 184L197 185L198.5 186.2" fill="none" stroke="#8a8a8a" stroke-width="0.9" opacity="0.8"/><text x="86.5" y="181.2" font-size="22.4" fill="#cccccc" fill-opacity="0.88" text-anchor="middle">75°E</text><text x="190.8" y="181.2" font-size="22.4" fill="#cccccc" fill-opacity="0.88" text-anchor="middle">90°E</text><text x="1.2" y="72.8" font-size="22.4" fill="#cccccc" fill-opacity="0.88">40°N</text><text x="1.2" y="141.9" font-size="22.4" fill="#cccccc" fill-opacity="0.88">30°N</text></g>
<g transform="translate(745.3,772.0)" clip-path="url(#clipcd)"><rect width="311.0" height="186.2" fill="#fece7c"/><path d="M-24.8 34.6C-20.7 34.8 -8.3 35.1 -0.1 36.2C8.2 37.3 15.1 38.4 24.7 41.2C34.3 43.9 46.6 49.5 57.6 52.7C68.6 55.9 79.6 58.6 90.6 60.1C101.6 61.6 112.6 61.6 123.6 61.8C134.6 61.9 145.5 61.2 156.5 60.9C167.5 60.7 178.5 60.7 189.5 60.1C200.5 59.6 211.5 58.9 222.5 57.6C233.5 56.4 244.4 55.2 255.4 52.7C266.4 50.2 279.2 45.8 288.4 42.8C297.6 39.8 302.4 37.6 310.7 34.6C318.9 31.5 333.3 26.3 337.9 24.7L370.8 -54.5L-57.8 -54.5Z" fill="#fff1a8"/><path d="M-24.8 19.7C-20.7 20.3 -6.9 21.4 -0.1 23.0C6.8 24.7 9.6 27.0 16.4 29.6C23.3 32.2 31.5 35.7 41.2 38.7C50.8 41.7 63.1 45.5 74.1 47.7C85.1 49.9 96.1 51.2 107.1 51.9C118.1 52.6 129.1 52.3 140.1 51.9C151.0 51.5 159.3 50.6 173.0 49.4C186.8 48.2 206.0 46.9 222.5 44.5C239.0 42.0 257.2 38.1 271.9 34.6C286.6 31.0 299.7 26.3 310.7 23.0C321.6 19.7 333.3 16.2 337.9 14.8L370.8 -54.5L-57.8 -54.5Z" fill="#f4faad"/><path d="M-24.8 -5.0C-20.7 -3.4 -6.9 1.0 -0.1 4.9C6.8 8.7 9.6 14.0 16.4 18.1C23.3 22.2 31.5 26.2 41.2 29.6C50.8 33.0 63.1 36.6 74.1 38.7C85.1 40.7 96.1 41.7 107.1 42.0C118.1 42.3 129.1 41.6 140.1 40.3C151.0 39.1 159.3 36.6 173.0 34.6C186.8 32.5 206.0 30.7 222.5 28.0C239.0 25.2 257.2 21.9 271.9 18.1C286.6 14.2 299.7 8.7 310.7 4.9C321.6 1.0 333.3 -3.4 337.9 -5.0L370.8 -54.5L-57.8 -54.5Z" fill="#d1ed9c"/><path d="M-1.7 -8.3C-0.3 -6.9 2.1 -3.0 6.5 0.3C10.9 3.6 17.5 7.7 24.7 11.5C31.8 15.3 41.2 19.9 49.4 23.0C57.6 26.2 64.5 28.7 74.1 30.4C83.7 32.2 96.1 33.7 107.1 33.7C118.1 33.7 129.1 32.2 140.1 30.4C151.0 28.7 159.3 25.2 173.0 23.0C186.8 20.8 206.0 19.7 222.5 17.3C239.0 14.8 260.1 11.0 271.9 8.2C283.7 5.4 287.9 3.0 293.3 0.3C298.8 -2.5 303.0 -6.9 304.9 -8.3Z" fill="#97d5a4"/><path d="M8.2 -8.3C9.6 -6.9 10.9 -3.0 16.4 0.3C21.9 3.6 32.9 8.0 41.2 11.5C49.4 15.0 56.3 19.0 65.9 21.4C75.5 23.7 86.5 25.8 98.8 25.5C111.2 25.2 127.7 21.8 140.1 19.7C152.4 17.7 159.3 14.9 173.0 13.1C186.8 11.3 207.4 11.2 222.5 9.0C237.6 6.9 254.9 3.2 263.7 0.3C272.5 -2.6 273.3 -6.9 275.2 -8.3Z" fill="#5cb7aa"/><path d="M19.7 -8.3C21.4 -6.9 24.7 -2.5 29.6 0.3C34.6 3.0 42.0 5.8 49.4 8.2C56.8 10.6 64.5 13.3 74.1 14.8C83.7 16.3 96.1 17.8 107.1 17.3C118.1 16.7 129.1 13.3 140.1 11.5C151.0 9.7 162.0 7.8 173.0 6.5C184.0 5.3 195.0 5.1 206.0 4.1C217.0 3.0 230.7 2.3 239.0 0.3C247.2 -1.8 252.7 -6.9 255.4 -8.3Z" fill="#3682ba"/><path d="M-24.8 47.7C-20.7 31.8 -8.3 47.2 -0.1 47.7C8.2 48.3 15.1 48.8 24.7 51.0C34.3 53.2 48.0 58.2 57.6 60.9C67.2 63.7 74.1 65.6 82.4 67.5C90.6 69.5 97.5 71.4 107.1 72.5C116.7 73.6 129.1 73.6 140.1 74.1C151.0 74.7 163.4 74.9 173.0 75.8C182.6 76.6 190.9 77.4 197.7 79.1C204.6 80.7 210.7 83.5 214.2 85.7C217.8 87.9 220.5 90.7 219.2 92.3C217.8 93.8 212.3 94.5 206.0 94.7C199.7 95.0 189.5 93.6 181.3 93.9C173.0 94.2 164.8 95.3 156.5 96.4C148.3 97.5 138.4 98.4 131.8 100.5C125.2 102.6 121.1 105.4 117.0 108.7C112.9 112.0 110.4 116.7 107.1 120.3C103.8 123.8 101.0 127.1 97.2 130.2C93.3 133.2 89.2 136.2 84.0 138.4C78.8 140.6 73.0 142.0 65.9 143.4C58.7 144.7 49.4 145.8 41.2 146.6C32.9 147.5 23.3 148.8 16.4 148.3C9.6 147.7 6.8 144.2 -0.1 143.4C-6.9 142.5 -20.7 159.3 -24.8 143.4C-28.9 127.4 -28.9 63.7 -24.8 47.7Z" fill="#fa9b58"/><path d="M337.9 87.3C333.3 74.7 320.3 86.9 310.7 87.3C301.0 87.7 289.4 88.7 280.2 89.8C271.0 90.9 261.5 92.4 255.4 93.9C249.4 95.4 243.3 95.5 243.9 98.8C244.4 102.1 255.2 109.0 258.7 113.7C262.3 118.4 263.4 122.7 265.3 126.9C267.2 131.0 267.8 134.3 270.3 138.4C272.7 142.5 275.8 148.3 280.2 151.6C284.6 154.9 291.6 156.5 296.6 158.2C301.7 159.8 303.8 160.7 310.7 161.5C317.5 162.3 333.3 175.5 337.9 163.1C342.4 150.8 342.4 99.9 337.9 87.3Z" fill="#fa9b58"/><path d="M9.8 74.1C12.6 71.6 24.9 71.6 32.9 72.5C40.9 73.3 50.2 76.6 57.6 79.1C65.1 81.5 72.7 85.1 77.4 87.3C82.1 89.5 84.6 88.4 85.7 92.3C86.8 96.1 85.9 105.4 84.0 110.4C82.1 115.3 78.5 119.5 74.1 121.9C69.7 124.4 63.7 124.9 57.6 125.2C51.6 125.5 42.8 125.5 37.9 123.6C32.9 121.6 30.4 117.5 28.0 113.7C25.5 109.8 24.9 104.9 23.0 100.5C21.1 96.1 18.6 91.7 16.4 87.3C14.2 82.9 7.1 76.6 9.8 74.1Z" fill="#ee6445"/><path d="M-24.8 166.4C-20.7 166.2 -8.3 165.6 -0.1 164.8C8.2 164.0 15.1 163.4 24.7 161.5C34.3 159.6 48.0 156.5 57.6 153.2C67.2 149.9 74.1 144.5 82.4 141.7C90.6 139.0 98.6 138.7 107.1 136.8C115.6 134.8 126.6 131.5 133.5 130.2C140.3 128.8 143.1 127.4 148.3 128.5C153.5 129.6 160.7 133.7 164.8 136.8C168.9 139.8 168.9 143.8 173.0 146.6C177.1 149.5 181.3 152.3 189.5 154.1C197.7 155.9 211.5 156.4 222.5 157.4C233.5 158.3 245.8 158.6 255.4 159.8C265.1 161.1 273.8 162.6 280.2 164.8C286.5 167.0 290.6 169.4 293.3 173.0C296.1 176.6 295.8 180.5 296.6 186.5C297.5 192.6 298.0 205.5 298.3 209.3L-57.8 242.3Z" fill="#fff1a8"/><path d="M-24.8 178.0C-20.7 177.7 -11.0 177.3 -0.1 176.3C10.9 175.4 28.8 173.6 41.2 172.2C53.5 170.8 63.1 169.6 74.1 168.1C85.1 166.6 96.1 164.5 107.1 163.1C118.1 161.8 129.1 159.8 140.1 159.8C151.0 159.8 162.0 161.5 173.0 163.1C184.0 164.8 195.0 167.5 206.0 169.7C217.0 171.9 229.3 173.5 239.0 176.3C248.6 179.1 258.2 181.0 263.7 186.5C269.2 192.0 270.5 205.5 271.9 209.3L-57.8 242.3Z" fill="#f4faad"/><line x1="85.9" y1="0" x2="85.9" y2="186.2" stroke="#c9c9c9" stroke-width="1.1" opacity="0.9"/><line x1="190.2" y1="0" x2="190.2" y2="186.2" stroke="#c9c9c9" stroke-width="1.1" opacity="0.9"/><line x1="294.4" y1="0" x2="294.4" y2="186.2" stroke="#c9c9c9" stroke-width="1.1" opacity="0.9"/><line x1="0" y1="65.2" x2="311.0" y2="65.2" stroke="#c9c9c9" stroke-width="1.1" opacity="0.9"/><line x1="0" y1="134.3" x2="311.0" y2="134.3" stroke="#c9c9c9" stroke-width="1.1" opacity="0.9"/><use href="#tpcd" fill="none" stroke="#fff" stroke-width="2.6" stroke-linejoin="round"/><path d="M0 167.6L12 166.3L25.4 164.6L28 167L32 172L37 176.2L42 177.8L43.5 180.3L48.5 182.8L55 182L52 186.2" fill="none" stroke="#8a8a8a" stroke-width="0.7" opacity="0.8"/><path d="M191.5 186.2L192.3 180.5L194 184L197 185L198.5 186.2" fill="none" stroke="#8a8a8a" stroke-width="0.9" opacity="0.8"/><text x="86.5" y="181.2" font-size="22.4" fill="#cccccc" fill-opacity="0.88" text-anchor="middle">75°E</text><text x="190.8" y="181.2" font-size="22.4" fill="#cccccc" fill-opacity="0.88" text-anchor="middle">90°E</text><text x="1.2" y="72.8" font-size="22.4" fill="#cccccc" fill-opacity="0.88">40°N</text><text x="1.2" y="141.9" font-size="22.4" fill="#cccccc" fill-opacity="0.88">30°N</text></g>
<g transform="translate(1059.1,772.0)" clip-path="url(#clipcd)"><rect width="311.0" height="186.2" fill="#fff1a8"/><path d="M-24.6 14.0C-20.5 13.8 -8.1 13.5 0.1 13.1C8.4 12.7 15.3 12.9 24.9 11.5C34.5 10.1 50.1 6.8 57.8 4.9C65.5 3.0 67.2 1.9 71.0 0.3C74.9 -1.4 79.3 -4.1 80.9 -5.0L-57.6 -54.5Z" fill="#f4faad"/><path d="M107.3 209.3C107.3 205.5 104.5 192.6 107.3 186.5C110.0 180.5 116.9 176.4 123.8 173.0C130.6 169.7 138.9 167.5 148.5 166.4C158.1 165.3 170.5 165.9 181.5 166.4C192.4 167.0 204.8 168.1 214.4 169.7C224.0 171.4 232.3 173.5 239.2 176.3C246.0 179.1 252.3 181.0 255.6 186.5C258.9 192.0 258.4 205.5 258.9 209.3Z" fill="#f4faad"/><path d="M-24.6 32.9C-20.5 32.9 -8.1 33.3 0.1 32.9C8.4 32.5 15.3 31.8 24.9 30.4C34.5 29.1 46.8 27.6 57.8 24.7C68.8 21.8 82.6 17.2 90.8 13.1C99.0 9.1 103.4 4.7 107.3 0.3C111.1 -4.1 112.8 -11.0 113.9 -13.2L338.1 -13.2L338.1 19.7C333.5 20.5 317.2 21.1 310.9 24.7C304.5 28.2 302.5 35.1 300.1 41.2C297.8 47.2 296.6 54.9 296.8 60.9C297.1 67.0 300.4 70.5 301.8 77.4C303.2 84.3 305.9 93.9 305.1 102.1C304.3 110.4 301.0 120.0 296.8 126.9C292.7 133.7 287.2 140.1 280.4 143.4C273.5 146.6 265.3 145.1 255.6 146.6C246.0 148.2 233.7 150.9 222.7 152.4C211.7 153.9 200.7 155.4 189.7 155.7C178.7 156.0 169.1 155.0 156.7 154.1C144.4 153.1 127.9 150.4 115.5 149.9C103.2 149.5 90.8 150.5 82.6 151.6C74.3 152.7 71.6 153.8 66.1 156.5C60.6 159.3 54.0 165.1 49.6 168.1C45.2 171.1 43.8 175.2 39.7 174.7C35.6 174.1 28.2 168.6 24.9 164.8C21.6 160.9 24.0 155.2 19.9 151.6C15.8 148.0 7.6 145.0 0.1 143.4C-7.3 141.7 -20.5 142.0 -24.6 141.7Z" fill="#fece7c"/><path d="M-24.6 44.5C-20.5 44.5 -8.1 44.7 0.1 44.5C8.4 44.2 15.3 43.6 24.9 42.8C34.5 42.0 46.8 42.0 57.8 39.5C68.8 37.0 82.0 32.1 90.8 28.0C99.6 23.8 105.1 19.4 110.6 14.8C116.1 10.2 120.7 4.9 123.8 0.3C126.8 -4.4 127.9 -11.0 128.7 -13.2L338.1 -13.2L338.1 -8.3C333.5 -6.6 316.9 -1.7 310.9 1.6C304.8 4.9 305.5 7.1 301.8 11.5C298.1 15.9 292.4 22.5 288.6 28.0C284.8 33.5 281.5 39.5 278.7 44.5C276.0 49.4 272.7 53.8 272.1 57.6C271.6 61.5 273.8 63.7 275.4 67.5C277.1 71.4 280.1 75.8 282.0 80.7C283.9 85.7 288.1 91.7 287.0 97.2C285.9 102.7 280.6 108.7 275.4 113.7C270.2 118.6 264.4 123.3 255.6 126.9C246.8 130.4 233.7 133.2 222.7 135.1C211.7 137.0 200.7 138.1 189.7 138.4C178.7 138.7 167.7 137.9 156.7 136.8C145.7 135.7 134.8 133.5 123.8 131.8C112.8 130.2 100.4 127.4 90.8 126.9C81.2 126.3 74.3 128.5 66.1 128.5C57.8 128.5 49.6 128.2 41.4 126.9C33.1 125.5 23.5 123.0 16.6 120.3C9.8 117.5 7.0 112.6 0.1 110.4C-6.7 108.2 -20.5 107.6 -24.6 107.1Z" fill="#fa9b58"/><path d="M143.5 -13.2C116.6 -11.0 144.1 -5.2 143.5 0.3C143.0 5.8 141.9 13.7 140.3 19.7C138.6 25.7 137.8 31.3 133.7 36.2C129.5 41.2 122.7 45.5 115.5 49.4C108.4 53.2 99.0 57.1 90.8 59.3C82.6 61.5 74.3 61.2 66.1 62.6C57.8 64.0 47.9 65.3 41.4 67.5C34.8 69.7 29.5 72.5 26.5 75.8C23.5 79.1 22.7 83.5 23.2 87.3C23.8 91.2 26.0 95.5 29.8 98.8C33.7 102.1 40.3 106.3 46.3 107.1C52.3 107.9 58.7 104.9 66.1 103.8C73.5 102.7 82.6 100.8 90.8 100.5C99.0 100.2 108.7 100.5 115.5 102.1C122.4 103.8 126.5 107.9 132.0 110.4C137.5 112.9 141.6 115.1 148.5 117.0C155.4 118.9 163.6 121.4 173.2 121.9C182.8 122.5 195.2 121.6 206.2 120.3C217.2 118.9 230.9 116.4 239.2 113.7C247.4 110.9 252.2 107.1 255.6 103.8C259.1 100.5 259.8 97.7 259.8 93.9C259.8 90.1 257.4 84.8 255.6 80.7C253.9 76.6 251.2 72.5 249.0 69.2C246.8 65.9 243.0 64.2 242.4 60.9C241.9 57.6 243.0 53.5 245.7 49.4C248.5 45.3 254.0 40.6 258.9 36.2C263.9 31.8 270.5 27.1 275.4 23.0C280.4 18.9 284.2 15.3 288.6 11.5C293.0 7.7 299.0 4.4 301.8 0.3C304.5 -3.8 331.5 -11.0 305.1 -13.2C278.7 -15.5 170.5 -15.5 143.5 -13.2Z" fill="#ee6445"/><path d="M158.4 -13.2C136.7 -11.0 158.7 -4.4 160.0 0.3C161.4 4.9 163.6 10.2 166.6 14.8C169.6 19.4 172.9 24.0 178.2 28.0C183.4 32.0 190.5 36.6 197.9 38.7C205.4 40.7 214.4 41.3 222.7 40.3C230.9 39.4 239.7 36.3 247.4 32.9C255.1 29.5 262.8 24.1 268.8 19.7C274.9 15.3 280.4 9.8 283.7 6.5C287.0 3.3 287.5 3.6 288.6 0.3C289.7 -3.0 312.0 -11.0 290.3 -13.2C268.5 -15.5 180.1 -15.5 158.4 -13.2Z" fill="#d0384e"/><line x1="85.9" y1="0" x2="85.9" y2="186.2" stroke="#c9c9c9" stroke-width="1.1" opacity="0.9"/><line x1="190.2" y1="0" x2="190.2" y2="186.2" stroke="#c9c9c9" stroke-width="1.1" opacity="0.9"/><line x1="294.4" y1="0" x2="294.4" y2="186.2" stroke="#c9c9c9" stroke-width="1.1" opacity="0.9"/><line x1="0" y1="65.2" x2="311.0" y2="65.2" stroke="#c9c9c9" stroke-width="1.1" opacity="0.9"/><line x1="0" y1="134.3" x2="311.0" y2="134.3" stroke="#c9c9c9" stroke-width="1.1" opacity="0.9"/><use href="#tpcd" fill="none" stroke="#fff" stroke-width="2.6" stroke-linejoin="round"/><path d="M0 167.6L12 166.3L25.4 164.6L28 167L32 172L37 176.2L42 177.8L43.5 180.3L48.5 182.8L55 182L52 186.2" fill="none" stroke="#8a8a8a" stroke-width="0.7" opacity="0.8"/><path d="M191.5 186.2L192.3 180.5L194 184L197 185L198.5 186.2" fill="none" stroke="#8a8a8a" stroke-width="0.9" opacity="0.8"/><text x="86.5" y="181.2" font-size="22.4" fill="#cccccc" fill-opacity="0.88" text-anchor="middle">75°E</text><text x="190.8" y="181.2" font-size="22.4" fill="#cccccc" fill-opacity="0.88" text-anchor="middle">90°E</text><text x="1.2" y="72.8" font-size="22.4" fill="#cccccc" fill-opacity="0.88">40°N</text><text x="1.2" y="141.9" font-size="22.4" fill="#cccccc" fill-opacity="0.88">30°N</text></g>
<g transform="translate(1372.9,772.0)" clip-path="url(#clipcd)"><rect width="311.0" height="186.2" fill="#f4faad"/><path d="M-25.4 16.4C-21.2 19.2 -7.2 28.5 -0.3 32.9C6.5 37.3 9.0 40.3 15.8 42.8C22.6 45.3 32.3 47.2 40.6 47.7C48.8 48.3 57.0 47.7 65.3 46.1C73.5 44.5 82.6 41.4 90.0 37.9C97.4 34.3 104.3 29.1 109.8 24.7C115.3 20.3 119.7 15.5 123.0 11.5C126.3 7.4 127.9 3.6 129.6 0.3C131.2 -3.0 132.3 -6.9 132.9 -8.3L-58.4 -54.5Z" fill="#d1ed9c"/><path d="M2.6 -8.3C2.9 -6.9 3.5 -3.6 4.3 0.3C5.1 4.1 4.3 10.2 7.6 14.8C10.9 19.4 17.2 24.8 24.1 28.0C30.9 31.1 40.6 32.9 48.8 33.7C57.0 34.6 66.1 34.1 73.5 32.9C80.9 31.7 87.0 29.6 93.3 26.3C99.6 23.0 106.5 17.5 111.4 13.1C116.4 8.8 120.5 3.8 123.0 0.3C125.4 -3.3 125.7 -6.9 126.3 -8.3Z" fill="#97d5a4"/><path d="M25.7 -8.3C26.3 -6.9 27.1 -2.7 29.0 0.3C30.9 3.3 33.1 7.1 37.3 9.8C41.4 12.5 47.1 15.1 53.7 16.4C60.3 17.8 69.7 18.9 76.8 18.1C84.0 17.3 91.6 14.5 96.6 11.5C101.5 8.5 104.3 3.6 106.5 0.3C108.7 -3.0 109.2 -6.9 109.8 -8.3Z" fill="#5cb7aa"/><path d="M45.5 -8.3C46.3 -6.9 47.1 -1.9 50.4 0.3C53.7 2.4 60.3 3.8 65.3 4.6C70.2 5.3 76.0 5.3 80.1 4.6C84.2 3.8 87.8 2.4 90.0 0.3C92.2 -1.9 92.7 -6.9 93.3 -8.3Z" fill="#3682ba"/><path d="M139.5 -13.2C139.5 -11.0 140.8 -4.4 139.5 0.3C138.1 4.9 134.5 10.2 131.2 14.8C127.9 19.4 123.8 23.6 119.7 28.0C115.6 32.4 111.4 37.3 106.5 41.2C101.5 45.0 95.5 47.7 90.0 51.0C84.5 54.3 78.5 58.2 73.5 60.9C68.6 63.7 63.1 64.2 60.3 67.5C57.6 70.8 59.0 76.3 57.0 80.7C55.1 85.1 54.3 90.1 48.8 93.9C43.3 97.7 30.7 101.0 24.1 103.8C17.5 106.5 10.6 107.9 9.2 110.4C7.9 112.9 10.6 115.9 15.8 118.6C21.0 121.4 30.9 123.3 40.6 126.9C50.2 130.4 62.5 135.7 73.5 140.1C84.5 144.5 95.5 149.7 106.5 153.2C117.5 156.8 128.5 160.4 139.5 161.5C150.4 162.6 161.4 161.1 172.4 159.8C183.4 158.6 194.4 155.6 205.4 154.1C216.4 152.6 227.4 151.7 238.4 150.8C249.3 149.8 261.7 149.5 271.3 148.3C280.9 147.1 289.5 144.7 296.0 143.4C302.6 142.0 304.0 140.9 310.9 140.1C317.7 139.2 332.9 138.7 337.3 138.4L370.2 -54.5Z" fill="#fff1a8"/><path d="M281.2 -13.2C281.2 -11.0 282.9 -3.3 281.2 0.3C279.6 3.8 275.7 5.5 271.3 8.2C266.9 10.9 260.3 14.8 254.8 16.4C249.3 18.1 243.8 18.4 238.4 18.1C232.9 17.8 227.4 16.4 221.9 14.8C216.4 13.1 210.9 9.8 205.4 8.2C199.9 6.5 194.9 4.6 188.9 4.9C182.9 5.2 174.3 7.4 169.1 9.8C163.9 12.3 160.3 15.3 157.6 19.7C154.8 24.1 154.8 31.3 152.6 36.2C150.4 41.2 148.0 45.3 144.4 49.4C140.8 53.5 135.9 57.6 131.2 60.9C126.5 64.2 119.5 66.7 116.4 69.2C113.2 71.6 112.3 73.3 112.3 75.8C112.3 78.2 113.2 81.3 116.4 84.0C119.5 86.8 128.5 89.0 131.2 92.3C134.0 95.5 131.5 100.2 132.9 103.8C134.2 107.4 136.7 110.9 139.5 113.7C142.2 116.4 143.8 118.8 149.3 120.3C154.8 121.8 163.1 122.3 172.4 122.7C181.8 123.2 194.4 122.3 205.4 122.7C216.4 123.2 227.4 124.5 238.4 125.2C249.3 125.9 261.7 125.8 271.3 126.9C280.9 128.0 289.5 130.7 296.0 131.8C302.6 132.9 304.0 133.0 310.9 133.5C317.7 133.9 332.9 134.1 337.3 134.3L370.2 -54.5Z" fill="#fece7c"/><path d="M294.4 -13.2C294.4 -11.0 295.5 -5.2 294.4 0.3C293.3 5.8 290.6 13.5 287.8 19.7C285.1 26.0 282.0 32.6 277.9 37.9C273.8 43.1 268.3 47.5 263.1 51.0C257.9 54.6 252.9 57.1 246.6 59.3C240.3 61.5 230.5 62.0 225.2 64.2C219.8 66.4 215.8 69.2 214.5 72.5C213.1 75.8 214.9 80.2 216.9 84.0C219.0 87.9 221.9 93.3 226.8 95.5C231.8 97.8 239.2 97.5 246.6 97.5C254.0 97.5 264.5 95.1 271.3 95.5C278.2 96.0 283.7 97.5 287.8 100.5C291.9 103.5 294.1 109.3 296.0 113.7C298.0 118.1 296.9 123.8 299.3 126.9C301.8 129.9 304.6 130.7 310.9 131.8C317.2 132.9 332.9 133.2 337.3 133.5L370.2 -54.5Z" fill="#fa9b58"/><path d="M337.3 11.5C332.9 1.0 316.4 9.3 310.9 11.5C305.4 13.7 305.9 19.2 304.3 24.7C302.6 30.2 301.4 38.4 301.0 44.5C300.6 50.5 301.0 56.5 301.8 60.9C302.6 65.3 304.4 68.6 305.9 70.8C307.4 73.0 305.7 73.6 310.9 74.1C316.1 74.7 332.9 84.6 337.3 74.1C341.6 63.7 341.6 21.9 337.3 11.5Z" fill="#ee6445"/><path d="M155.9 209.3C155.9 205.5 153.2 191.3 155.9 186.5C158.7 181.7 165.6 181.6 172.4 180.4C179.3 179.3 191.1 178.6 197.1 179.6C203.2 180.6 206.5 181.6 208.7 186.5C210.9 191.5 210.1 205.5 210.3 209.3Z" fill="#d1ed9c"/><path d="M254.8 209.3C254.8 205.5 250.7 190.9 254.8 186.5C259.0 182.1 270.2 183.7 279.6 182.9C288.9 182.2 301.3 182.2 310.9 182.1C320.5 182.0 332.9 182.1 337.3 182.1L370.2 242.3Z" fill="#d1ed9c"/><line x1="85.9" y1="0" x2="85.9" y2="186.2" stroke="#c9c9c9" stroke-width="1.1" opacity="0.9"/><line x1="190.2" y1="0" x2="190.2" y2="186.2" stroke="#c9c9c9" stroke-width="1.1" opacity="0.9"/><line x1="294.4" y1="0" x2="294.4" y2="186.2" stroke="#c9c9c9" stroke-width="1.1" opacity="0.9"/><line x1="0" y1="65.2" x2="311.0" y2="65.2" stroke="#c9c9c9" stroke-width="1.1" opacity="0.9"/><line x1="0" y1="134.3" x2="311.0" y2="134.3" stroke="#c9c9c9" stroke-width="1.1" opacity="0.9"/><use href="#tpcd" fill="none" stroke="#fff" stroke-width="2.6" stroke-linejoin="round"/><path d="M0 167.6L12 166.3L25.4 164.6L28 167L32 172L37 176.2L42 177.8L43.5 180.3L48.5 182.8L55 182L52 186.2" fill="none" stroke="#8a8a8a" stroke-width="0.7" opacity="0.8"/><path d="M191.5 186.2L192.3 180.5L194 184L197 185L198.5 186.2" fill="none" stroke="#8a8a8a" stroke-width="0.9" opacity="0.8"/><text x="86.5" y="181.2" font-size="22.4" fill="#cccccc" fill-opacity="0.88" text-anchor="middle">75°E</text><text x="190.8" y="181.2" font-size="22.4" fill="#cccccc" fill-opacity="0.88" text-anchor="middle">90°E</text><text x="1.2" y="72.8" font-size="22.4" fill="#cccccc" fill-opacity="0.88">40°N</text><text x="1.2" y="141.9" font-size="22.4" fill="#cccccc" fill-opacity="0.88">30°N</text></g>
<g transform="translate(1686.7,772.0)" clip-path="url(#clipcd)"><rect width="311.0" height="186.2" fill="#fff1a8"/><path d="M-24.9 96.1C-20.8 88.9 -8.4 96.1 -0.3 95.3C7.8 94.5 15.6 92.4 23.7 91.3C31.7 90.2 41.7 88.7 47.9 88.9C54.1 89.0 56.8 91.0 60.9 92.1C64.9 93.2 68.2 94.3 72.2 95.3C76.3 96.4 82.7 95.9 85.2 98.6C87.6 101.3 87.9 107.2 86.8 111.5C85.7 115.8 83.3 121.0 78.7 124.5C74.1 128.0 67.1 130.4 59.3 132.6C51.4 134.7 41.7 136.3 31.8 137.4C21.8 138.5 9.2 138.8 -0.3 139.0C-9.7 139.3 -20.8 146.2 -24.9 139.0C-29.0 131.9 -29.0 103.4 -24.9 96.1Z" fill="#f4faad"/><path d="M-24.9 108.3C-20.8 104.6 -6.2 107.7 -0.3 108.3C5.6 108.8 7.4 109.6 10.7 111.5C14.0 113.4 18.3 116.9 19.6 119.6C21.0 122.3 20.8 126.1 18.8 127.7C16.8 129.3 10.7 128.9 7.5 129.3C4.3 129.7 5.1 130.0 -0.3 130.1C-5.7 130.3 -20.8 133.8 -24.9 130.1C-29.0 126.5 -29.0 111.9 -24.9 108.3Z" fill="#d1ed9c"/><path d="M-24.9 158.5C-20.8 158.5 -7.0 157.4 -0.3 158.5C6.5 159.5 11.6 162.0 15.6 164.9C19.6 167.9 22.6 172.5 23.7 176.3C24.7 180.0 22.3 182.7 22.0 187.6C21.8 192.4 22.0 202.4 22.0 205.4L-57.3 237.8Z" fill="#f4faad"/><path d="M166.9 121.2C167.2 119.8 170.0 117.9 172.6 117.2C175.1 116.5 179.8 116.4 182.3 117.2C184.7 118.0 187.4 120.6 187.1 122.0C186.9 123.5 183.3 125.5 180.7 126.1C178.0 126.7 173.2 126.6 170.9 125.8C168.6 125.0 166.6 122.7 166.9 121.2Z" fill="#f4faad"/><path d="M331.2 177.9C327.8 178.1 316.3 178.7 310.9 179.5C305.5 180.3 301.4 181.4 298.8 182.7C296.2 184.1 296.1 183.8 295.6 187.6C295.0 191.4 295.6 202.4 295.6 205.4L363.5 237.8Z" fill="#f4faad"/><path d="M-24.9 91.3C-20.8 91.0 -8.4 91.0 -0.3 89.7C7.8 88.3 14.3 85.5 23.7 83.2C33.1 80.9 46.3 77.8 56.0 75.9C65.7 74.0 75.5 70.8 81.9 71.9C88.4 73.0 89.8 80.1 94.9 82.4C100.0 84.7 107.0 84.3 112.7 85.6C118.3 87.0 122.1 90.5 128.9 90.5C135.6 90.5 145.0 85.4 153.1 85.6C161.2 85.9 169.3 89.1 177.4 92.1C185.5 95.1 193.6 99.1 201.7 103.4C209.8 107.7 219.5 113.1 226.0 118.0C232.4 122.9 237.6 128.8 240.5 132.6C243.5 136.3 241.6 137.7 243.8 140.7C245.9 143.6 249.7 148.2 253.5 150.4C257.3 152.5 261.6 152.5 266.4 153.6C271.3 154.7 277.2 155.2 282.6 156.8C288.0 158.5 294.1 161.4 298.8 163.3C303.5 165.2 305.5 166.8 310.9 168.2C316.3 169.5 327.8 170.9 331.2 171.4L363.5 -53.6L-57.3 -53.6Z" fill="#fece7c"/><path d="M-24.9 80.8C-20.8 80.5 -8.4 80.0 -0.3 79.2C7.8 78.3 15.6 77.3 23.7 75.9C31.7 74.6 41.2 73.2 47.9 71.1C54.7 68.9 59.5 66.7 64.1 63.0C68.7 59.2 71.4 52.2 75.5 48.4C79.5 44.6 82.2 41.8 88.4 40.3C94.6 38.8 104.6 38.7 112.7 39.5C120.8 40.3 130.2 42.9 137.0 45.2C143.7 47.5 149.9 50.6 153.1 53.3C156.4 56.0 153.7 58.9 156.4 61.4C159.1 63.8 163.1 65.4 169.3 67.8C175.5 70.3 185.5 72.7 193.6 75.9C201.7 79.2 211.1 83.5 217.9 87.2C224.6 91.0 227.3 94.0 234.1 98.6C240.8 103.2 251.6 110.4 258.3 114.8C265.1 119.1 270.5 121.2 274.5 124.5C278.6 127.7 279.9 130.7 282.6 134.2C285.3 137.7 286.0 143.1 290.7 145.5C295.4 147.9 304.2 147.9 310.9 148.7C317.7 149.6 327.8 150.1 331.2 150.4L363.5 -53.6L-57.3 -53.6Z" fill="#fa9b58"/><path d="M120.8 -13.1C121.6 -10.9 122.9 -3.3 125.6 0.2C128.3 3.7 131.0 5.3 137.0 7.9C142.9 10.6 153.1 15.0 161.2 16.0C169.3 17.1 179.0 16.3 185.5 14.4C192.0 12.5 197.4 7.1 200.1 4.7C202.8 2.3 201.2 3.1 201.7 0.2C202.2 -2.8 203.0 -10.9 203.3 -13.1Z" fill="#fece7c"/><path d="M-24.9 71.9C-20.8 71.6 -8.4 71.5 -0.3 70.3C7.8 69.0 15.6 66.9 23.7 64.6C31.7 62.3 41.2 60.0 47.9 56.5C54.7 53.0 59.5 47.9 64.1 43.6C68.7 39.2 70.9 34.9 75.5 30.6C80.0 26.3 84.6 21.4 91.6 17.7C98.7 13.9 108.6 10.9 117.5 7.9C126.4 5.0 137.8 2.3 145.0 0.2C152.3 -2.0 158.5 -4.1 161.2 -5.0L-57.3 -53.6Z" fill="#ee6445"/><path d="M-24.9 67.0C-20.8 66.7 -7.0 66.3 -0.3 65.4C6.5 64.5 10.2 62.8 15.6 61.4C20.9 59.9 26.4 58.9 31.8 56.5C37.2 54.1 43.1 50.3 47.9 46.8C52.8 43.3 56.8 39.2 60.9 35.5C64.9 31.7 67.6 28.2 72.2 24.1C76.8 20.1 81.7 14.7 88.4 11.2C95.1 7.7 106.5 4.9 112.7 3.1C118.9 1.3 121.6 1.3 125.6 0.2C129.7 -0.9 135.1 -2.8 137.0 -3.4L-57.3 -53.6Z" fill="#d0384e"/><path d="M256.7 -13.1C256.7 -10.9 257.8 -4.4 256.7 0.2C255.6 4.8 254.0 9.9 250.2 14.4C246.5 19.0 240.8 23.1 234.1 27.4C227.3 31.7 215.4 36.8 209.8 40.3C204.1 43.8 201.4 45.2 200.1 48.4C198.7 51.6 199.3 56.8 201.7 59.7C204.1 62.7 209.8 64.1 214.6 66.2C219.5 68.4 224.9 69.4 230.8 72.7C236.8 75.9 244.3 81.3 250.2 85.6C256.2 89.9 261.0 95.1 266.4 98.6C271.8 102.1 278.6 104.5 282.6 106.7C286.7 108.8 286.0 109.6 290.7 111.5C295.4 113.4 304.2 116.4 310.9 118.0C317.7 119.6 327.8 120.7 331.2 121.2L363.5 -53.6Z" fill="#ee6445"/><path d="M331.2 -13.1C326.6 -32.1 308.5 -15.3 303.6 -13.1C298.8 -10.9 303.6 -4.7 302.0 0.2C300.4 5.0 298.5 11.5 293.9 16.0C289.4 20.6 281.8 24.1 274.5 27.4C267.2 30.6 255.9 32.8 250.2 35.5C244.6 38.2 241.9 40.6 240.5 43.6C239.2 46.5 240.0 50.3 242.1 53.3C244.3 56.2 248.9 58.4 253.5 61.4C258.1 64.3 265.1 67.6 269.7 71.1C274.2 74.6 277.5 78.6 281.0 82.4C284.5 86.2 287.7 91.0 290.7 93.7C293.7 96.4 295.4 97.5 298.8 98.6C302.2 99.7 305.5 99.8 310.9 100.2C316.3 100.6 327.8 119.9 331.2 101.0C334.5 82.1 335.7 5.9 331.2 -13.1Z" fill="#d0384e"/><path d="M23.7 205.4C23.7 202.4 21.5 192.4 23.7 187.6C25.8 182.7 31.8 179.0 36.6 176.3C41.5 173.6 47.7 171.7 52.8 171.4C57.9 171.1 63.6 172.8 67.4 174.6C71.1 176.5 73.8 180.6 75.5 182.7C77.1 184.9 76.8 183.8 77.1 187.6C77.3 191.4 77.1 202.4 77.1 205.4Z" fill="#fece7c"/><path d="M44.7 205.4C44.7 202.4 43.4 191.6 44.7 187.6C46.1 183.5 49.8 181.9 52.8 181.1C55.8 180.3 60.1 181.7 62.5 182.7C64.9 183.8 66.6 183.8 67.4 187.6C68.2 191.4 67.4 202.4 67.4 205.4Z" fill="#fa9b58"/><line x1="85.9" y1="0" x2="85.9" y2="186.2" stroke="#c9c9c9" stroke-width="1.1" opacity="0.9"/><line x1="190.2" y1="0" x2="190.2" y2="186.2" stroke="#c9c9c9" stroke-width="1.1" opacity="0.9"/><line x1="294.4" y1="0" x2="294.4" y2="186.2" stroke="#c9c9c9" stroke-width="1.1" opacity="0.9"/><line x1="0" y1="65.2" x2="311.0" y2="65.2" stroke="#c9c9c9" stroke-width="1.1" opacity="0.9"/><line x1="0" y1="134.3" x2="311.0" y2="134.3" stroke="#c9c9c9" stroke-width="1.1" opacity="0.9"/><use href="#tpcd" fill="none" stroke="#fff" stroke-width="2.6" stroke-linejoin="round"/><path d="M0 167.6L12 166.3L25.4 164.6L28 167L32 172L37 176.2L42 177.8L43.5 180.3L48.5 182.8L55 182L52 186.2" fill="none" stroke="#8a8a8a" stroke-width="0.7" opacity="0.8"/><path d="M191.5 186.2L192.3 180.5L194 184L197 185L198.5 186.2" fill="none" stroke="#8a8a8a" stroke-width="0.9" opacity="0.8"/><text x="86.5" y="181.2" font-size="22.4" fill="#cccccc" fill-opacity="0.88" text-anchor="middle">75°E</text><text x="190.8" y="181.2" font-size="22.4" fill="#cccccc" fill-opacity="0.88" text-anchor="middle">90°E</text><text x="1.2" y="72.8" font-size="22.4" fill="#cccccc" fill-opacity="0.88">40°N</text><text x="1.2" y="141.9" font-size="22.4" fill="#cccccc" fill-opacity="0.88">30°N</text></g>
<rect x="1998.9" y="772.0" width="1.6" height="186.2" fill="#d0384e"/>
</g>
<g id="heat" shape-rendering="crispEdges">
<rect x="120.1" y="1033.7" width="312.6" height="25.5" fill="#5673e0"/>
<rect x="120.1" y="1058.7" width="312.6" height="24.7" fill="#a2c1ff"/>
<rect x="120.1" y="1082.9" width="312.6" height="31.8" fill="#e3d9d3"/>
<rect x="120.1" y="1114.2" width="312.6" height="36.2" fill="#f7b194"/>
<rect x="120.1" y="1149.9" width="312.6" height="31.7" fill="#f7a688"/>
<rect x="120.1" y="1181.1" width="312.6" height="27.2" fill="#f4987a"/>
<rect x="120.1" y="1207.8" width="312.6" height="24.5" fill="#ee8669"/>
<rect x="120.1" y="1231.8" width="312.6" height="21.5" fill="#e36b54"/>
<rect x="120.1" y="1252.8" width="312.6" height="20.2" fill="#d44e41"/>
<rect x="120.1" y="1272.5" width="312.6" height="18.0" fill="#d44e41"/>
<rect x="120.1" y="1290.0" width="312.6" height="15.2" fill="#d44e41"/>
<rect x="432.2" y="1033.7" width="313.3" height="25.5" fill="#f7b093"/>
<rect x="432.2" y="1058.7" width="313.3" height="24.7" fill="#f7b093"/>
<rect x="432.2" y="1082.9" width="313.3" height="31.8" fill="#f7bca1"/>
<rect x="432.2" y="1114.2" width="313.3" height="36.2" fill="#eed0c0"/>
<rect x="432.2" y="1149.9" width="313.3" height="31.7" fill="#e3d9d3"/>
<rect x="432.2" y="1181.1" width="313.3" height="27.2" fill="#e0dbd8"/>
<rect x="432.2" y="1207.8" width="313.3" height="24.5" fill="#e2dad5"/>
<rect x="432.2" y="1231.8" width="313.3" height="21.5" fill="#e7d7ce"/>
<rect x="432.2" y="1252.8" width="313.3" height="20.2" fill="#edd1c2"/>
<rect x="432.2" y="1272.5" width="313.3" height="18.0" fill="#edd1c2"/>
<rect x="432.2" y="1290.0" width="313.3" height="15.2" fill="#edd1c2"/>
<rect x="745.0" y="1033.7" width="314.1" height="25.5" fill="#f3c8b2"/>
<rect x="745.0" y="1058.7" width="314.1" height="24.7" fill="#f39577"/>
<rect x="745.0" y="1082.9" width="314.1" height="31.8" fill="#df634e"/>
<rect x="745.0" y="1114.2" width="314.1" height="36.2" fill="#d75445"/>
<rect x="745.0" y="1149.9" width="314.1" height="31.7" fill="#d75445"/>
<rect x="745.0" y="1181.1" width="314.1" height="27.2" fill="#df634e"/>
<rect x="745.0" y="1207.8" width="314.1" height="24.5" fill="#e7745b"/>
<rect x="745.0" y="1231.8" width="314.1" height="21.5" fill="#ee8468"/>
<rect x="745.0" y="1252.8" width="314.1" height="20.2" fill="#f08a6c"/>
<rect x="745.0" y="1272.5" width="314.1" height="18.0" fill="#f29072"/>
<rect x="745.0" y="1290.0" width="314.1" height="15.2" fill="#f4987a"/>
<rect x="1058.6" y="1033.7" width="314.3" height="25.5" fill="#dddcdc"/>
<rect x="1058.6" y="1058.7" width="314.3" height="24.7" fill="#f2c9b4"/>
<rect x="1058.6" y="1082.9" width="314.3" height="31.8" fill="#f7a889"/>
<rect x="1058.6" y="1114.2" width="314.3" height="36.2" fill="#ec8165"/>
<rect x="1058.6" y="1149.9" width="314.3" height="31.7" fill="#ec8165"/>
<rect x="1058.6" y="1181.1" width="314.3" height="27.2" fill="#f18d6f"/>
<rect x="1058.6" y="1207.8" width="314.3" height="24.5" fill="#f59f80"/>
<rect x="1058.6" y="1231.8" width="314.3" height="21.5" fill="#f7a889"/>
<rect x="1058.6" y="1252.8" width="314.3" height="20.2" fill="#f7a889"/>
<rect x="1058.6" y="1272.5" width="314.3" height="18.0" fill="#f7a98b"/>
<rect x="1058.6" y="1290.0" width="314.3" height="15.2" fill="#f7b093"/>
<rect x="1372.4" y="1033.7" width="314.1" height="25.5" fill="#edd1c2"/>
<rect x="1372.4" y="1058.7" width="314.1" height="24.7" fill="#f2c9b4"/>
<rect x="1372.4" y="1082.9" width="314.1" height="31.8" fill="#f6bda2"/>
<rect x="1372.4" y="1114.2" width="314.1" height="36.2" fill="#f7b194"/>
<rect x="1372.4" y="1149.9" width="314.1" height="31.7" fill="#f7a889"/>
<rect x="1372.4" y="1181.1" width="314.1" height="27.2" fill="#f7b093"/>
<rect x="1372.4" y="1207.8" width="314.1" height="24.5" fill="#f7b396"/>
<rect x="1372.4" y="1231.8" width="314.1" height="21.5" fill="#f7ad90"/>
<rect x="1372.4" y="1252.8" width="314.1" height="20.2" fill="#f5a081"/>
<rect x="1372.4" y="1272.5" width="314.1" height="18.0" fill="#f5a081"/>
<rect x="1372.4" y="1290.0" width="314.1" height="15.2" fill="#f5a081"/>
<rect x="1686.0" y="1033.7" width="313.1" height="25.5" fill="#d4dbe6"/>
<rect x="1686.0" y="1058.7" width="313.1" height="24.7" fill="#dddcdc"/>
<rect x="1686.0" y="1082.9" width="313.1" height="31.8" fill="#e6d7cf"/>
<rect x="1686.0" y="1114.2" width="313.1" height="36.2" fill="#f3c7b1"/>
<rect x="1686.0" y="1149.9" width="313.1" height="31.7" fill="#f3c7b1"/>
<rect x="1686.0" y="1181.1" width="313.1" height="27.2" fill="#f3c7b1"/>
<rect x="1686.0" y="1207.8" width="313.1" height="24.5" fill="#f2c9b4"/>
<rect x="1686.0" y="1231.8" width="313.1" height="21.5" fill="#ead5c9"/>
<rect x="1686.0" y="1252.8" width="313.1" height="20.2" fill="#e0dbd8"/>
<rect x="1686.0" y="1272.5" width="313.1" height="18.0" fill="#e0dbd8"/>
<rect x="1686.0" y="1290.0" width="313.1" height="15.2" fill="#e0dbd8"/>
</g>
<defs><linearGradient id="cbg0" x1="0" y1="0" x2="1" y2="0"><stop offset="0.0000" stop-color="#874e0a"/><stop offset="0.0312" stop-color="#93580f"/><stop offset="0.0625" stop-color="#a16518"/><stop offset="0.0938" stop-color="#ad7021"/><stop offset="0.1250" stop-color="#bb7d2a"/><stop offset="0.1562" stop-color="#c58e3d"/><stop offset="0.1875" stop-color="#cd9d50"/><stop offset="0.2188" stop-color="#d6af65"/><stop offset="0.2500" stop-color="#ddbe78"/><stop offset="0.2812" stop-color="#e4ca8c"/><stop offset="0.3125" stop-color="#e9d39d"/><stop offset="0.3438" stop-color="#f0deb0"/><stop offset="0.3750" stop-color="#f5e7c0"/><stop offset="0.4062" stop-color="#f6ebcf"/><stop offset="0.4375" stop-color="#f6eedb"/><stop offset="0.4688" stop-color="#f5f2e8"/><stop offset="0.5000" stop-color="#f4f5f5"/><stop offset="0.5312" stop-color="#e9f2f1"/><stop offset="0.5625" stop-color="#ddefed"/><stop offset="0.5938" stop-color="#d2ede9"/><stop offset="0.6250" stop-color="#c4e9e4"/><stop offset="0.6562" stop-color="#b4e2db"/><stop offset="0.6875" stop-color="#a0dad1"/><stop offset="0.7188" stop-color="#8fd3c9"/><stop offset="0.7500" stop-color="#7ccabe"/><stop offset="0.7812" stop-color="#6abdb2"/><stop offset="0.8125" stop-color="#55aea5"/><stop offset="0.8438" stop-color="#419f97"/><stop offset="0.8750" stop-color="#31938b"/><stop offset="0.9062" stop-color="#23867e"/><stop offset="0.9375" stop-color="#167a72"/><stop offset="0.9688" stop-color="#086d65"/><stop offset="1.0000" stop-color="#016259"/></linearGradient>
<linearGradient id="cbg1" x1="0" y1="0" x2="1" y2="0"><stop offset="0.0000" stop-color="#016259"/><stop offset="0.0312" stop-color="#086d65"/><stop offset="0.0625" stop-color="#167a72"/><stop offset="0.0938" stop-color="#23867e"/><stop offset="0.1250" stop-color="#31938b"/><stop offset="0.1562" stop-color="#44a299"/><stop offset="0.1875" stop-color="#55aea5"/><stop offset="0.2188" stop-color="#6abdb2"/><stop offset="0.2500" stop-color="#7ccabe"/><stop offset="0.2812" stop-color="#8fd3c9"/><stop offset="0.3125" stop-color="#a0dad1"/><stop offset="0.3438" stop-color="#b4e2db"/><stop offset="0.3750" stop-color="#c4e9e4"/><stop offset="0.4062" stop-color="#d2ede9"/><stop offset="0.4375" stop-color="#ddefed"/><stop offset="0.4688" stop-color="#e9f2f1"/><stop offset="0.5000" stop-color="#f5f5f4"/><stop offset="0.5312" stop-color="#f5f2e8"/><stop offset="0.5625" stop-color="#f6eedb"/><stop offset="0.5938" stop-color="#f6ebcf"/><stop offset="0.6250" stop-color="#f5e7c0"/><stop offset="0.6562" stop-color="#f0deb0"/><stop offset="0.6875" stop-color="#e9d39d"/><stop offset="0.7188" stop-color="#e4ca8c"/><stop offset="0.7500" stop-color="#ddbe78"/><stop offset="0.7812" stop-color="#d6af65"/><stop offset="0.8125" stop-color="#cd9d50"/><stop offset="0.8438" stop-color="#c48b3a"/><stop offset="0.8750" stop-color="#bb7d2a"/><stop offset="0.9062" stop-color="#ad7021"/><stop offset="0.9375" stop-color="#a16518"/><stop offset="0.9688" stop-color="#93580f"/><stop offset="1.0000" stop-color="#874e0a"/></linearGradient>
<linearGradient id="cbg4" x1="0" y1="0" x2="1" y2="0"><stop offset="0.0000" stop-color="#5673e0"/><stop offset="0.0312" stop-color="#5e7de7"/><stop offset="0.0625" stop-color="#6788ee"/><stop offset="0.0938" stop-color="#6f92f3"/><stop offset="0.1250" stop-color="#799cf8"/><stop offset="0.1562" stop-color="#82a6fb"/><stop offset="0.1875" stop-color="#8badfd"/><stop offset="0.2188" stop-color="#94b6ff"/><stop offset="0.2500" stop-color="#9dbdff"/><stop offset="0.2812" stop-color="#a6c4fe"/><stop offset="0.3125" stop-color="#aec9fc"/><stop offset="0.3438" stop-color="#b7cff9"/><stop offset="0.3750" stop-color="#bfd3f6"/><stop offset="0.4062" stop-color="#c7d7f0"/><stop offset="0.4375" stop-color="#cedaeb"/><stop offset="0.4688" stop-color="#d6dce4"/><stop offset="0.5000" stop-color="#dddcdc"/><stop offset="0.5312" stop-color="#e3d9d3"/><stop offset="0.5625" stop-color="#ead5c9"/><stop offset="0.5938" stop-color="#eed0c0"/><stop offset="0.6250" stop-color="#f2cab5"/><stop offset="0.6562" stop-color="#f5c4ac"/><stop offset="0.6875" stop-color="#f7bca1"/><stop offset="0.7188" stop-color="#f7b497"/><stop offset="0.7500" stop-color="#f7aa8c"/><stop offset="0.7812" stop-color="#f6a283"/><stop offset="0.8125" stop-color="#f39778"/><stop offset="0.8438" stop-color="#f08b6e"/><stop offset="0.8750" stop-color="#ec8165"/><stop offset="0.9062" stop-color="#e7745b"/><stop offset="0.9375" stop-color="#e26952"/><stop offset="0.9688" stop-color="#da5a49"/><stop offset="1.0000" stop-color="#d44e41"/></linearGradient>
</defs>
<g id="colorbars">
<rect x="1101.8" y="38.0" width="856.6" height="13.0" fill="url(#cbg0)"/>
<path d="M1102.1 38.0L1071.0 44.5L1102.1 51.0Z" fill="#874e0a"/>
<path d="M1958.1 38.0L1989.2 44.5L1958.1 51.0Z" fill="#016259"/>
<text x="1101.8" y="26.2" font-size="34.72" fill="#555555" text-anchor="middle">−100</text>
<text x="1208.9" y="26.2" font-size="34.72" fill="#555555" text-anchor="middle">−75</text>
<text x="1316.0" y="26.2" font-size="34.72" fill="#555555" text-anchor="middle">−50</text>
<text x="1423.0" y="26.2" font-size="34.72" fill="#555555" text-anchor="middle">−25</text>
<text x="1530.1" y="26.2" font-size="34.72" fill="#555555" text-anchor="middle">0</text>
<text x="1637.2" y="26.2" font-size="34.72" fill="#555555" text-anchor="middle">25</text>
<text x="1744.2" y="26.2" font-size="34.72" fill="#555555" text-anchor="middle">50</text>
<text x="1851.3" y="26.2" font-size="34.72" fill="#555555" text-anchor="middle">75</text>
<text x="1958.4" y="26.2" font-size="34.72" fill="#555555" text-anchor="middle">100</text>
<rect x="1101.8" y="260.0" width="856.6" height="13.0" fill="url(#cbg1)"/>
<path d="M1102.1 260.0L1071.0 266.5L1102.1 273.0Z" fill="#016259"/>
<path d="M1958.1 260.0L1989.2 266.5L1958.1 273.0Z" fill="#874e0a"/>
<text x="1101.8" y="248.0" font-size="34.72" fill="#555555" text-anchor="middle">−3</text>
<text x="1244.6" y="248.0" font-size="34.72" fill="#555555" text-anchor="middle">−2</text>
<text x="1387.3" y="248.0" font-size="34.72" fill="#555555" text-anchor="middle">−1</text>
<text x="1530.1" y="248.0" font-size="34.72" fill="#555555" text-anchor="middle">0</text>
<text x="1672.9" y="248.0" font-size="34.72" fill="#555555" text-anchor="middle">1</text>
<text x="1815.6" y="248.0" font-size="34.72" fill="#555555" text-anchor="middle">2</text>
<text x="1958.4" y="248.0" font-size="34.72" fill="#555555" text-anchor="middle">3</text>
<rect x="1101.80" y="476.0" width="107.38" height="13.0" fill="#5cb7aa"/>
<rect x="1208.88" y="476.0" width="107.38" height="13.0" fill="#97d5a4"/>
<rect x="1315.95" y="476.0" width="107.38" height="13.0" fill="#d1ed9c"/>
<rect x="1423.03" y="476.0" width="107.38" height="13.0" fill="#f4faad"/>
<rect x="1530.10" y="476.0" width="107.38" height="13.0" fill="#fff1a8"/>
<rect x="1637.18" y="476.0" width="107.38" height="13.0" fill="#fece7c"/>
<rect x="1744.25" y="476.0" width="107.38" height="13.0" fill="#fa9b58"/>
<rect x="1851.33" y="476.0" width="107.38" height="13.0" fill="#ee6445"/>
<path d="M1102.1 476.0L1071.0 482.5L1102.1 489.0Z" fill="#3682ba"/>
<path d="M1958.1 476.0L1989.2 482.5L1958.1 489.0Z" fill="#d0384e"/>
<text x="1101.8" y="464.0" font-size="34.72" fill="#555555" text-anchor="middle">−400</text>
<text x="1208.9" y="464.0" font-size="34.72" fill="#555555" text-anchor="middle">−300</text>
<text x="1316.0" y="464.0" font-size="34.72" fill="#555555" text-anchor="middle">−200</text>
<text x="1423.0" y="464.0" font-size="34.72" fill="#555555" text-anchor="middle">−100</text>
<text x="1530.1" y="464.0" font-size="34.72" fill="#555555" text-anchor="middle">0</text>
<text x="1637.2" y="464.0" font-size="34.72" fill="#555555" text-anchor="middle">100</text>
<text x="1744.2" y="464.0" font-size="34.72" fill="#555555" text-anchor="middle">200</text>
<text x="1851.3" y="464.0" font-size="34.72" fill="#555555" text-anchor="middle">300</text>
<text x="1958.4" y="464.0" font-size="34.72" fill="#555555" text-anchor="middle">400</text>
<rect x="1101.80" y="753.8" width="107.38" height="12.4" fill="#5cb7aa"/>
<rect x="1208.88" y="753.8" width="107.38" height="12.4" fill="#97d5a4"/>
<rect x="1315.95" y="753.8" width="107.38" height="12.4" fill="#d1ed9c"/>
<rect x="1423.03" y="753.8" width="107.38" height="12.4" fill="#f4faad"/>
<rect x="1530.10" y="753.8" width="107.38" height="12.4" fill="#fff1a8"/>
<rect x="1637.18" y="753.8" width="107.38" height="12.4" fill="#fece7c"/>
<rect x="1744.25" y="753.8" width="107.38" height="12.4" fill="#fa9b58"/>
<rect x="1851.33" y="753.8" width="107.38" height="12.4" fill="#ee6445"/>
<path d="M1102.1 753.8L1071.0 760.0L1102.1 766.2Z" fill="#3682ba"/>
<path d="M1958.1 753.8L1989.2 760.0L1958.1 766.2Z" fill="#d0384e"/>
<text x="1101.8" y="741.0" font-size="34.72" fill="#555555" text-anchor="middle">−200</text>
<text x="1208.9" y="741.0" font-size="34.72" fill="#555555" text-anchor="middle">−150</text>
<text x="1316.0" y="741.0" font-size="34.72" fill="#555555" text-anchor="middle">−100</text>
<text x="1423.0" y="741.0" font-size="34.72" fill="#555555" text-anchor="middle">−50</text>
<text x="1530.1" y="741.0" font-size="34.72" fill="#555555" text-anchor="middle">0</text>
<text x="1637.2" y="741.0" font-size="34.72" fill="#555555" text-anchor="middle">50</text>
<text x="1744.2" y="741.0" font-size="34.72" fill="#555555" text-anchor="middle">100</text>
<text x="1851.3" y="741.0" font-size="34.72" fill="#555555" text-anchor="middle">150</text>
<text x="1958.4" y="741.0" font-size="34.72" fill="#555555" text-anchor="middle">200</text>
<rect x="1101.8" y="1013.0" width="856.6" height="13.0" fill="url(#cbg4)"/>
<path d="M1102.1 1013.0L1071.0 1019.5L1102.1 1026.0Z" fill="#5673e0"/>
<path d="M1958.1 1013.0L1989.2 1019.5L1958.1 1026.0Z" fill="#d44e41"/>
<text x="1101.8" y="1000.0" font-size="34.72" fill="#555555" text-anchor="middle">−1.5</text>
<text x="1244.6" y="1000.0" font-size="34.72" fill="#555555" text-anchor="middle">−1</text>
<text x="1387.3" y="1000.0" font-size="34.72" fill="#555555" text-anchor="middle">−0.5</text>
<text x="1530.1" y="1000.0" font-size="34.72" fill="#555555" text-anchor="middle">0</text>
<text x="1672.9" y="1000.0" font-size="34.72" fill="#555555" text-anchor="middle">0.5</text>
<text x="1815.6" y="1000.0" font-size="34.72" fill="#555555" text-anchor="middle">1</text>
<text x="1958.4" y="1000.0" font-size="34.72" fill="#555555" text-anchor="middle">1.5</text>
</g>
<g id="labels">
<text x="51.2" y="46.2" font-size="39.30" font-weight="bold" fill="#000">a</text>
<text x="139.6" y="49.0" font-size="34.72" fill="#262626">Diff. precipitation (mm)</text>
<text x="49.8" y="267.8" font-size="39.30" font-weight="bold" fill="#000">b</text>
<text x="139.6" y="266.5" font-size="34.72" fill="#262626">Diff. moisture divergence (kg m<tspan dy="-12.2" font-size="24.3">−2</tspan><tspan dy="12.2" font-size="24.3">​</tspan> day<tspan dy="-12.2" font-size="24.3">−1</tspan><tspan dy="12.2" font-size="24.3">​</tspan>)</text>
<text x="54.5" y="482.4" font-size="39.30" font-weight="bold" fill="#000">c</text>
<text x="139.6" y="481.8" font-size="34.72" fill="#262626">Diff. geopotential at 200 hPa (m<tspan dy="-12.2" font-size="24.3">2</tspan><tspan dy="12.2" font-size="24.3">​</tspan> s<tspan dy="-12.2" font-size="24.3">−2</tspan><tspan dy="12.2" font-size="24.3">​</tspan>)</text>
<text x="49.6" y="759.4" font-size="39.30" font-weight="bold" fill="#000">d</text>
<text x="139.6" y="758.6" font-size="34.72" fill="#262626">Diff. geopotential at 500 hPa (m<tspan dy="-12.2" font-size="24.3">2</tspan><tspan dy="12.2" font-size="24.3">​</tspan> s<tspan dy="-12.2" font-size="24.3">−2</tspan><tspan dy="12.2" font-size="24.3">​</tspan>)</text>
<text x="51.2" y="1016.6" font-size="39.30" font-weight="bold" fill="#000">e</text>
<text x="139.6" y="1021.2" font-size="34.72" fill="#262626">Diff. air temperature (K)</text>
<text x="266.0" y="85.5" font-size="34.72" fill="#484848" text-anchor="end">−0.4</text>
<text x="263.6" y="124.7" font-size="34.72" fill="#484848" text-anchor="end">2.5</text>
<text x="577.6" y="85.5" font-size="34.72" fill="#484848" text-anchor="end">1.1</text>
<text x="580.1" y="124.7" font-size="34.72" fill="#484848" text-anchor="end">−0.9</text>
<text x="892.2" y="85.5" font-size="34.72" fill="#484848" text-anchor="end">0.0</text>
<text x="892.1" y="124.7" font-size="34.72" fill="#484848" text-anchor="end">0.6</text>
<text x="1206.1" y="85.5" font-size="34.72" fill="#484848" text-anchor="end">3.9</text>
<text x="1205.1" y="124.7" font-size="34.72" fill="#484848" text-anchor="end">11.5</text>
<text x="1522.5" y="85.5" font-size="34.72" fill="#484848" text-anchor="end">−0.1</text>
<text x="1522.7" y="124.7" font-size="34.72" fill="#484848" text-anchor="end">16.8</text>
<text x="1834.3" y="85.5" font-size="34.72" fill="#484848" text-anchor="end">11.<tspan dx="-2.6">7</tspan></text>
<text x="1833.0" y="124.7" font-size="34.72" fill="#484848" text-anchor="end">26.5</text>
<text x="264.3" y="307.2" font-size="34.72" fill="#484848" text-anchor="end">0.0</text>
<text x="266.2" y="345.7" font-size="34.72" fill="#484848" text-anchor="end">−0.1</text>
<text x="580.3" y="307.2" font-size="34.72" fill="#484848" text-anchor="end">−0.1</text>
<text x="577.9" y="345.7" font-size="34.72" fill="#484848" text-anchor="end">0.0</text>
<text x="894.1" y="307.2" font-size="34.72" fill="#484848" text-anchor="end">−0.1</text>
<text x="893.6" y="345.7" font-size="34.72" fill="#484848" text-anchor="end">−0.2</text>
<text x="1208.3" y="307.2" font-size="34.72" fill="#484848" text-anchor="end">−0.1</text>
<text x="1208.1" y="345.7" font-size="34.72" fill="#484848" text-anchor="end">−0.3</text>
<text x="1523.2" y="307.2" font-size="34.72" fill="#484848" text-anchor="end">0.2</text>
<text x="1522.3" y="345.7" font-size="34.72" fill="#484848" text-anchor="end">−0.4</text>
<text x="1836.9" y="307.2" font-size="34.72" fill="#484848" text-anchor="end">−0.4</text>
<text x="1834.2" y="345.7" font-size="34.72" fill="#484848" text-anchor="end">−0.<tspan dx="-2.6">7</tspan></text>
<text x="264.6" y="524.1" font-size="34.72" fill="#484848" text-anchor="end">302.8</text>
<text x="264.8" y="562.6" font-size="34.72" fill="#484848" text-anchor="end">318.8</text>
<text x="577.3" y="524.1" font-size="34.72" fill="#484848" text-anchor="end">8.0</text>
<text x="579.8" y="562.6" font-size="34.72" fill="#484848" text-anchor="end">−57<tspan dx="-2.6">.</tspan>6</text>
<text x="892.9" y="524.1" font-size="34.72" fill="#484848" text-anchor="end">446.4</text>
<text x="891.8" y="562.6" font-size="34.72" fill="#484848" text-anchor="end">487<tspan dx="-2.6">.</tspan>0</text>
<text x="1203.9" y="524.1" font-size="34.72" fill="#484848" text-anchor="end">377<tspan dx="-2.6">.</tspan>8</text>
<text x="1205.9" y="562.6" font-size="34.72" fill="#484848" text-anchor="end">498.8</text>
<text x="1520.2" y="524.1" font-size="34.72" fill="#484848" text-anchor="end">233.9</text>
<text x="1518.6" y="562.6" font-size="34.72" fill="#484848" text-anchor="end">251.2</text>
<text x="1833.1" y="524.1" font-size="34.72" fill="#484848" text-anchor="end">146.2</text>
<text x="1833.5" y="562.6" font-size="34.72" fill="#484848" text-anchor="end">87<tspan dx="-2.6">.</tspan>8</text>
<text x="264.9" y="800.5" font-size="34.72" fill="#484848" text-anchor="end">191.4</text>
<text x="262.2" y="839.0" font-size="34.72" fill="#484848" text-anchor="end">198.<tspan dx="-2.6">7</tspan></text>
<text x="578.3" y="800.5" font-size="34.72" fill="#484848" text-anchor="end">−71.0</text>
<text x="578.5" y="839.0" font-size="34.72" fill="#484848" text-anchor="end">−64.<tspan dx="-2.6">7</tspan></text>
<text x="893.5" y="800.5" font-size="34.72" fill="#484848" text-anchor="end">94.2</text>
<text x="892.2" y="839.0" font-size="34.72" fill="#484848" text-anchor="end">97<tspan dx="-2.6">.</tspan>2</text>
<text x="1202.8" y="800.5" font-size="34.72" fill="#484848" text-anchor="end">142.<tspan dx="-2.6">7</tspan></text>
<text x="1204.8" y="839.0" font-size="34.72" fill="#484848" text-anchor="end">147<tspan dx="-2.6">.</tspan>8</text>
<text x="1518.1" y="800.5" font-size="34.72" fill="#484848" text-anchor="end">57<tspan dx="-2.6">.</tspan>5</text>
<text x="1517.5" y="839.0" font-size="34.72" fill="#484848" text-anchor="end">43.3</text>
<text x="1832.3" y="800.5" font-size="34.72" fill="#484848" text-anchor="end">57<tspan dx="-2.6">.</tspan>4</text>
<text x="1831.1" y="839.0" font-size="34.72" fill="#484848" text-anchor="end">24.9</text>
<text x="115.4" y="1059.0" font-size="34.72" fill="#555555" text-anchor="end">200</text>
<text x="115.4" y="1145.7" font-size="34.72" fill="#555555" text-anchor="end">300</text>
<text x="115.4" y="1207.6" font-size="34.72" fill="#555555" text-anchor="end">400</text>
<text x="115.4" y="1255.3" font-size="34.72" fill="#555555" text-anchor="end">500</text>
<text x="115.4" y="1294.4" font-size="34.72" fill="#555555" text-anchor="end">600</text>
<text transform="translate(26.4,1169.5) rotate(-90)" font-size="34.72" fill="#555555" text-anchor="middle">Pressure (hPa)</text>
<text x="275.2" y="1336.7" font-size="34.72" font-weight="bold" fill="#2b2b2b" text-anchor="middle">Mar</text>
<text x="587.7" y="1336.7" font-size="34.72" font-weight="bold" fill="#2b2b2b" text-anchor="middle">Apr</text>
<text x="900.9" y="1336.7" font-size="34.72" font-weight="bold" fill="#2b2b2b" text-anchor="middle">May</text>
<text x="1214.6" y="1336.7" font-size="34.72" font-weight="bold" fill="#2b2b2b" text-anchor="middle">Jun</text>
<text x="1528.3" y="1336.7" font-size="34.72" font-weight="bold" fill="#2b2b2b" text-anchor="middle">Jul</text>
<text x="1841.4" y="1336.7" font-size="34.72" font-weight="bold" fill="#2b2b2b" text-anchor="middle">Aug</text>
</g>
</svg>
</body></html>
